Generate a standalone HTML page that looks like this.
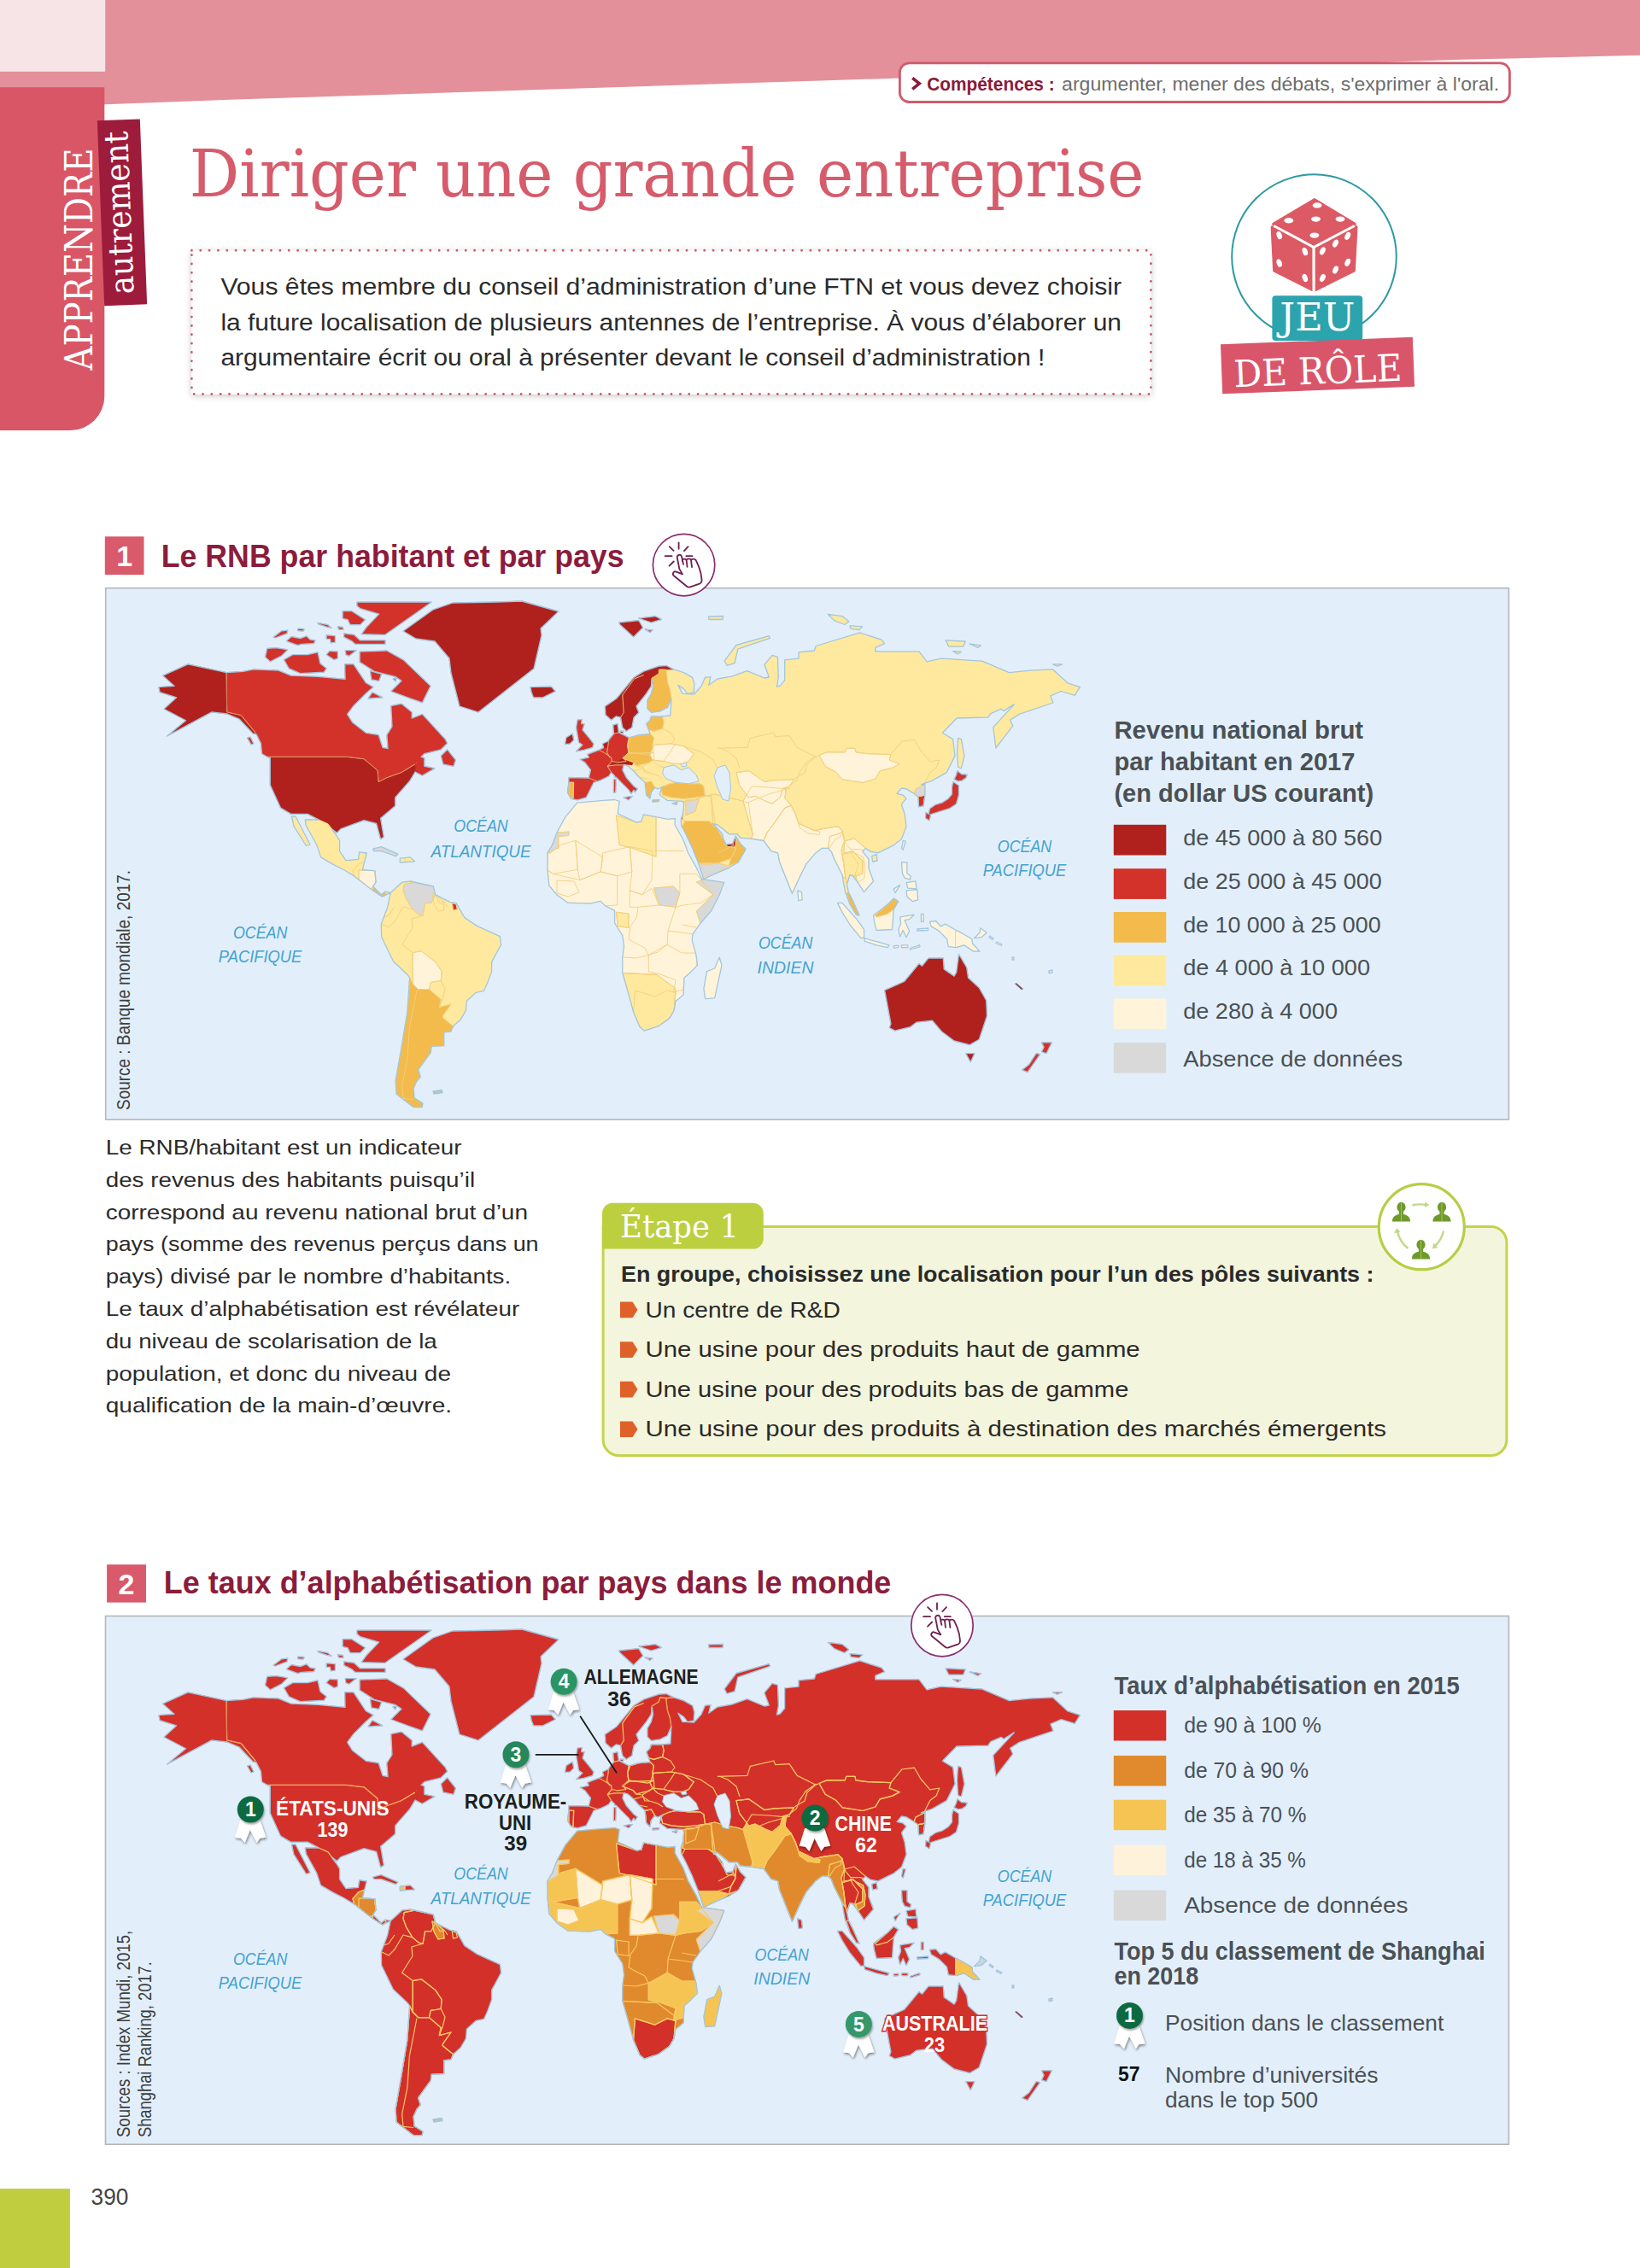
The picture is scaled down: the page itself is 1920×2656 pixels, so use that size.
<!DOCTYPE html>
<html lang="fr"><head><meta charset="utf-8"><title>Diriger une grande entreprise</title>
<style>html,body{margin:0;padding:0;background:#fff}svg{display:block}</style></head>
<body><svg width="1920" height="2656" viewBox="0 0 1920 2656">
<rect x="0" y="0" width="1920" height="2656" fill="#fff"/>
<defs>
<clipPath id="c1"><rect x="124.5" y="689.5" width="1641" height="621"/></clipPath>
<clipPath id="c2"><rect x="124.3" y="1893.3" width="1641" height="617"/></clipPath>
<filter id="boxshadow" x="-5%" y="-10%" width="110%" height="125%"><feGaussianBlur in="SourceAlpha" stdDeviation="4"/><feOffset dx="0" dy="2"/><feComponentTransfer><feFuncA type="linear" slope="0.22"/></feComponentTransfer><feMerge><feMergeNode/><feMergeNode in="SourceGraphic"/></feMerge></filter>
<filter id="shd" x="-30%" y="-30%" width="160%" height="160%"><feGaussianBlur in="SourceAlpha" stdDeviation="1.5"/><feOffset dx="1" dy="1.5"/><feComponentTransfer><feFuncA type="linear" slope="0.45"/></feComponentTransfer><feMerge><feMergeNode/><feMergeNode in="SourceGraphic"/></feMerge></filter>
<filter id="shd2" x="-30%" y="-30%" width="160%" height="160%"><feGaussianBlur in="SourceAlpha" stdDeviation="1.2"/><feOffset dx="0.8" dy="1.5"/><feComponentTransfer><feFuncA type="linear" slope="0.35"/></feComponentTransfer><feMerge><feMergeNode/><feMergeNode in="SourceGraphic"/></feMerge></filter>
</defs>
<polygon points="0,0 1920,0 1920,64.8 1720,69.6 960,94.5 260,117 123,122.2 0,122.2" fill="#e3909a"/>
<rect x="0" y="0" width="123.2" height="83.8" fill="#f7e4e7"/>
<path d="M0,102.3 H122.3 V464 A40,40 0 0 1 82.3,504 H0 Z" fill="#d95666"/>
<rect x="-25" y="-108.5" width="50" height="217" fill="#9d1c3b" transform="translate(143,248.8) rotate(-2.2)"/>
<text x="0" y="0" font-family="'DejaVu Serif', 'Liberation Serif', serif" font-size="45" fill="#fff" textLength="260" lengthAdjust="spacingAndGlyphs" transform="translate(107.5,433.5) rotate(-90)">APPRENDRE</text>
<text x="0" y="0" font-family="'DejaVu Serif', 'Liberation Serif', serif" font-size="39" fill="#fff" textLength="191" lengthAdjust="spacingAndGlyphs" transform="translate(156.5,344) rotate(-92.2)">autrement</text>
<text x="221.8" y="230" font-family="'DejaVu Serif', 'Liberation Serif', serif" font-size="77.5" fill="#d65b6b" textLength="1117.8" lengthAdjust="spacingAndGlyphs">Diriger une grande entreprise</text>
<rect x="1053.4" y="73.9" width="714" height="45.6" rx="11" fill="#fff" stroke="#d05a6d" stroke-width="2.8"/>
<polyline points="1068.2,91.3 1076.3,97.8 1068.2,104.3" fill="none" stroke="#8b1a3a" stroke-width="3.6" stroke-linejoin="miter"/>
<text x="1085.2" y="105.9" font-family="'Liberation Sans', Arial, sans-serif" font-size="22" fill="#8b1a3a" font-weight="bold" textLength="149.5" lengthAdjust="spacingAndGlyphs">Compétences :</text>
<text x="1243.1" y="105.9" font-family="'Liberation Sans', Arial, sans-serif" font-size="22" fill="#6d6d6d" textLength="512" lengthAdjust="spacingAndGlyphs">argumenter, mener des débats, s'exprimer à l'oral.</text>
<rect x="224.4" y="293.2" width="1123" height="168.3" fill="#fff" filter="url(#boxshadow)"/>
<rect x="224.4" y="293.2" width="1123" height="168.3" fill="none" stroke="#cf5a6a" stroke-width="2.9" stroke-dasharray="0 10.35" stroke-linecap="round"/>
<text x="258.4" y="345" font-family="'Liberation Sans', Arial, sans-serif" font-size="28.4" fill="#2b2b2b" textLength="1054.6" lengthAdjust="spacingAndGlyphs">Vous êtes membre du conseil d’administration d’une FTN et vous devez choisir</text>
<text x="258.4" y="386.6" font-family="'Liberation Sans', Arial, sans-serif" font-size="28.4" fill="#2b2b2b" textLength="1054.6" lengthAdjust="spacingAndGlyphs">la future localisation de plusieurs antennes de l’entreprise. À vous d’élaborer un</text>
<text x="258.4" y="428.2" font-family="'Liberation Sans', Arial, sans-serif" font-size="28.4" fill="#2b2b2b" textLength="965" lengthAdjust="spacingAndGlyphs">argumentaire écrit ou oral à présenter devant le conseil d’administration !</text>
<circle cx="1538.5" cy="300.6" r="96.3" fill="none" stroke="#2b9aa2" stroke-width="2"/>
<g>
<polygon points="1538.9,234.1 1585.7,262.5 1538,287.7 1491.3,262.5" fill="#dc5a64" stroke="#dc5a64" stroke-width="4" stroke-linejoin="round"/>
<polygon points="1489.6,266.2 1535.8,291.5 1536.3,339 1492.1,316.8" fill="#dc5a64" stroke="#dc5a64" stroke-width="4" stroke-linejoin="round"/>
<polygon points="1540.3,291.5 1587.5,266.2 1584.9,316.8 1540.3,339" fill="#dc5a64" stroke="#dc5a64" stroke-width="4" stroke-linejoin="round"/>
<polyline points="1491.3,264.5 1538,289.5 1585.7,264.5" fill="none" stroke="#fff" stroke-width="3"/>
<line x1="1538" y1="289.5" x2="1538.1" y2="341" stroke="#fff" stroke-width="3.2"/>
<ellipse cx="1542.1" cy="240.4" rx="5.4" ry="3.2" fill="#fff"/>
<ellipse cx="1508.8" cy="258.2" rx="5.4" ry="3.2" fill="#fff"/>
<ellipse cx="1540.5" cy="256.6" rx="5.4" ry="3.2" fill="#fff"/>
<ellipse cx="1569" cy="256.6" rx="5.4" ry="3.2" fill="#fff"/>
<ellipse cx="1538.9" cy="275.6" rx="5.4" ry="3.2" fill="#fff"/>
<ellipse cx="1497.7" cy="275.6" rx="3" ry="4.8" fill="#fff" transform="rotate(-20 1497.7 275.6)"/>
<ellipse cx="1527.8" cy="294.6" rx="3" ry="4.8" fill="#fff" transform="rotate(-20 1527.8 294.6)"/>
<ellipse cx="1497.7" cy="308.1" rx="3" ry="4.8" fill="#fff" transform="rotate(-20 1497.7 308.1)"/>
<ellipse cx="1527.8" cy="325.5" rx="3" ry="4.8" fill="#fff" transform="rotate(-20 1527.8 325.5)"/>
<ellipse cx="1577.7" cy="276.4" rx="3" ry="4.8" fill="#fff" transform="rotate(25 1577.7 276.4)"/>
<ellipse cx="1563.5" cy="285.1" rx="3" ry="4.8" fill="#fff" transform="rotate(25 1563.5 285.1)"/>
<ellipse cx="1548.4" cy="293.8" rx="3" ry="4.8" fill="#fff" transform="rotate(25 1548.4 293.8)"/>
<ellipse cx="1577.7" cy="307.3" rx="3" ry="4.8" fill="#fff" transform="rotate(25 1577.7 307.3)"/>
<ellipse cx="1563.5" cy="316" rx="3" ry="4.8" fill="#fff" transform="rotate(25 1563.5 316)"/>
<ellipse cx="1548.4" cy="325.5" rx="3" ry="4.8" fill="#fff" transform="rotate(25 1548.4 325.5)"/>
</g>
<rect x="1489.4" y="346.2" width="105.8" height="52.8" rx="4" fill="#2ba4ad"/>
<text x="1542.3" y="386.6" font-family="'DejaVu Serif', 'Liberation Serif', serif" font-size="45" fill="#fff" text-anchor="middle" textLength="88" lengthAdjust="spacingAndGlyphs">JEU</text>
<g transform="translate(1542.5,428) rotate(-2.2)"><rect x="-112.5" y="-29" width="225" height="58" fill="#d9566a"/>
<text x="0" y="21.5" font-family="'DejaVu Serif', 'Liberation Serif', serif" font-size="43.5" fill="#fff" text-anchor="middle" textLength="197" lengthAdjust="spacingAndGlyphs">DE RÔLE</text>
</g>
<rect x="122.8" y="628.3" width="45.7" height="44.8" fill="#d95a6a"/>
<text x="145.6" y="663.3" font-family="'Liberation Sans', Arial, sans-serif" font-size="34" fill="#fff" font-weight="bold" text-anchor="middle">1</text>
<text x="188.7" y="663.5" font-family="'Liberation Sans', Arial, sans-serif" font-size="37.5" fill="#8c1c3c" font-weight="bold" textLength="541.9" lengthAdjust="spacingAndGlyphs">Le RNB par habitant et par pays</text>
<rect x="123.7" y="688.7" width="1642.7" height="622.4" fill="#e2effb" stroke="#b3b7b9" stroke-width="1.6"/>
<clipPath id="land1"><polygon points="190.7,791.2 220,777.8 265.1,787.6 265.6,833.9 282.2,837.6 299.3,855 301,860 296,859 280,842 266,836 248,833.9 195.6,862 217.6,843.7 192,830.2 206.6,816.8 187.1,810.7 185.9,804.6 204.1,803.4"/><polygon points="265.1,787.6 284.6,786.3 296.8,783.9 326.1,785.1 340.7,791.2 372.4,792.4 404.1,795.4 403.7,777.8 413.9,777.8 428.5,799.8 437.1,804.6 428.5,812 413.9,826.6 406.6,836.3 412.7,846.1 428.5,858.3 443.2,860.7 448,875.4 454.1,876.6 452.9,860.7 459,851 457.8,826.6 470,824.1 482.2,833.9 482.2,841.2 494.4,836.3 521.2,865.6 523.7,870.5 516.3,877.8 496.8,882.7 487.1,892.4 487.1,902.2 470,904.6 452.9,910.7 443.2,915.6 442,902.2 426.1,888.8 405.4,886.3 312.7,886.3 306.6,882.7 305.4,870.5 299.3,858.3 282.2,837.6 266.3,833.9"/><polygon points="312.7,886.3 405.4,886.3 426.1,888.8 442,902.2 443.2,915.6 452.9,910.7 470,904.6 485.9,894.9 487.1,902.2 479.8,914.4 462.7,933.9 462.7,943.7 445.6,958.3 449.3,980.2 445.6,982.7 440.7,964.4 426.1,960.7 399.3,970.5 394.4,975.4 382.2,965.6 373.2,960 360.2,953.4 340.7,953.4 328.5,946.1 316.3,919.3 316.3,887.6"/><polygon points="488.3,885.1 496.8,887.6 496.8,897.3 509,899.8 494.4,908.3 486,904"/><polygon points="516.3,885.1 523.7,877.8 533.4,890 531,897.3 518.8,894.9"/><polygon points="289.5,864 293,863 297,871 294,872"/><polygon points="357.3,960 373.2,960 384.1,964.9 393.9,978.3 397.6,984.4 397.6,996.6 404.9,1007.6 419.5,1006.3 420.7,997.8 429.3,999 426.8,1008.8 424.4,1018.5 439,1019.8 440.2,1033.2 436.6,1038 446.3,1047.8 451.2,1044.1 457.3,1045.4 447.6,1050.2 436.6,1042.9 426.8,1035.6 414.6,1025.9 402.4,1018.5 390.2,1012.4 375.6,1003.9 370.7,989.3 358.5,967.3"/><polygon points="341.5,956 346,956 363,989 358.5,990.5 343.9,967.3"/><polygon points="436.6,994.1 446.3,991.7 465.9,1000.2 463.4,1002.7 446.3,996.6 437.8,996.6"/><polygon points="468.3,1005.1 480.5,1003.9 485.4,1008.8 468.3,1010"/><polygon points="472,739 507,714 530,706 582,705 611,704 654,716 633,736 634,744 625,783 560,834 538,827 528,788 526,771 509,751 487,748"/><polygon points="418,705.2 505.1,705.2 451,743.3 423.2,742.6 429,734.5 443.7,719.1 421.7,712.6 418,709.6"/><polygon points="401.2,715.5 411.5,715.5 427.6,725.7 421.7,731.6 410,731.6 407.1,725.7 401.2,724.3"/><polygon points="421.2,763.2 452.9,762 472.4,772.9 504.1,803.4 494.4,822.9 477.3,816.8 457.8,809.5 470,797.3 462.7,792.4 438.3,786.3 421.2,775.4"/><polygon points="402.7,741.8 414.4,743.3 421.7,749.9 451,749.9 451,754.3 415.9,754.3 411.5,750.6 402.7,746.2"/><polygon points="382.2,743.8 392.4,744.6 392.4,752.1 387.3,752.8 386.6,748.5 382.2,748.1"/><polygon points="372,729.4 383.7,731.6 388.1,735.2 383.7,734.5 372.7,730.9"/><polygon points="395.4,733.8 401.5,734.5 402,737.4 396.5,737"/><polygon points="320,746.2 329.5,738.9 336.8,738.2 336.1,741.8 322.2,747"/><polygon points="335.4,750.6 341.2,745.5 351.5,747.7 358.8,744.8 363.2,749.1 369,749.9 367.6,753.5 352.9,754.3 348.5,755.7 336.8,751.3"/><polygon points="348.5,736.2 355.9,736.5 355.5,738.9 349,738.6"/><polygon points="312.7,759.4 323.7,758.7 336.8,760.9 329.5,768.2 316.3,774.8 310.5,769.6"/><polygon points="332.4,772.6 342.7,766.7 360.2,766.7 372,763.8 374.9,777 382.2,782.8 379.3,787.2 351.5,788.7 338.3,782.8"/><polygon points="385.9,762.3 395.4,763 395.4,771.1 391,772.6 382.2,766.7"/><polygon points="404.2,761.6 417.3,761.6 408.5,768.2 404.9,766.7"/><polygon points="433.4,785.7 446.6,789.4 443.7,797.4 434.9,795.9"/><polygon points="431,818 448,816.8 435.9,810.7"/><polygon points="460,795 464,794 463,798"/><polygon points="457.3,1045.4 470.7,1033.2 480.5,1032 507.3,1038 509.8,1047.8 526.8,1056.3 534.1,1057.6 543.9,1074.6 558.5,1084.4 585.4,1096.6 586.6,1106.3 575.6,1126.6 575.6,1137.6 571,1150.4 566.5,1160.4 557.3,1162.3 546.3,1172.3 545.4,1183.3 539,1194.3 530.8,1201.6 528,1208 519.8,1208.9 519.8,1224.5 505.2,1225.4 504.3,1232.7 498.8,1240 489.6,1252.8 492.4,1261 487.8,1266.5 484.1,1274.8 485.1,1285.7 495.1,1292.1 494.2,1296.7 484.1,1296.7 464,1281.2 463.1,1265.6 469.5,1229 476.8,1185.1 479.6,1144.9 476.8,1141.2 460.4,1125.7 446.6,1097.3 446.3,1082 453.7,1062.4"/><polygon points="507,1278 517,1276.5 518,1279.5 508,1281"/><polygon points="675.7,940.1 706.8,937.4 719.6,936.5 725.1,938.3 723.3,952.9 745.2,963 750.7,962.1 753.5,953.8 781.8,959.3 790.3,958.5 790.1,965.7 800.1,984 805.6,998.7 814.8,1015.1 821.6,1029.5 823.9,1029.8 847.7,1033.4 842.2,1048 833,1066.3 820.2,1081 811.1,1093.8 810.2,1101.1 814.8,1117.6 816.6,1130.4 807.4,1139.5 801,1145 800.1,1165.1 791,1172.4 789.1,1183.4 783.7,1192.6 770.9,1201.7 754.4,1207.2 748.9,1202.6 741.6,1185.2 736.1,1165.1 728.8,1139.5 728.8,1121.2 730.6,1108.4 728.8,1095.6 719.6,1081 719.6,1066.3 708.7,1060.9 703.2,1055.4 690.4,1058.1 664.8,1057.2 652,1048 642.8,1037.1 641,1018.8 641,998.7 646.5,989.5 652,974.9 662,956.6"/><polygon points="842.2,1121.2 845,1130.4 836.7,1168.8 825.7,1169.7 823.9,1157.8 827.6,1137.7 836.7,1134"/><polygon points="780,784 788.8,783.9 800.5,787.6 810.7,793.4 812.9,800.7 812.2,811 804.9,812.4 800.5,806.6 793.9,802.2 799,812.4 812.2,813.2 821,803.7 825.4,793.4 832,792.7 829.8,802.2 840,795 856.5,792.1 874.8,785.7 894.9,794 900.4,793 894.9,778.4 904,767.4 910.4,769.3 911.3,793 909.5,804 913.2,803.1 918.7,796.7 918.7,772.9 935.1,771.1 935.1,763.8 953.4,762 955.2,756.5 1006.5,740.9 1032.1,749.1 1035.7,753.7 1024.8,758.3 1024.8,762.9 1076,762.9 1085.1,774.8 1101.6,771.1 1149.8,774.1 1181.5,787.6 1205.9,785.1 1232.7,783.9 1249.8,799.8 1264.4,804.6 1258.3,814.4 1242.4,809.5 1229.9,814.9 1232.9,823 1193.3,836.4 1182.6,843.3 1185.7,850.1 1165.9,876 1162.8,851.6 1188,824.2 1175,832.6 1172,830.3 1159.8,835.6 1156.7,840.2 1120.1,841 1103.4,858.3 1115.6,865.6 1118,885.1 1108.3,904.6 1091.2,914.4 1076.6,919.3 1082.9,918.4 1082.9,931.2 1081.1,944 1075.6,944.9 1074.7,933 1070.1,929.4 1061,923.9 1055.5,923 1050,929.4 1057.3,931.2 1061,934.9 1055.5,942.2 1059.1,953.2 1061,967.8 1055.5,982.4 1046.3,989.8 1039,993.4 1028,998.9 1018.9,997.1 1013.4,993.4 1009.8,997.1 1017.1,1006.2 1017.1,1017.2 1022.6,1031.8 1011.6,1044.6 1007.9,1039.1 1004.3,1033.7 998.8,1026.3 995.1,1024.5 991.5,1035.5 993.3,1044.6 998.8,1055.6 1006.1,1072.1 1002.4,1071.2 995.1,1059.3 989.6,1044.6 987.8,1035.5 986,1024.5 980.5,1013.5 976.8,1006.2 973.2,997.1 969.5,993.4 962.2,993.4 954.9,998.9 943.9,1011.7 936.6,1026.3 927.4,1046.5 919.3,1026.2 912.7,1009.8 910.5,998.8 902.8,996.6 894,984.5 879.8,982.3 866.6,981.2 863.3,976.8 853.4,976.8 846.8,971.3 840.2,965.9 834.8,964.8 838,968 845.7,976.8 846.8,982.3 850.1,988.9 857.8,987.8 861.1,979 862.2,980.1 866.6,987.8 873.2,994.4 864.4,1009.8 853.4,1016.3 838,1022.9 823.8,1029.5 817.2,1009.8 810.6,993.3 802.9,976.8 797.5,966.5 797.4,959.3 799.6,952.7 800.7,941.7 799.6,938.4 781,937.3 772.2,930.7 774.1,923.7 776.6,921 770,924 766.8,922.2 762.4,928 761,935.4 756.6,931 755.1,916.3 748,910 742,903 735,897 722,893 729,888 735,882 736,864 747.8,860.7 761,859.3 759.5,854.9 756.6,847.6 761,843.2 762.4,838.8 775.6,838.8 785,838 785.9,818.3 784.4,808 781.5,799.3 780,787.6"/><polygon points="708.3,827.1 721.5,818.3 728.8,809.5 742,793.4 753.7,786.1 771.2,780.2 780,779.5 788.8,783.9 780,784.6 772.7,783.9 771.2,789 763.2,794.1 762.4,803.7 756.6,812.4 744.9,827.1 747.8,834.4 742,840.2 739.8,852 733.2,856.3 728.8,852 726.6,840.2 721.5,838.8 715.6,843.2 709,837.3"/><polygon points="771.2,783.9 780,783.9 780,787.6 781.5,799.3 784.4,808 785.9,818.3 781.5,828.5 772.7,832.9 762.4,834.4 758,830 758,819.8 762.4,812.4 764.6,803.7 763.2,794.1 771.2,789"/><polygon points="717.8,849 722.9,847.6 724.4,857.8 718.5,859.3"/><polygon points="726.5,856 730,856.5 729,859 726,858.5"/><polygon points="676.1,843.2 681.2,842.4 680.5,847.6 684.1,847.6 682,854.9 689.3,863.7 695.1,871 693.7,875.4 683.4,878.3 674.6,879.8 682,872.4 677.6,869.5 676.1,860.7 674.6,852"/><polygon points="662.9,863.7 670.2,859.3 671.7,866.6 667.3,871 661.5,871.7"/><polygon points="621,804.6 645.4,804.1 650.2,809.5 635.6,816.8 624.6,816.8 622.2,810.7"/><polygon points="679,889.3 689.3,887.1 687.8,883.4 701,878.3 706.8,881.2 715.6,887.1 716.3,891.5 711.2,897.3 715.6,904.6 712.7,909 703.9,913.4 699.5,914.9 689.3,911.2 691.5,901.7 684.9,892.9"/><polygon points="665.9,910.5 689.3,911.2 699.5,914.9 695.1,916.3 689.3,928 686.3,933.9 676.1,936.8 668.8,935.4 664.4,928 665.9,916.3"/><polygon points="718.5,859.3 724.4,857.8 736.1,863.7 734.6,872.4 736.1,882.7 728.8,887.1 733.2,891.5 722.9,892.9 715.6,891.5 714.1,887.1 710.5,881.2 712,872.4 712.7,866.6"/><polygon points="705.4,871 712,868 712.5,872 711.2,876 706.8,876"/><polygon points="701,878.3 706.8,875.4 711.2,876 714.1,880 715.6,887.1 706.8,881.2"/><polygon points="712,895.1 716,892 722,893 721.5,897.5 714.1,899.5"/><polygon points="722,893 730.2,887.1 739.8,887.1 742.7,891.5 739.8,895.9 731.7,895.1 722,897"/><polygon points="711.2,897.3 720,895.9 730.2,895.9 728.8,901.7 733.2,910.5 742,920.7 746.3,923.7 743.4,928 742,925.1 739,929.5 736.1,925.1 728.8,917.8 721.5,910.5 715.6,904.6"/><polygon points="730.2,933.9 740.5,932.4 736.1,936.8"/><polygon points="718.5,912.7 721,912.7 721,920 720.7,928 718.3,928"/><polygon points="719.5,903 721.5,903 721.5,910 719.5,910"/><polygon points="764,937 772,936.5 771,938.5 764,939"/><polygon points="787,941 793,939.5 792,942.5"/><polygon points="724.6,729 747.8,726.6 752.7,735 741.7,746 725.9,731.5"/><polygon points="747.8,724 767.3,721.7 774.6,725.4 762.4,729"/><polygon points="755,737 764,738 761,740.5"/><polygon points="829.5,722 846.6,721.5 846,725.5 830,725.5"/><polygon points="848.2,773.8 862,755.5 900.4,744.6 901.3,747.3 863.8,760.1 860.1,776.6 851,779.3"/><polygon points="969.3,719.3 986.3,721.7 993.7,727.8 988.8,731.5 976.6,726.6"/><polygon points="994.9,732.7 1009.5,733.9 1005.9,737.6 996.1,736.3"/><polygon points="1107.1,749.8 1130.2,751 1127.8,757.1 1110.7,757.1"/><polygon points="1135.1,753.9 1148.5,755.9 1144.9,758.3"/><polygon points="1115.6,762.5 1125.4,763.5 1121,766"/><polygon points="1232.7,777.8 1243.7,777.8 1237.6,780.2"/><polygon points="1121.7,864.4 1125.4,865.6 1129,885.1 1125.4,899.8 1121.7,898.5 1120.5,880.2"/><polygon points="1120.9,902.7 1125.5,906.5 1132.3,907.3 1130.8,911.1 1126.2,914.1 1121.6,914.9 1117.1,912.6 1119.4,908"/><polygon points="1116,915.5 1122.5,920 1122.5,931 1119.5,941.5 1112,946.5 1102.5,949.5 1093,952.5 1087,954.5 1088.5,947 1095,942.5 1103,940 1110,935.5 1114.5,930 1114.5,921.5"/><polygon points="1084,951.5 1089.5,954.5 1088,961 1083.5,958"/><polygon points="1057.3,984.3 1060.1,985.2 1057.3,995.2 1055.5,993.4"/><polygon points="1020.7,1002.6 1026.2,1000.7 1027.1,1008 1021.6,1009"/><polygon points="933.8,1042.8 938.4,1044.6 939.3,1053.8 934.8,1054.7"/><polygon points="1055.5,1009.9 1061.9,1009.9 1061.9,1022.7 1066.5,1026.3 1065.5,1030 1059.1,1028.2 1056.4,1022.7"/><polygon points="1061,1033.7 1072,1031.8 1072.9,1041 1062.8,1040.1"/><polygon points="1061,1042.8 1073.8,1041.9 1074.7,1053.8 1068.3,1055.6 1061.9,1050.1"/><polygon points="1046.3,1041 1053.7,1036.4 1048.2,1045.5"/><polygon points="1022.6,1072.1 1039,1059.3 1046.3,1052 1051.8,1055.6 1046.3,1064.8 1044.5,1088.5 1026.2,1089.5 1023.5,1079.4"/><polygon points="980.5,1057.4 986,1057.4 1002.4,1075.7 1011.6,1088.5 1011.6,1097.7 1007.9,1098.6 995.1,1083 986,1068.4"/><polygon points="1011.6,1098.6 1028,1103.2 1040.9,1106.8 1039,1109.6 1026.2,1106.8 1012.5,1102.3"/><polygon points="1053.7,1073.9 1070.1,1071.2 1064.6,1076.6 1059.1,1077.6 1064.6,1090.4 1061,1097.7 1057.3,1089.5 1053.7,1096.8 1051.8,1088.5 1054.6,1081.2"/><polygon points="1046.3,1107.7 1051.8,1107.2 1051.8,1109.6 1046.3,1110"/><polygon points="1055.5,1106.8 1062.8,1106.8 1062.8,1109.6 1055.5,1109.6"/><polygon points="1065.5,1110.5 1076.5,1106.7 1077,1108.7 1066,1112"/><polygon points="1073.8,1088 1086.6,1087 1086.6,1089.5 1073.8,1090"/><polygon points="1078.4,1070.3 1081.1,1070.3 1081.1,1079.4 1078.4,1079.4"/><polygon points="1088.4,1079.4 1095.7,1078.5 1101.2,1084.9 1106.7,1082.1 1117.7,1088.5 1125,1092.2 1137.8,1099.5 1138.7,1105 1147,1114.1 1139.6,1114.1 1128.7,1106.8 1119.5,1109.6 1110.4,1108.7 1108.5,1099.5 1099.4,1090.4 1090.2,1084.9"/><polygon points="1147.9,1086.7 1155.2,1092.2 1148.8,1097.7 1140.5,1098.6 1147,1092.2"/><polygon points="1159,1096 1163,1099 1162,1100.5 1158,1097.5"/><polygon points="1167,1103 1173,1106 1172,1107.5 1166,1104.5"/><polygon points="1185,1121 1187,1121 1187,1124 1185,1124"/><polygon points="1228,1137 1232,1136 1232,1139 1228,1139.5"/><polygon points="1188.5,1152 1190,1151.5 1197.5,1158 1196,1159"/><polygon points="1035.7,1159.6 1058.5,1149.5 1075.9,1128.5 1079.6,1131.2 1086.9,1122.1 1104.3,1122.1 1105.2,1134.9 1117.1,1143.1 1119.8,1138.5 1122.6,1117.5 1131.7,1133 1133.5,1144.9 1146.3,1156.8 1154.6,1171.5 1155.5,1189.8 1146.3,1217.2 1135.4,1223.6 1117.1,1219 1102.4,1208 1091.5,1195.2 1073.2,1197.1 1065.9,1202.6 1047.6,1207.1 1041.2,1203.5 1043,1198.9"/><polygon points="1130.8,1233.7 1140.9,1233.7 1136.3,1243.7"/><polygon points="1219.5,1220.9 1231.4,1220.9 1225,1233.7 1219.5,1231.8 1222.2,1226.3"/><polygon points="1213.1,1233.7 1217.7,1234.6 1203,1255.6 1196.6,1252.9 1204.9,1246.5"/><polygon points="733,866 737,864 737,882 733,882"/><polygon points="710,895 716,894 716,899 710,899"/></clipPath>
<g clip-path="url(#c1)"><g transform="translate(0,0)">
<polygon points="190.7,791.2 220,777.8 265.1,787.6 265.6,833.9 282.2,837.6 299.3,855 301,860 296,859 280,842 266,836 248,833.9 195.6,862 217.6,843.7 192,830.2 206.6,816.8 187.1,810.7 185.9,804.6 204.1,803.4" fill="#b0211d" stroke="#b0211d" stroke-width="0.5" stroke-linejoin="round"/>
<polygon points="265.1,787.6 284.6,786.3 296.8,783.9 326.1,785.1 340.7,791.2 372.4,792.4 404.1,795.4 403.7,777.8 413.9,777.8 428.5,799.8 437.1,804.6 428.5,812 413.9,826.6 406.6,836.3 412.7,846.1 428.5,858.3 443.2,860.7 448,875.4 454.1,876.6 452.9,860.7 459,851 457.8,826.6 470,824.1 482.2,833.9 482.2,841.2 494.4,836.3 521.2,865.6 523.7,870.5 516.3,877.8 496.8,882.7 487.1,892.4 487.1,902.2 470,904.6 452.9,910.7 443.2,915.6 442,902.2 426.1,888.8 405.4,886.3 312.7,886.3 306.6,882.7 305.4,870.5 299.3,858.3 282.2,837.6 266.3,833.9" fill="#d3322b" stroke="#d3322b" stroke-width="0.5" stroke-linejoin="round"/>
<polygon points="312.7,886.3 405.4,886.3 426.1,888.8 442,902.2 443.2,915.6 452.9,910.7 470,904.6 485.9,894.9 487.1,902.2 479.8,914.4 462.7,933.9 462.7,943.7 445.6,958.3 449.3,980.2 445.6,982.7 440.7,964.4 426.1,960.7 399.3,970.5 394.4,975.4 382.2,965.6 373.2,960 360.2,953.4 340.7,953.4 328.5,946.1 316.3,919.3 316.3,887.6" fill="#b0211d" stroke="#b0211d" stroke-width="0.5" stroke-linejoin="round"/>
<polygon points="488.3,885.1 496.8,887.6 496.8,897.3 509,899.8 494.4,908.3 486,904" fill="#d3322b" stroke="#d3322b" stroke-width="0.5" stroke-linejoin="round"/>
<polygon points="516.3,885.1 523.7,877.8 533.4,890 531,897.3 518.8,894.9" fill="#d3322b" stroke="#d3322b" stroke-width="0.5" stroke-linejoin="round"/>
<polygon points="289.5,864 293,863 297,871 294,872" fill="#d3322b" stroke="#d3322b" stroke-width="0.5" stroke-linejoin="round"/>
<polygon points="357.3,960 373.2,960 384.1,964.9 393.9,978.3 397.6,984.4 397.6,996.6 404.9,1007.6 419.5,1006.3 420.7,997.8 429.3,999 426.8,1008.8 424.4,1018.5 439,1019.8 440.2,1033.2 436.6,1038 446.3,1047.8 451.2,1044.1 457.3,1045.4 447.6,1050.2 436.6,1042.9 426.8,1035.6 414.6,1025.9 402.4,1018.5 390.2,1012.4 375.6,1003.9 370.7,989.3 358.5,967.3" fill="#fee99e" stroke="#fee99e" stroke-width="0.5" stroke-linejoin="round"/>
<polygon points="341.5,956 346,956 363,989 358.5,990.5 343.9,967.3" fill="#fee99e" stroke="#fee99e" stroke-width="0.5" stroke-linejoin="round"/>
<polygon points="436.6,994.1 446.3,991.7 465.9,1000.2 463.4,1002.7 446.3,996.6 437.8,996.6" fill="#d9d9d9" stroke="#d9d9d9" stroke-width="0.5" stroke-linejoin="round"/>
<polygon points="468.3,1005.1 480.5,1003.9 485.4,1008.8 468.3,1010" fill="#fee99e" stroke="#fee99e" stroke-width="0.5" stroke-linejoin="round"/>
<polygon points="472,739 507,714 530,706 582,705 611,704 654,716 633,736 634,744 625,783 560,834 538,827 528,788 526,771 509,751 487,748" fill="#b0211d" stroke="#b0211d" stroke-width="0.5" stroke-linejoin="round"/>
<polygon points="418,705.2 505.1,705.2 451,743.3 423.2,742.6 429,734.5 443.7,719.1 421.7,712.6 418,709.6" fill="#d3322b" stroke="#d3322b" stroke-width="0.5" stroke-linejoin="round"/>
<polygon points="401.2,715.5 411.5,715.5 427.6,725.7 421.7,731.6 410,731.6 407.1,725.7 401.2,724.3" fill="#d3322b" stroke="#d3322b" stroke-width="0.5" stroke-linejoin="round"/>
<polygon points="421.2,763.2 452.9,762 472.4,772.9 504.1,803.4 494.4,822.9 477.3,816.8 457.8,809.5 470,797.3 462.7,792.4 438.3,786.3 421.2,775.4" fill="#d3322b" stroke="#d3322b" stroke-width="0.5" stroke-linejoin="round"/>
<polygon points="402.7,741.8 414.4,743.3 421.7,749.9 451,749.9 451,754.3 415.9,754.3 411.5,750.6 402.7,746.2" fill="#d3322b" stroke="#d3322b" stroke-width="0.5" stroke-linejoin="round"/>
<polygon points="382.2,743.8 392.4,744.6 392.4,752.1 387.3,752.8 386.6,748.5 382.2,748.1" fill="#d3322b" stroke="#d3322b" stroke-width="0.5" stroke-linejoin="round"/>
<polygon points="372,729.4 383.7,731.6 388.1,735.2 383.7,734.5 372.7,730.9" fill="#d3322b" stroke="#d3322b" stroke-width="0.5" stroke-linejoin="round"/>
<polygon points="395.4,733.8 401.5,734.5 402,737.4 396.5,737" fill="#d3322b" stroke="#d3322b" stroke-width="0.5" stroke-linejoin="round"/>
<polygon points="320,746.2 329.5,738.9 336.8,738.2 336.1,741.8 322.2,747" fill="#d3322b" stroke="#d3322b" stroke-width="0.5" stroke-linejoin="round"/>
<polygon points="335.4,750.6 341.2,745.5 351.5,747.7 358.8,744.8 363.2,749.1 369,749.9 367.6,753.5 352.9,754.3 348.5,755.7 336.8,751.3" fill="#d3322b" stroke="#d3322b" stroke-width="0.5" stroke-linejoin="round"/>
<polygon points="348.5,736.2 355.9,736.5 355.5,738.9 349,738.6" fill="#d3322b" stroke="#d3322b" stroke-width="0.5" stroke-linejoin="round"/>
<polygon points="312.7,759.4 323.7,758.7 336.8,760.9 329.5,768.2 316.3,774.8 310.5,769.6" fill="#d3322b" stroke="#d3322b" stroke-width="0.5" stroke-linejoin="round"/>
<polygon points="332.4,772.6 342.7,766.7 360.2,766.7 372,763.8 374.9,777 382.2,782.8 379.3,787.2 351.5,788.7 338.3,782.8" fill="#d3322b" stroke="#d3322b" stroke-width="0.5" stroke-linejoin="round"/>
<polygon points="385.9,762.3 395.4,763 395.4,771.1 391,772.6 382.2,766.7" fill="#d3322b" stroke="#d3322b" stroke-width="0.5" stroke-linejoin="round"/>
<polygon points="404.2,761.6 417.3,761.6 408.5,768.2 404.9,766.7" fill="#d3322b" stroke="#d3322b" stroke-width="0.5" stroke-linejoin="round"/>
<polygon points="433.4,785.7 446.6,789.4 443.7,797.4 434.9,795.9" fill="#d3322b" stroke="#d3322b" stroke-width="0.5" stroke-linejoin="round"/>
<polygon points="431,818 448,816.8 435.9,810.7" fill="#d3322b" stroke="#d3322b" stroke-width="0.5" stroke-linejoin="round"/>
<polygon points="460,795 464,794 463,798" fill="#d3322b" stroke="#d3322b" stroke-width="0.5" stroke-linejoin="round"/>
<polygon points="457.3,1045.4 470.7,1033.2 480.5,1032 507.3,1038 509.8,1047.8 526.8,1056.3 534.1,1057.6 543.9,1074.6 558.5,1084.4 585.4,1096.6 586.6,1106.3 575.6,1126.6 575.6,1137.6 571,1150.4 566.5,1160.4 557.3,1162.3 546.3,1172.3 545.4,1183.3 539,1194.3 530.8,1201.6 528,1208 519.8,1208.9 519.8,1224.5 505.2,1225.4 504.3,1232.7 498.8,1240 489.6,1252.8 492.4,1261 487.8,1266.5 484.1,1274.8 485.1,1285.7 495.1,1292.1 494.2,1296.7 484.1,1296.7 464,1281.2 463.1,1265.6 469.5,1229 476.8,1185.1 479.6,1144.9 476.8,1141.2 460.4,1125.7 446.6,1097.3 446.3,1082 453.7,1062.4" fill="#fee99e" stroke="#fee99e" stroke-width="0.5" stroke-linejoin="round"/>
<polygon points="507,1278 517,1276.5 518,1279.5 508,1281" fill="#b9c9b0" stroke="#b9c9b0" stroke-width="0.5" stroke-linejoin="round"/>
<polygon points="675.7,940.1 706.8,937.4 719.6,936.5 725.1,938.3 723.3,952.9 745.2,963 750.7,962.1 753.5,953.8 781.8,959.3 790.3,958.5 790.1,965.7 800.1,984 805.6,998.7 814.8,1015.1 821.6,1029.5 823.9,1029.8 847.7,1033.4 842.2,1048 833,1066.3 820.2,1081 811.1,1093.8 810.2,1101.1 814.8,1117.6 816.6,1130.4 807.4,1139.5 801,1145 800.1,1165.1 791,1172.4 789.1,1183.4 783.7,1192.6 770.9,1201.7 754.4,1207.2 748.9,1202.6 741.6,1185.2 736.1,1165.1 728.8,1139.5 728.8,1121.2 730.6,1108.4 728.8,1095.6 719.6,1081 719.6,1066.3 708.7,1060.9 703.2,1055.4 690.4,1058.1 664.8,1057.2 652,1048 642.8,1037.1 641,1018.8 641,998.7 646.5,989.5 652,974.9 662,956.6" fill="#fff4da" stroke="#fff4da" stroke-width="0.5" stroke-linejoin="round"/>
<polygon points="842.2,1121.2 845,1130.4 836.7,1168.8 825.7,1169.7 823.9,1157.8 827.6,1137.7 836.7,1134" fill="#fff4da" stroke="#fff4da" stroke-width="0.5" stroke-linejoin="round"/>
<polygon points="780,784 788.8,783.9 800.5,787.6 810.7,793.4 812.9,800.7 812.2,811 804.9,812.4 800.5,806.6 793.9,802.2 799,812.4 812.2,813.2 821,803.7 825.4,793.4 832,792.7 829.8,802.2 840,795 856.5,792.1 874.8,785.7 894.9,794 900.4,793 894.9,778.4 904,767.4 910.4,769.3 911.3,793 909.5,804 913.2,803.1 918.7,796.7 918.7,772.9 935.1,771.1 935.1,763.8 953.4,762 955.2,756.5 1006.5,740.9 1032.1,749.1 1035.7,753.7 1024.8,758.3 1024.8,762.9 1076,762.9 1085.1,774.8 1101.6,771.1 1149.8,774.1 1181.5,787.6 1205.9,785.1 1232.7,783.9 1249.8,799.8 1264.4,804.6 1258.3,814.4 1242.4,809.5 1229.9,814.9 1232.9,823 1193.3,836.4 1182.6,843.3 1185.7,850.1 1165.9,876 1162.8,851.6 1188,824.2 1175,832.6 1172,830.3 1159.8,835.6 1156.7,840.2 1120.1,841 1103.4,858.3 1115.6,865.6 1118,885.1 1108.3,904.6 1091.2,914.4 1076.6,919.3 1082.9,918.4 1082.9,931.2 1081.1,944 1075.6,944.9 1074.7,933 1070.1,929.4 1061,923.9 1055.5,923 1050,929.4 1057.3,931.2 1061,934.9 1055.5,942.2 1059.1,953.2 1061,967.8 1055.5,982.4 1046.3,989.8 1039,993.4 1028,998.9 1018.9,997.1 1013.4,993.4 1009.8,997.1 1017.1,1006.2 1017.1,1017.2 1022.6,1031.8 1011.6,1044.6 1007.9,1039.1 1004.3,1033.7 998.8,1026.3 995.1,1024.5 991.5,1035.5 993.3,1044.6 998.8,1055.6 1006.1,1072.1 1002.4,1071.2 995.1,1059.3 989.6,1044.6 987.8,1035.5 986,1024.5 980.5,1013.5 976.8,1006.2 973.2,997.1 969.5,993.4 962.2,993.4 954.9,998.9 943.9,1011.7 936.6,1026.3 927.4,1046.5 919.3,1026.2 912.7,1009.8 910.5,998.8 902.8,996.6 894,984.5 879.8,982.3 866.6,981.2 863.3,976.8 853.4,976.8 846.8,971.3 840.2,965.9 834.8,964.8 838,968 845.7,976.8 846.8,982.3 850.1,988.9 857.8,987.8 861.1,979 862.2,980.1 866.6,987.8 873.2,994.4 864.4,1009.8 853.4,1016.3 838,1022.9 823.8,1029.5 817.2,1009.8 810.6,993.3 802.9,976.8 797.5,966.5 797.4,959.3 799.6,952.7 800.7,941.7 799.6,938.4 781,937.3 772.2,930.7 774.1,923.7 776.6,921 770,924 766.8,922.2 762.4,928 761,935.4 756.6,931 755.1,916.3 748,910 742,903 735,897 722,893 729,888 735,882 736,864 747.8,860.7 761,859.3 759.5,854.9 756.6,847.6 761,843.2 762.4,838.8 775.6,838.8 785,838 785.9,818.3 784.4,808 781.5,799.3 780,787.6" fill="#fee99e" stroke="#fee99e" stroke-width="0.5" stroke-linejoin="round"/>
<polygon points="708.3,827.1 721.5,818.3 728.8,809.5 742,793.4 753.7,786.1 771.2,780.2 780,779.5 788.8,783.9 780,784.6 772.7,783.9 771.2,789 763.2,794.1 762.4,803.7 756.6,812.4 744.9,827.1 747.8,834.4 742,840.2 739.8,852 733.2,856.3 728.8,852 726.6,840.2 721.5,838.8 715.6,843.2 709,837.3" fill="#b0211d" stroke="#b0211d" stroke-width="0.5" stroke-linejoin="round"/>
<polygon points="771.2,783.9 780,783.9 780,787.6 781.5,799.3 784.4,808 785.9,818.3 781.5,828.5 772.7,832.9 762.4,834.4 758,830 758,819.8 762.4,812.4 764.6,803.7 763.2,794.1 771.2,789" fill="#f2bb4b" stroke="#f2bb4b" stroke-width="0.5" stroke-linejoin="round"/>
<polygon points="717.8,849 722.9,847.6 724.4,857.8 718.5,859.3" fill="#b0211d" stroke="#b0211d" stroke-width="0.5" stroke-linejoin="round"/>
<polygon points="726.5,856 730,856.5 729,859 726,858.5" fill="#b0211d" stroke="#b0211d" stroke-width="0.5" stroke-linejoin="round"/>
<polygon points="676.1,843.2 681.2,842.4 680.5,847.6 684.1,847.6 682,854.9 689.3,863.7 695.1,871 693.7,875.4 683.4,878.3 674.6,879.8 682,872.4 677.6,869.5 676.1,860.7 674.6,852" fill="#d3322b" stroke="#d3322b" stroke-width="0.5" stroke-linejoin="round"/>
<polygon points="662.9,863.7 670.2,859.3 671.7,866.6 667.3,871 661.5,871.7" fill="#b0211d" stroke="#b0211d" stroke-width="0.5" stroke-linejoin="round"/>
<polygon points="621,804.6 645.4,804.1 650.2,809.5 635.6,816.8 624.6,816.8 622.2,810.7" fill="#b0211d" stroke="#b0211d" stroke-width="0.5" stroke-linejoin="round"/>
<polygon points="679,889.3 689.3,887.1 687.8,883.4 701,878.3 706.8,881.2 715.6,887.1 716.3,891.5 711.2,897.3 715.6,904.6 712.7,909 703.9,913.4 699.5,914.9 689.3,911.2 691.5,901.7 684.9,892.9" fill="#d3322b" stroke="#d3322b" stroke-width="0.5" stroke-linejoin="round"/>
<polygon points="665.9,910.5 689.3,911.2 699.5,914.9 695.1,916.3 689.3,928 686.3,933.9 676.1,936.8 668.8,935.4 664.4,928 665.9,916.3" fill="#d3322b" stroke="#d3322b" stroke-width="0.5" stroke-linejoin="round"/>
<polygon points="718.5,859.3 724.4,857.8 736.1,863.7 734.6,872.4 736.1,882.7 728.8,887.1 733.2,891.5 722.9,892.9 715.6,891.5 714.1,887.1 710.5,881.2 712,872.4 712.7,866.6" fill="#d3322b" stroke="#d3322b" stroke-width="0.5" stroke-linejoin="round"/>
<polygon points="705.4,871 712,868 712.5,872 711.2,876 706.8,876" fill="#b0211d" stroke="#b0211d" stroke-width="0.5" stroke-linejoin="round"/>
<polygon points="701,878.3 706.8,875.4 711.2,876 714.1,880 715.6,887.1 706.8,881.2" fill="#d3322b" stroke="#d3322b" stroke-width="0.5" stroke-linejoin="round"/>
<polygon points="712,895.1 716,892 722,893 721.5,897.5 714.1,899.5" fill="#b0211d" stroke="#b0211d" stroke-width="0.5" stroke-linejoin="round"/>
<polygon points="722,893 730.2,887.1 739.8,887.1 742.7,891.5 739.8,895.9 731.7,895.1 722,897" fill="#b0211d" stroke="#b0211d" stroke-width="0.5" stroke-linejoin="round"/>
<polygon points="711.2,897.3 720,895.9 730.2,895.9 728.8,901.7 733.2,910.5 742,920.7 746.3,923.7 743.4,928 742,925.1 739,929.5 736.1,925.1 728.8,917.8 721.5,910.5 715.6,904.6" fill="#d3322b" stroke="#d3322b" stroke-width="0.5" stroke-linejoin="round"/>
<polygon points="730.2,933.9 740.5,932.4 736.1,936.8" fill="#d3322b" stroke="#d3322b" stroke-width="0.5" stroke-linejoin="round"/>
<polygon points="718.5,912.7 721,912.7 721,920 720.7,928 718.3,928" fill="#d3322b" stroke="#d3322b" stroke-width="0.5" stroke-linejoin="round"/>
<polygon points="719.5,903 721.5,903 721.5,910 719.5,910" fill="#d3322b" stroke="#d3322b" stroke-width="0.5" stroke-linejoin="round"/>
<polygon points="764,937 772,936.5 771,938.5 764,939" fill="#f2bb4b" stroke="#f2bb4b" stroke-width="0.5" stroke-linejoin="round"/>
<polygon points="787,941 793,939.5 792,942.5" fill="#f2bb4b" stroke="#f2bb4b" stroke-width="0.5" stroke-linejoin="round"/>
<polygon points="724.6,729 747.8,726.6 752.7,735 741.7,746 725.9,731.5" fill="#b0211d" stroke="#b0211d" stroke-width="0.5" stroke-linejoin="round"/>
<polygon points="747.8,724 767.3,721.7 774.6,725.4 762.4,729" fill="#b0211d" stroke="#b0211d" stroke-width="0.5" stroke-linejoin="round"/>
<polygon points="755,737 764,738 761,740.5" fill="#b0211d" stroke="#b0211d" stroke-width="0.5" stroke-linejoin="round"/>
<polygon points="829.5,722 846.6,721.5 846,725.5 830,725.5" fill="#fee99e" stroke="#fee99e" stroke-width="0.5" stroke-linejoin="round"/>
<polygon points="848.2,773.8 862,755.5 900.4,744.6 901.3,747.3 863.8,760.1 860.1,776.6 851,779.3" fill="#fee99e" stroke="#fee99e" stroke-width="0.5" stroke-linejoin="round"/>
<polygon points="969.3,719.3 986.3,721.7 993.7,727.8 988.8,731.5 976.6,726.6" fill="#fee99e" stroke="#fee99e" stroke-width="0.5" stroke-linejoin="round"/>
<polygon points="994.9,732.7 1009.5,733.9 1005.9,737.6 996.1,736.3" fill="#fee99e" stroke="#fee99e" stroke-width="0.5" stroke-linejoin="round"/>
<polygon points="1107.1,749.8 1130.2,751 1127.8,757.1 1110.7,757.1" fill="#fee99e" stroke="#fee99e" stroke-width="0.5" stroke-linejoin="round"/>
<polygon points="1135.1,753.9 1148.5,755.9 1144.9,758.3" fill="#fee99e" stroke="#fee99e" stroke-width="0.5" stroke-linejoin="round"/>
<polygon points="1115.6,762.5 1125.4,763.5 1121,766" fill="#fee99e" stroke="#fee99e" stroke-width="0.5" stroke-linejoin="round"/>
<polygon points="1232.7,777.8 1243.7,777.8 1237.6,780.2" fill="#fee99e" stroke="#fee99e" stroke-width="0.5" stroke-linejoin="round"/>
<polygon points="1121.7,864.4 1125.4,865.6 1129,885.1 1125.4,899.8 1121.7,898.5 1120.5,880.2" fill="#fee99e" stroke="#fee99e" stroke-width="0.5" stroke-linejoin="round"/>
<polygon points="1120.9,902.7 1125.5,906.5 1132.3,907.3 1130.8,911.1 1126.2,914.1 1121.6,914.9 1117.1,912.6 1119.4,908" fill="#d3322b" stroke="#d3322b" stroke-width="0.5" stroke-linejoin="round"/>
<polygon points="1116,915.5 1122.5,920 1122.5,931 1119.5,941.5 1112,946.5 1102.5,949.5 1093,952.5 1087,954.5 1088.5,947 1095,942.5 1103,940 1110,935.5 1114.5,930 1114.5,921.5" fill="#d3322b" stroke="#d3322b" stroke-width="0.5" stroke-linejoin="round"/>
<polygon points="1084,951.5 1089.5,954.5 1088,961 1083.5,958" fill="#d3322b" stroke="#d3322b" stroke-width="0.5" stroke-linejoin="round"/>
<polygon points="1057.3,984.3 1060.1,985.2 1057.3,995.2 1055.5,993.4" fill="#fff4da" stroke="#fff4da" stroke-width="0.5" stroke-linejoin="round"/>
<polygon points="1020.7,1002.6 1026.2,1000.7 1027.1,1008 1021.6,1009" fill="#fee99e" stroke="#fee99e" stroke-width="0.5" stroke-linejoin="round"/>
<polygon points="933.8,1042.8 938.4,1044.6 939.3,1053.8 934.8,1054.7" fill="#fff4da" stroke="#fff4da" stroke-width="0.5" stroke-linejoin="round"/>
<polygon points="1055.5,1009.9 1061.9,1009.9 1061.9,1022.7 1066.5,1026.3 1065.5,1030 1059.1,1028.2 1056.4,1022.7" fill="#fff4da" stroke="#fff4da" stroke-width="0.5" stroke-linejoin="round"/>
<polygon points="1061,1033.7 1072,1031.8 1072.9,1041 1062.8,1040.1" fill="#fff4da" stroke="#fff4da" stroke-width="0.5" stroke-linejoin="round"/>
<polygon points="1061,1042.8 1073.8,1041.9 1074.7,1053.8 1068.3,1055.6 1061.9,1050.1" fill="#fff4da" stroke="#fff4da" stroke-width="0.5" stroke-linejoin="round"/>
<polygon points="1046.3,1041 1053.7,1036.4 1048.2,1045.5" fill="#fff4da" stroke="#fff4da" stroke-width="0.5" stroke-linejoin="round"/>
<polygon points="1022.6,1072.1 1039,1059.3 1046.3,1052 1051.8,1055.6 1046.3,1064.8 1044.5,1088.5 1026.2,1089.5 1023.5,1079.4" fill="#fff4da" stroke="#fff4da" stroke-width="0.5" stroke-linejoin="round"/>
<polygon points="980.5,1057.4 986,1057.4 1002.4,1075.7 1011.6,1088.5 1011.6,1097.7 1007.9,1098.6 995.1,1083 986,1068.4" fill="#fff4da" stroke="#fff4da" stroke-width="0.5" stroke-linejoin="round"/>
<polygon points="1011.6,1098.6 1028,1103.2 1040.9,1106.8 1039,1109.6 1026.2,1106.8 1012.5,1102.3" fill="#fff4da" stroke="#fff4da" stroke-width="0.5" stroke-linejoin="round"/>
<polygon points="1053.7,1073.9 1070.1,1071.2 1064.6,1076.6 1059.1,1077.6 1064.6,1090.4 1061,1097.7 1057.3,1089.5 1053.7,1096.8 1051.8,1088.5 1054.6,1081.2" fill="#fff4da" stroke="#fff4da" stroke-width="0.5" stroke-linejoin="round"/>
<polygon points="1046.3,1107.7 1051.8,1107.2 1051.8,1109.6 1046.3,1110" fill="#fff4da" stroke="#fff4da" stroke-width="0.5" stroke-linejoin="round"/>
<polygon points="1055.5,1106.8 1062.8,1106.8 1062.8,1109.6 1055.5,1109.6" fill="#fff4da" stroke="#fff4da" stroke-width="0.5" stroke-linejoin="round"/>
<polygon points="1065.5,1110.5 1076.5,1106.7 1077,1108.7 1066,1112" fill="#fff4da" stroke="#fff4da" stroke-width="0.5" stroke-linejoin="round"/>
<polygon points="1073.8,1088 1086.6,1087 1086.6,1089.5 1073.8,1090" fill="#fff4da" stroke="#fff4da" stroke-width="0.5" stroke-linejoin="round"/>
<polygon points="1078.4,1070.3 1081.1,1070.3 1081.1,1079.4 1078.4,1079.4" fill="#fff4da" stroke="#fff4da" stroke-width="0.5" stroke-linejoin="round"/>
<polygon points="1088.4,1079.4 1095.7,1078.5 1101.2,1084.9 1106.7,1082.1 1117.7,1088.5 1125,1092.2 1137.8,1099.5 1138.7,1105 1147,1114.1 1139.6,1114.1 1128.7,1106.8 1119.5,1109.6 1110.4,1108.7 1108.5,1099.5 1099.4,1090.4 1090.2,1084.9" fill="#fff4da" stroke="#fff4da" stroke-width="0.5" stroke-linejoin="round"/>
<polygon points="1147.9,1086.7 1155.2,1092.2 1148.8,1097.7 1140.5,1098.6 1147,1092.2" fill="#fff4da" stroke="#fff4da" stroke-width="0.5" stroke-linejoin="round"/>
<polygon points="1159,1096 1163,1099 1162,1100.5 1158,1097.5" fill="#fff4da" stroke="#fff4da" stroke-width="0.5" stroke-linejoin="round"/>
<polygon points="1167,1103 1173,1106 1172,1107.5 1166,1104.5" fill="#fff4da" stroke="#fff4da" stroke-width="0.5" stroke-linejoin="round"/>
<polygon points="1185,1121 1187,1121 1187,1124 1185,1124" fill="#fff4da" stroke="#fff4da" stroke-width="0.5" stroke-linejoin="round"/>
<polygon points="1228,1137 1232,1136 1232,1139 1228,1139.5" fill="#fff4da" stroke="#fff4da" stroke-width="0.5" stroke-linejoin="round"/>
<polygon points="1188.5,1152 1190,1151.5 1197.5,1158 1196,1159" fill="#7a4a5a" stroke="#7a4a5a" stroke-width="0.5" stroke-linejoin="round"/>
<polygon points="1035.7,1159.6 1058.5,1149.5 1075.9,1128.5 1079.6,1131.2 1086.9,1122.1 1104.3,1122.1 1105.2,1134.9 1117.1,1143.1 1119.8,1138.5 1122.6,1117.5 1131.7,1133 1133.5,1144.9 1146.3,1156.8 1154.6,1171.5 1155.5,1189.8 1146.3,1217.2 1135.4,1223.6 1117.1,1219 1102.4,1208 1091.5,1195.2 1073.2,1197.1 1065.9,1202.6 1047.6,1207.1 1041.2,1203.5 1043,1198.9" fill="#b0211d" stroke="#b0211d" stroke-width="0.5" stroke-linejoin="round"/>
<polygon points="1130.8,1233.7 1140.9,1233.7 1136.3,1243.7" fill="#b0211d" stroke="#b0211d" stroke-width="0.5" stroke-linejoin="round"/>
<polygon points="1219.5,1220.9 1231.4,1220.9 1225,1233.7 1219.5,1231.8 1222.2,1226.3" fill="#d3322b" stroke="#d3322b" stroke-width="0.5" stroke-linejoin="round"/>
<polygon points="1213.1,1233.7 1217.7,1234.6 1203,1255.6 1196.6,1252.9 1204.9,1246.5" fill="#d3322b" stroke="#d3322b" stroke-width="0.5" stroke-linejoin="round"/>
<polygon points="733,866 737,864 737,882 733,882" fill="#d3322b" stroke="#d3322b" stroke-width="0.5" stroke-linejoin="round"/>
<polygon points="710,895 716,894 716,899 710,899" fill="#d3322b" stroke="#d3322b" stroke-width="0.5" stroke-linejoin="round"/>
<g clip-path="url(#land1)">
<polygon points="473.2,1035.6 485.4,1033.2 507.3,1038 509.8,1047.8 504.9,1057.6 497.6,1057.6 495.1,1072.2 490.2,1071 482.9,1064.9 475.6,1052.7 472,1042.9" fill="#d9d9d9" stroke="#f2cf80" stroke-width="0.9" stroke-linejoin="round"/>
<polygon points="529.3,1057.6 534.1,1058.8 535.4,1064.9 530.5,1066.1" fill="#d3322b" stroke="#f2cf80" stroke-width="0.9" stroke-linejoin="round"/>
<polygon points="483.2,1115.6 493.3,1113.8 509.8,1126.6 517.1,1137.6 516.2,1148.5 504.3,1150.4 502.4,1158.6 489.6,1158.6 483.2,1152.2 483.2,1126.6" fill="#fff4da" stroke="#f2cf80" stroke-width="0.9" stroke-linejoin="round"/>
<polygon points="479.6,1144.9 483.2,1152.2 489.6,1158.6 502.4,1158.6 516.2,1170.5 514.3,1179.6 528,1176 518.9,1188.8 518,1191.5 528,1199.8 530.8,1201.6 528,1208 519.8,1208.9 519.8,1224.5 505.2,1225.4 504.3,1232.7 498.8,1240 489.6,1252.8 492.4,1261 487.8,1266.5 484.1,1274.8 485.1,1285.7 495.1,1292.1 494.2,1296.7 484.1,1296.7 464,1281.2 463.1,1265.6 469.5,1229 476.8,1185.1" fill="#f2bb4b" stroke="#f2cf80" stroke-width="0.9" stroke-linejoin="round"/>
<polygon points="420,1019.2 438.7,1018.9 440,1033 437,1039.5 432,1041 426.8,1035.6 420,1030" fill="#fff4da" stroke="#f2cf80" stroke-width="0.9" stroke-linejoin="round"/>
<polygon points="436.6,1038 446.3,1047.8 451.2,1044.1 452,1047 447.6,1050.2 436.6,1042.9" fill="#f2bb4b" stroke="#f2cf80" stroke-width="0.9" stroke-linejoin="round"/>
<polygon points="737.6,863.7 747.8,860.7 761,859.3 765.4,863.7 763.9,872.4 765.4,881.2 758,884.1 747.8,882.7 736.1,881.2 734.6,872.4" fill="#f2bb4b" stroke="#f2cf80" stroke-width="0.9" stroke-linejoin="round"/>
<polygon points="762.4,838.8 775.6,838.8 777.1,846.1 775.6,853.4 765.4,856.3 759.5,854.9 756.6,847.6 761,843.2" fill="#f2bb4b" stroke="#f2cf80" stroke-width="0.9" stroke-linejoin="round"/>
<polygon points="735,882 752,882 765.4,881.2 766,889 760,893 745,897 741,892.5 729,888" fill="#f2bb4b" stroke="#f2cf80" stroke-width="0.9" stroke-linejoin="round"/>
<polygon points="755.1,916.3 762.4,914.9 766.8,922.2 762.4,928 761,935.4 756.6,931" fill="#f2bb4b" stroke="#f2cf80" stroke-width="0.9" stroke-linejoin="round"/>
<polygon points="765.4,872.4 785.9,871 800.5,873.9 812.2,882.7 806.3,891.5 799,894.4 788.8,894.4 777.1,891.5 763.9,890 761,884.1" fill="#fff4da" stroke="#f2cf80" stroke-width="0.9" stroke-linejoin="round"/>
<polygon points="774.1,923.7 776.6,921 784.4,917.8 791.7,916.3 806.3,917.8 819.5,917.8 823.9,920.7 825.4,932.4 815.1,933.9 800.5,935.4 785.9,933.9 775.6,931" fill="#f2bb4b" stroke="#f2cf80" stroke-width="0.9" stroke-linejoin="round"/>
<polygon points="665.9,916.3 671.7,916.3 671,935.4 665.9,933.9" fill="#f2bb4b" stroke="#f2cf80" stroke-width="0.9" stroke-linejoin="round"/>
<polygon points="800.7,938.4 812,937.3 825,932.5 832.4,932 837.3,964.8 834.8,964.8 829.3,961.5 801.8,961.5 797.4,959.3 799.6,952.7" fill="#fee99e" stroke="#f2cf80" stroke-width="0.9" stroke-linejoin="round"/>
<polygon points="825.4,932.4 837,930 850,934 862,936 876.3,940.4 881.2,977 879.8,982.3 866.6,981.2 863.3,976.8 853.4,976.8 846.8,971.3 840.2,965.9 834.8,964.8 832.4,932" fill="#fee99e" stroke="#f2cf80" stroke-width="0.9" stroke-linejoin="round"/>
<polygon points="801.8,961.5 829.3,961.5 838,968 846.8,982.3 850.1,988.9 857.8,987.8 861.1,995.5 855.6,1005.4 840.2,1010.9 827.1,1013 816.1,1010.9 802.9,987.8 797.4,970.2" fill="#f2bb4b" stroke="#f2cf80" stroke-width="0.9" stroke-linejoin="round"/>
<polygon points="861.1,976.8 866.6,987.8 873.2,994.4 864.4,1009.8 853.4,1014.1 855.6,1005.4 861.1,995.5" fill="#f2bb4b" stroke="#f2cf80" stroke-width="0.9" stroke-linejoin="round"/>
<polygon points="850.1,988.9 857.8,987.8 861.1,979 862.2,983.4 861.1,992.2 851.2,991.6" fill="#b0211d" stroke="#f2cf80" stroke-width="0.9" stroke-linejoin="round"/>
<polygon points="816.1,1010.9 840.2,1010.9 853.4,1014.1 838,1022.9 823.8,1029.5" fill="#d9d9d9" stroke="#f2cf80" stroke-width="0.9" stroke-linejoin="round"/>
<polygon points="802.9,937.3 818.3,936.2 813.9,950.5 802.9,954.9" fill="#d9d9d9" stroke="#f2cf80" stroke-width="0.9" stroke-linejoin="round"/>
<polygon points="797.5,952 800,952 799.5,960 797.4,959.3" fill="#b0211d" stroke="#f2cf80" stroke-width="0.9" stroke-linejoin="round"/>
<polygon points="835,964.5 838.5,965 838,968 835.5,967.5" fill="#b0211d" stroke="#f2cf80" stroke-width="0.9" stroke-linejoin="round"/>
<polygon points="845.5,977 847.5,977 847,982 845.5,981" fill="#b0211d" stroke="#f2cf80" stroke-width="0.9" stroke-linejoin="round"/>
<polygon points="870,938 880,921 900,922 920.2,923.9 919,934.9 926.3,943.4 919,946 912,956 905,966 898,975 894,984.5 879.8,982.3 881.2,977 876.3,960" fill="#fff4da" stroke="#f2cf80" stroke-width="0.9" stroke-linejoin="round"/>
<polygon points="894,984.5 898,975 905,966 912,956 919,946 926.3,943.4 931.2,953.2 934.9,964.1 953.2,972.7 965.4,970.2 981.2,967.8 986.1,972.7 984,980 978,983 973,990 971.5,993 969.5,993.4 962.2,993.4 954.9,998.9 943.9,1011.7 936.6,1026.3 927.4,1046.5 919.3,1026.2 912.7,1009.8 910.5,998.8 902.8,996.6" fill="#fff4da" stroke="#f2cf80" stroke-width="0.9" stroke-linejoin="round"/>
<polygon points="862,904.6 876.6,902.8 894.9,915.6 905.9,913.8 929.6,912.9 924.1,921.1 916.8,922.9 913.2,933.9 904,941.2 894.9,937.6 883.9,932.1 876.6,934 865.6,919.3" fill="#fff4da" stroke="#f2cf80" stroke-width="0.9" stroke-linejoin="round"/>
<polygon points="958.9,884.5 968,880.9 989.1,880.9 990.9,876.3 1001,876.3 1001.9,880.9 1015.6,882.7 1043,883.6 1041.2,890 1053.1,894.6 1044.8,899.1 1030.2,902.8 1024.8,912 1010.1,916.5 986.3,912.9 979,904.6 966.2,897.3" fill="#fff4da" stroke="#f2cf80" stroke-width="0.9" stroke-linejoin="round"/>
<polygon points="969.5,993.4 971.5,979.4 980,977 986.1,974.5 988.5,985 985,995 988,1012 990,1030 986,1024.5 980.5,1013.5 976.8,1006.2 973.2,997.1" fill="#fff4da" stroke="#f2cf80" stroke-width="0.9" stroke-linejoin="round"/>
<polygon points="988.5,985 1000,982 1013.4,993.4 1009.8,997.1 1017.1,1006.2 1017.1,1017.2 1022.6,1031.8 1011.6,1044.6 1004.3,1033.7 1002,1026 1009.8,1022.7 1009.8,1008 998.8,997.1 988,999" fill="#fff4da" stroke="#f2cf80" stroke-width="0.9" stroke-linejoin="round"/>
<polygon points="986,1000.7 998.8,997.1 1009.8,1008 1009.8,1022.7 1002.4,1026.3 995.1,1024.5 991.5,1035.5 989.6,1026.3 987.8,1011.7" fill="#fee99e" stroke="#f2cf80" stroke-width="0.9" stroke-linejoin="round"/>
<polygon points="993.3,1044.6 998.8,1055.6 1006.1,1072.1 1002.4,1071.2 995.1,1059.3 991,1046" fill="#f2bb4b" stroke="#f2cf80" stroke-width="0.9" stroke-linejoin="round"/>
<polygon points="1024.4,1072.1 1039,1059.3 1046.3,1052 1051.8,1055.6 1046.3,1064.8 1039,1070.3 1026.2,1073.9" fill="#f2bb4b" stroke="#f2cf80" stroke-width="0.9" stroke-linejoin="round"/>
<polygon points="1075.4,932.7 1082.9,931.2 1081.1,944 1075.6,944.9 1074.7,933" fill="#d3322b" stroke="#f2cf80" stroke-width="0.9" stroke-linejoin="round"/>
<polygon points="1070.1,929.4 1072,924 1081.5,919.3 1082.9,918.4 1082.9,931.2 1075.4,932.7 1074.7,933" fill="#d9d9d9" stroke="#f2cf80" stroke-width="0.9" stroke-linejoin="round"/>
<polygon points="721.5,954.8 745.2,963 750.7,962.1 753.5,953.8 768.1,956.6 768.1,1003.2 739.8,993.2 725.1,989.5" fill="#fee99e" stroke="#f2cf80" stroke-width="0.9" stroke-linejoin="round"/>
<polygon points="721.5,1068.2 736.1,1070 736.1,1086.5 723.3,1084.6" fill="#fee99e" stroke="#f2cf80" stroke-width="0.9" stroke-linejoin="round"/>
<polygon points="728.8,1139.5 769,1141.3 791,1157.8 789.1,1183.4 783.7,1192.6 770.9,1201.7 754.4,1207.2 748.9,1202.6 741.6,1185.2 736.1,1165.1" fill="#fee99e" stroke="#f2cf80" stroke-width="0.9" stroke-linejoin="round"/>
<polygon points="641,998.7 646.5,989.5 652,974.9 666.6,974 665.7,978.5 653.8,979.5 653.8,993.2 648.3,995 643.7,998.7" fill="#d9d9d9" stroke="#f2cf80" stroke-width="0.9" stroke-linejoin="round"/>
<polygon points="765.4,1040 788.5,1038 795.9,1045.3 791,1062.3 771.5,1059.9" fill="#d9d9d9" stroke="#f2cf80" stroke-width="0.9" stroke-linejoin="round"/>
<polygon points="815.4,1033.1 823.9,1029.8 847.7,1033.4 842.2,1048 833,1066.3 820.2,1081.9 815.4,1067.2 834.9,1047.7" fill="#d9d9d9" stroke="#f2cf80" stroke-width="0.9" stroke-linejoin="round"/>
<polygon points="870,938 880,921 900,922 920.2,923.9 919,934.9 926.3,943.4 919,946 912,956 905,966 898,975 894,984.5 879.8,982.3 881.2,977 876.3,960" fill="none" stroke="#f2cf80" stroke-width="0.9" stroke-linejoin="round"/>
<polygon points="479.6,1144.9 483.2,1152.2 489.6,1158.6 502.4,1158.6 516.2,1170.5 514.3,1179.6 528,1176 518.9,1188.8 518,1191.5 528,1199.8 530.8,1201.6 528,1208 519.8,1208.9 519.8,1224.5 505.2,1225.4 504.3,1232.7 498.8,1240 489.6,1252.8 492.4,1261 487.8,1266.5 484.1,1274.8 485.1,1285.7 495.1,1292.1 494.2,1296.7 484.1,1296.7 464,1281.2 463.1,1265.6 469.5,1229 476.8,1185.1" fill="none" stroke="#f2cf80" stroke-width="0.9" stroke-linejoin="round"/>
<polygon points="762.4,838.8 775.6,838.8 777.1,846.1 775.6,853.4 765.4,856.3 759.5,854.9 756.6,847.6 761,843.2" fill="none" stroke="#f2cf80" stroke-width="0.9" stroke-linejoin="round"/>
<polygon points="483.2,1115.6 493.3,1113.8 509.8,1126.6 517.1,1137.6 516.2,1148.5 504.3,1150.4 502.4,1158.6 489.6,1158.6 483.2,1152.2 483.2,1126.6" fill="none" stroke="#f2cf80" stroke-width="0.9" stroke-linejoin="round"/>
<polygon points="436.6,1038 446.3,1047.8 451.2,1044.1 452,1047 447.6,1050.2 436.6,1042.9" fill="none" stroke="#f2cf80" stroke-width="0.9" stroke-linejoin="round"/>
<polygon points="420,1019.2 438.7,1018.9 440,1033 437,1039.5 432,1041 426.8,1035.6 420,1030" fill="none" stroke="#f2cf80" stroke-width="0.9" stroke-linejoin="round"/>
<polygon points="737.3,1042.8 752,1047.7 762.9,1040.4 771.5,1059.9 747.1,1062.3 737.3,1062.3" fill="none" stroke="#f2cf80" stroke-width="0.9" stroke-linejoin="round"/>
<polygon points="862,904.6 876.6,902.8 894.9,915.6 905.9,913.8 929.6,912.9 924.1,921.1 916.8,922.9 913.2,933.9 904,941.2 894.9,937.6 883.9,932.1 876.6,934 865.6,919.3" fill="none" stroke="#f2cf80" stroke-width="0.9" stroke-linejoin="round"/>
<polygon points="737.3,991.6 764.1,996.5 762.9,1030.6 752,1047.7 737.3,1042.8 739.8,1020.9" fill="none" stroke="#f2cf80" stroke-width="0.9" stroke-linejoin="round"/>
<polygon points="735,882 752,882 765.4,881.2 766,889 760,893 745,897 741,892.5 729,888" fill="none" stroke="#f2cf80" stroke-width="0.9" stroke-linejoin="round"/>
<polygon points="795.9,1023.3 815.4,1023.3 834.9,1047.7 820.2,1057.5 800.7,1059.9 791,1062.3 795.9,1045.3" fill="none" stroke="#f2cf80" stroke-width="0.9" stroke-linejoin="round"/>
<polygon points="529.3,1057.6 534.1,1058.8 535.4,1064.9 530.5,1066.1" fill="none" stroke="#f2cf80" stroke-width="0.9" stroke-linejoin="round"/>
<polygon points="721.5,1068.2 736.1,1070 736.1,1086.5 723.3,1084.6" fill="none" stroke="#f2cf80" stroke-width="0.9" stroke-linejoin="round"/>
<polygon points="755.1,916.3 762.4,914.9 766.8,922.2 762.4,928 761,935.4 756.6,931" fill="none" stroke="#f2cf80" stroke-width="0.9" stroke-linejoin="round"/>
<polygon points="413,1019.5 419.8,1011.9 426.8,1009.1 428.2,1017.5 438.7,1018.9 440,1033 437,1039.5 432,1041 426.8,1035.6 414.6,1025.9" fill="none" stroke="#f2cf80" stroke-width="0.9" stroke-linejoin="round"/>
<polygon points="652,1031 672,1032 678,1045 665,1050 652,1046" fill="none" stroke="#f2cf80" stroke-width="0.9" stroke-linejoin="round"/>
<polygon points="506,1046 512,1049 519,1056 520,1066 513,1067 508,1058" fill="none" stroke="#f2cf80" stroke-width="0.9" stroke-linejoin="round"/>
<polygon points="468.3,1005.1 474,1004.5 474,1009.8 468.3,1010" fill="none" stroke="#f2cf80" stroke-width="0.9" stroke-linejoin="round"/>
<polygon points="894,984.5 898,975 905,966 912,956 919,946 926.3,943.4 931.2,953.2 934.9,964.1 953.2,972.7 965.4,970.2 981.2,967.8 986.1,972.7 984,980 978,983 973,990 971.5,993 969.5,993.4 962.2,993.4 954.9,998.9 943.9,1011.7 936.6,1026.3 927.4,1046.5 919.3,1026.2 912.7,1009.8 910.5,998.8 902.8,996.6" fill="none" stroke="#f2cf80" stroke-width="0.9" stroke-linejoin="round"/>
<polygon points="988.5,985 1000,982 1013.4,993.4 1009.8,997.1 1017.1,1006.2 1017.1,1017.2 1022.6,1031.8 1011.6,1044.6 1004.3,1033.7 1002,1026 1009.8,1022.7 1009.8,1008 998.8,997.1 988,999" fill="none" stroke="#f2cf80" stroke-width="0.9" stroke-linejoin="round"/>
<polygon points="825.4,932.4 837,930 850,934 862,936 876.3,940.4 881.2,977 879.8,982.3 866.6,981.2 863.3,976.8 853.4,976.8 846.8,971.3 840.2,965.9 834.8,964.8 832.4,932" fill="none" stroke="#f2cf80" stroke-width="0.9" stroke-linejoin="round"/>
<polygon points="800.7,938.4 812,937.3 825,932.5 832.4,932 837.3,964.8 834.8,964.8 829.3,961.5 801.8,961.5 797.4,959.3 799.6,952.7" fill="none" stroke="#f2cf80" stroke-width="0.9" stroke-linejoin="round"/>
<polygon points="797.5,952 800,952 799.5,960 797.4,959.3" fill="none" stroke="#f2cf80" stroke-width="0.9" stroke-linejoin="round"/>
<polygon points="835,964.5 838.5,965 838,968 835.5,967.5" fill="none" stroke="#f2cf80" stroke-width="0.9" stroke-linejoin="round"/>
<polygon points="995.9,996.5 1010.5,1003.8 1013,1015 1012,1028 1004.3,1033.7 1000.7,1025.8 1005,1012 998,1002" fill="none" stroke="#f2cf80" stroke-width="0.9" stroke-linejoin="round"/>
<polygon points="721.5,954.8 745.2,963 750.7,962.1 753.5,953.8 768.1,956.6 768.1,1003.2 739.8,993.2 725.1,989.5" fill="none" stroke="#f2cf80" stroke-width="0.9" stroke-linejoin="round"/>
<polygon points="1024.4,1072.1 1039,1059.3 1046.3,1052 1051.8,1055.6 1046.3,1064.8 1039,1070.3 1026.2,1073.9" fill="none" stroke="#f2cf80" stroke-width="0.9" stroke-linejoin="round"/>
<polygon points="993.3,1044.6 998.8,1055.6 1006.1,1072.1 1002.4,1071.2 995.1,1059.3 991,1046" fill="none" stroke="#f2cf80" stroke-width="0.9" stroke-linejoin="round"/>
<polygon points="673.9,984.3 705.6,1003.8 703.2,1020.9 678.8,1030.6 676.3,1018.4" fill="none" stroke="#f2cf80" stroke-width="0.9" stroke-linejoin="round"/>
<polygon points="644.6,998.9 656.8,989.2 673.9,984.3 676.3,1018.4 647.1,1023.3 641,1018.8 641,998.7" fill="none" stroke="#f2cf80" stroke-width="0.9" stroke-linejoin="round"/>
<polygon points="958.9,884.5 968,880.9 989.1,880.9 990.9,876.3 1001,876.3 1001.9,880.9 1015.6,882.7 1043,883.6 1041.2,890 1053.1,894.6 1044.8,899.1 1030.2,902.8 1024.8,912 1010.1,916.5 986.3,912.9 979,904.6 966.2,897.3" fill="none" stroke="#f2cf80" stroke-width="0.9" stroke-linejoin="round"/>
<polygon points="969.5,993.4 971.5,979.4 980,977 986.1,974.5 988.5,985 985,995 988,1012 990,1030 986,1024.5 980.5,1013.5 976.8,1006.2 973.2,997.1" fill="none" stroke="#f2cf80" stroke-width="0.9" stroke-linejoin="round"/>
<polygon points="934.9,964.1 953.2,972.7 960,974 959,977.5 946,976 936,969" fill="none" stroke="#f2cf80" stroke-width="0.9" stroke-linejoin="round"/>
<polygon points="705.6,998.9 737.3,991.6 739.8,1020.9 722.7,1025.8 703.2,1020.9" fill="none" stroke="#f2cf80" stroke-width="0.9" stroke-linejoin="round"/>
<polygon points="1070.1,929.4 1072,924 1081.5,919.3 1082.9,918.4 1082.9,931.2 1075.4,932.7 1074.7,933" fill="none" stroke="#f2cf80" stroke-width="0.9" stroke-linejoin="round"/>
<polygon points="861.1,976.8 866.6,987.8 873.2,994.4 864.4,1009.8 853.4,1014.1 855.6,1005.4 861.1,995.5" fill="none" stroke="#f2cf80" stroke-width="0.9" stroke-linejoin="round"/>
<polygon points="1118.6,1089.8 1125,1092.2 1137.8,1099.5 1138.7,1105 1147,1114.1 1139.6,1114.1 1128.7,1106.8 1119.5,1109.6 1118.6,1109.6" fill="none" stroke="#f2cf80" stroke-width="0.9" stroke-linejoin="round"/>
<polygon points="737.6,863.7 747.8,860.7 761,859.3 765.4,863.7 763.9,872.4 765.4,881.2 758,884.1 747.8,882.7 736.1,881.2 734.6,872.4" fill="none" stroke="#f2cf80" stroke-width="0.9" stroke-linejoin="round"/>
<polygon points="665.9,916.3 671.7,916.3 671,935.4 665.9,933.9" fill="none" stroke="#f2cf80" stroke-width="0.9" stroke-linejoin="round"/>
<polygon points="845.5,977 847.5,977 847,982 845.5,981" fill="none" stroke="#f2cf80" stroke-width="0.9" stroke-linejoin="round"/>
<polygon points="743.4,1159.9 766.6,1167.2 781.2,1159.9 791,1162.3 789.1,1183.4 783.7,1192.6 770.9,1201.7 754.4,1207.2 748.9,1202.6 741.6,1185.2" fill="none" stroke="#f2cf80" stroke-width="0.9" stroke-linejoin="round"/>
<polygon points="801.8,961.5 829.3,961.5 838,968 846.8,982.3 850.1,988.9 857.8,987.8 861.1,995.5 855.6,1005.4 840.2,1010.9 827.1,1013 816.1,1010.9 802.9,987.8 797.4,970.2" fill="none" stroke="#f2cf80" stroke-width="0.9" stroke-linejoin="round"/>
<polygon points="1075.4,932.7 1082.9,931.2 1081.1,944 1075.6,944.9 1074.7,933" fill="none" stroke="#f2cf80" stroke-width="0.9" stroke-linejoin="round"/>
<polygon points="815.4,1033.1 823.9,1029.8 847.7,1033.4 842.2,1048 833,1066.3 820.2,1081.9 815.4,1067.2 834.9,1047.7" fill="none" stroke="#f2cf80" stroke-width="0.9" stroke-linejoin="round"/>
<polygon points="728.8,1139.5 769,1141.3 791,1157.8 789.1,1183.4 783.7,1192.6 770.9,1201.7 754.4,1207.2 748.9,1202.6 741.6,1185.2 736.1,1165.1" fill="none" stroke="#f2cf80" stroke-width="0.9" stroke-linejoin="round"/>
<polygon points="765.4,1040 788.5,1038 795.9,1045.3 791,1062.3 771.5,1059.9" fill="none" stroke="#f2cf80" stroke-width="0.9" stroke-linejoin="round"/>
<polygon points="802.9,937.3 818.3,936.2 813.9,950.5 802.9,954.9" fill="none" stroke="#f2cf80" stroke-width="0.9" stroke-linejoin="round"/>
<polygon points="986,1000.7 998.8,997.1 1009.8,1008 1009.8,1022.7 1002.4,1026.3 995.1,1024.5 991.5,1035.5 989.6,1026.3 987.8,1011.7" fill="none" stroke="#f2cf80" stroke-width="0.9" stroke-linejoin="round"/>
<polygon points="774.1,923.7 776.6,921 784.4,917.8 791.7,916.3 806.3,917.8 819.5,917.8 823.9,920.7 825.4,932.4 815.1,933.9 800.5,935.4 785.9,933.9 775.6,931" fill="none" stroke="#f2cf80" stroke-width="0.9" stroke-linejoin="round"/>
<polygon points="850.1,988.9 857.8,987.8 861.1,979 862.2,983.4 861.1,992.2 851.2,991.6" fill="none" stroke="#f2cf80" stroke-width="0.9" stroke-linejoin="round"/>
<polygon points="765.4,872.4 785.9,871 800.5,873.9 812.2,882.7 806.3,891.5 799,894.4 788.8,894.4 777.1,891.5 763.9,890 761,884.1" fill="none" stroke="#f2cf80" stroke-width="0.9" stroke-linejoin="round"/>
<polygon points="473.2,1035.6 485.4,1033.2 507.3,1038 509.8,1047.8 504.9,1057.6 497.6,1057.6 495.1,1072.2 490.2,1071 482.9,1064.9 475.6,1052.7 472,1042.9" fill="none" stroke="#f2cf80" stroke-width="0.9" stroke-linejoin="round"/>
<polygon points="647.1,1023.3 678.8,1030.6 703.2,1020.9 722.7,1025.8 722.7,1059.9 708.7,1060.9 703.2,1055.4 690.4,1058.1 664.8,1057.2 652,1048 642.8,1037.1 641,1018.8" fill="none" stroke="#f2cf80" stroke-width="0.9" stroke-linejoin="round"/>
<polygon points="641,998.7 646.5,989.5 652,974.9 666.6,974 665.7,978.5 653.8,979.5 653.8,993.2 648.3,995 643.7,998.7" fill="none" stroke="#f2cf80" stroke-width="0.9" stroke-linejoin="round"/>
<polygon points="816.1,1010.9 840.2,1010.9 853.4,1014.1 838,1022.9 823.8,1029.5" fill="none" stroke="#f2cf80" stroke-width="0.9" stroke-linejoin="round"/>
<polygon points="759.3,1118.4 781.2,1106.2 798.3,1116 815.4,1116 815.4,1133.1 807.4,1139.5 801,1145 800.1,1159 795.9,1159.9 788.5,1162.3 791,1147.7 771.5,1140.4 759.3,1138" fill="none" stroke="#f2cf80" stroke-width="0.9" stroke-linejoin="round"/>
<polyline points="788.8,783.9 780,784.6 772.7,783.9 771.2,789 763.2,794.1 762.4,803.7" fill="none" stroke="#f2cf80" stroke-width="0.9" stroke-linejoin="round"/>
<polyline points="780,783.9 780,787.6 781.5,799.3 784.4,808 785.9,818.3 781.5,828.5" fill="none" stroke="#f2cf80" stroke-width="0.9" stroke-linejoin="round"/>
<polyline points="689.3,911.2 699.5,914.9" fill="none" stroke="#f2cf80" stroke-width="0.9" stroke-linejoin="round"/>
<polyline points="701,878.3 706.8,881.2 715.6,887.1 716.3,891.5 711.2,897.3 715.6,904.6" fill="none" stroke="#f2cf80" stroke-width="0.9" stroke-linejoin="round"/>
<polyline points="736.1,863.7 734.6,872.4 736.1,882.7 728.8,887.1 733.2,891.5" fill="none" stroke="#f2cf80" stroke-width="0.9" stroke-linejoin="round"/>
<polyline points="718.5,859.3 724.4,857.8" fill="none" stroke="#f2cf80" stroke-width="0.9" stroke-linejoin="round"/>
<polyline points="715.6,891.5 722.9,892.9 733.2,891.5" fill="none" stroke="#f2cf80" stroke-width="0.9" stroke-linejoin="round"/>
<polyline points="712.7,866.6 712,872.4 710.5,881.2 714.1,887.1" fill="none" stroke="#f2cf80" stroke-width="0.9" stroke-linejoin="round"/>
<polyline points="711.2,897.3 720,895.9 730.2,895.9 735,897" fill="none" stroke="#f2cf80" stroke-width="0.9" stroke-linejoin="round"/>
<polyline points="775.6,853.4 785,858 790,866 786,871" fill="none" stroke="#f2cf80" stroke-width="0.9" stroke-linejoin="round"/>
<polyline points="745,897 752,898 760,893 766,889" fill="none" stroke="#f2cf80" stroke-width="0.9" stroke-linejoin="round"/>
<polyline points="752,898 755,905 760,905" fill="none" stroke="#f2cf80" stroke-width="0.9" stroke-linejoin="round"/>
<polyline points="763.9,890 770,896 777,899" fill="none" stroke="#f2cf80" stroke-width="0.9" stroke-linejoin="round"/>
<polyline points="516.2,1148.5 521,1158 518,1170 514.3,1179.6" fill="none" stroke="#f2cf80" stroke-width="0.9" stroke-linejoin="round"/>
<polyline points="488,1159.5 484,1180 479.4,1203.6 476.9,1240.6 470.7,1271.5 472,1286.3 484.3,1287.5" fill="none" stroke="#f2cf80" stroke-width="0.9" stroke-linejoin="round"/>
<polyline points="509.8,1047.8 515,1058 520,1056 524,1062" fill="none" stroke="#f2cf80" stroke-width="0.9" stroke-linejoin="round"/>
<polyline points="447,1075 455,1072 462,1062" fill="none" stroke="#f2cf80" stroke-width="0.9" stroke-linejoin="round"/>
<polyline points="842.4,876.2 852,880 862,888 866,900" fill="none" stroke="#f2cf80" stroke-width="0.9" stroke-linejoin="round"/>
<polyline points="954.4,886.6 945,895 942,905 930,912" fill="none" stroke="#f2cf80" stroke-width="0.9" stroke-linejoin="round"/>
<polyline points="312.7,886.3 405.4,886.3 426.1,888.8 442,902.2 443.2,915.6 452.9,910.7 470,904.6 485.9,894.9" fill="none" stroke="#f2cf80" stroke-width="0.9" stroke-linejoin="round"/>
<polyline points="265.1,787.6 265.6,833.9 282.2,837.6 299.3,858.3" fill="none" stroke="#f2cf80" stroke-width="0.9" stroke-linejoin="round"/>
<polyline points="340.7,953.4 360.2,953.4 373.2,960 384.1,964.9 393.9,978.3" fill="none" stroke="#f2cf80" stroke-width="0.9" stroke-linejoin="round"/>
<polyline points="753.7,790.5 742.7,794.9 728.8,813.9 730.2,834.4 726.6,840.2" fill="none" stroke="#f2cf80" stroke-width="0.9" stroke-linejoin="round"/>
<polyline points="840,876.3 874.8,875.4 878.4,864.4 905.9,858 907.7,862.6 924.1,861.6 933.3,875.4 955.2,886.3 958.9,884.5" fill="none" stroke="#f2cf80" stroke-width="0.9" stroke-linejoin="round"/>
<polyline points="1043,883.6 1055.9,868 1070.5,866.2 1077.8,879 1088.8,891.8 1099.8,890 1096.1,899.1 1088.8,904.6 1082,918" fill="none" stroke="#f2cf80" stroke-width="0.9" stroke-linejoin="round"/>
<polyline points="495.1,1072.2 482,1076 482.9,1086.8 470.7,1106.3 483.2,1115.6" fill="none" stroke="#f2cf80" stroke-width="0.9" stroke-linejoin="round"/>
<polyline points="447,1082 455,1086 462,1079 472,1062 482.9,1064.9" fill="none" stroke="#f2cf80" stroke-width="0.9" stroke-linejoin="round"/>
<polyline points="747.1,1062.3 745,1075 738,1085 736,1100 745,1105 755,1110 759.3,1118.4 770,1115 781.2,1106.2 782,1090 787,1075 791,1062.3" fill="none" stroke="#f2cf80" stroke-width="0.9" stroke-linejoin="round"/>
<polyline points="728.8,1121 745,1122 759.3,1118.4" fill="none" stroke="#f2cf80" stroke-width="0.9" stroke-linejoin="round"/>
<polyline points="798.3,1083 815,1086" fill="none" stroke="#f2cf80" stroke-width="0.9" stroke-linejoin="round"/>
<polyline points="782,1090 798,1092 811,1094" fill="none" stroke="#f2cf80" stroke-width="0.9" stroke-linejoin="round"/>
<polyline points="728.8,1139.5 769,1141.3" fill="none" stroke="#f2cf80" stroke-width="0.9" stroke-linejoin="round"/>
<polyline points="766.6,996.5 800.7,996.5" fill="none" stroke="#f2cf80" stroke-width="0.9" stroke-linejoin="round"/>
<polyline points="841,999 858,990" fill="none" stroke="#f2cf80" stroke-width="0.9" stroke-linejoin="round"/>
<polyline points="955.6,884.9 943.4,893.4 936.1,904.4 932.4,914.1 920.2,923.9 919,934.9 926.3,943.4 931.2,953.2 934.9,964.1 953.2,972.7 965.4,970.2 981.2,967.8 986.1,972.7 989.8,987.3 995.9,994.6 1006.8,994.6 1016.6,997.1 1025.1,999.5" fill="none" stroke="#f2cf80" stroke-width="0.9" stroke-linejoin="round"/>
<polyline points="875,940 900,930 925,923" fill="none" stroke="#f2cf80" stroke-width="0.9" stroke-linejoin="round"/>
<polyline points="800,874 820,880 835,890 840,900" fill="none" stroke="#f2cf80" stroke-width="0.9" stroke-linejoin="round"/>
<polyline points="777,891 785,880 790,872" fill="none" stroke="#f2cf80" stroke-width="0.9" stroke-linejoin="round"/>
<polyline points="742,903 752,900 760,905 770,908 776,912" fill="none" stroke="#f2cf80" stroke-width="0.9" stroke-linejoin="round"/>
<polyline points="748,910 758,912" fill="none" stroke="#f2cf80" stroke-width="0.9" stroke-linejoin="round"/>
</g>
<polygon points="777.1,898.8 788.8,895.9 797.6,901.7 806.3,898.8 815.1,907.6 818,914.9 806.3,917.8 791.7,916.3 780,912 775.6,906.1" fill="#e2effb" stroke="#a3c6de" stroke-width="1.0" stroke-linejoin="round"/>
<polygon points="836,909 840,899 849,896 854,905 855.5,923 853,938 846,936 840,922" fill="#e2effb" stroke="#a3c6de" stroke-width="1.0" stroke-linejoin="round"/>
<polygon points="797,895 803,893 804,897 799,898" fill="#e2effb" stroke="#a3c6de" stroke-width="1.0" stroke-linejoin="round"/>
<path d="M699.5,914.9 L703.9,913.4 L712.7,909.0 L715.6,904.6 L719.5,908.5 L719.5,910.0 L721.0,910.0 L736.1,925.1 L739.0,929.5 L742.0,925.1 L743.4,928.0 L746.3,923.7 L742.0,920.7 L733.2,910.5 L728.8,901.7 L730.3,895.5 L735.0,897.0 L742.0,903.0 L748.0,910.0 L755.1,916.3 L756.6,931.0 L761.0,935.4 L762.4,928.0 L766.8,922.2 L770.0,924.0 L776.6,921.0 L776.6,921.0 L774.1,923.7 L772.2,930.7 L781.0,937.3 L799.6,938.4 L800.7,941.7 L799.6,952.7 L797.4,959.3 L797.5,966.5 L802.9,976.8 L810.6,993.3 L817.2,1009.8 L823.8,1029.5 L838.0,1022.9 L853.4,1016.3 L864.4,1009.8 L873.2,994.4 L866.6,987.8 L862.2,980.1 L861.1,979.0 L857.8,987.8 L850.1,988.9 L846.8,982.3 L845.7,976.8 L838.0,968.0 L834.8,964.8 L840.2,965.9 L846.8,971.3 L853.4,976.8 L863.3,976.8 L866.6,981.2 L879.8,982.3 L894.0,984.5 L902.8,996.6 L910.5,998.8 L912.7,1009.8 L919.3,1026.2 L927.4,1046.5 L936.6,1026.3 L943.9,1011.7 L954.9,998.9 L962.2,993.4 L969.5,993.4 L973.2,997.1 L976.8,1006.2 L980.5,1013.5 L986.0,1024.5 L987.8,1035.5 L989.6,1044.6 L995.1,1059.3 L1002.4,1071.2 L1006.1,1072.1 L998.8,1055.6 L993.3,1044.6 L991.5,1035.5 L995.1,1024.5 L998.8,1026.3 L1004.3,1033.7 L1007.9,1039.1 L1011.6,1044.6 L1022.6,1031.8 L1017.1,1017.2 L1017.1,1006.2 L1009.8,997.1 L1013.4,993.4 L1018.9,997.1 L1028.0,998.9 L1039.0,993.4 L1046.3,989.8 L1055.5,982.4 L1061.0,967.8 L1059.1,953.2 L1055.5,942.2 L1061.0,934.9 L1057.3,931.2 L1050.0,929.4 L1055.5,923.0 L1061.0,923.9 L1070.1,929.4 L1074.7,933.0 L1075.6,944.9 L1081.1,944.0 L1082.9,931.2 L1082.9,918.4 L1078.7,919.0 L1078.6,918.6 L1091.2,914.4 L1108.3,904.6 L1118.0,885.1 L1115.6,865.6 L1103.4,858.3 L1120.1,841.0 L1156.7,840.2 L1159.8,835.6 L1172.0,830.3 L1175.0,832.6 L1187.1,824.8 L1187.3,825.0 L1162.8,851.6 L1165.9,876.0 L1185.7,850.1 L1182.6,843.3 L1193.3,836.4 L1232.9,823.0 L1229.9,814.9 L1242.4,809.5 L1258.3,814.4 L1264.4,804.6 L1249.8,799.8 L1232.7,783.9 L1205.9,785.1 L1181.5,787.6 L1149.8,774.1 L1101.6,771.1 L1085.1,774.8 L1076.0,762.9 L1024.8,762.9 L1024.8,758.3 L1035.7,753.7 L1032.1,749.1 L1006.5,740.9 L955.2,756.5 L953.4,762.0 L935.1,763.8 L935.1,771.1 L918.7,772.9 L918.7,796.7 L913.2,803.1 L909.5,804.0 L911.3,793.0 L910.4,769.3 L904.0,767.4 L894.9,778.4 L900.4,793.0 L894.9,794.0 L874.8,785.7 L856.5,792.1 L840.0,795.0 L829.8,802.2 L832.0,792.7 L825.4,793.4 L821.0,803.7 L812.2,813.2 L804.5,812.7 L804.5,812.7 L799.0,812.4 L793.9,802.2 L800.5,806.6 L804.9,812.4 L812.2,811.0 L812.9,800.7 L810.7,793.4 L800.5,787.6 L788.8,783.9 L780.0,779.5 L771.2,780.2 L753.7,786.1 L742.0,793.4 L728.8,809.5 L721.5,818.3 L708.3,827.1 L709.0,837.3 L715.6,843.2 L721.5,838.8 L726.6,840.2 L728.8,852.0 L733.2,856.3 L739.8,852.0 L742.0,840.2 L747.8,834.4 L744.9,827.1 L756.6,812.4 L762.4,803.7 L763.1,795.4 L763.4,795.4 L764.6,803.7 L762.4,812.4 L758.0,819.8 L758.0,830.0 L762.4,834.4 L772.7,832.9 L781.5,828.5 L785.8,818.5 L785.9,818.5 L785.0,838.0 L775.6,838.8 L762.4,838.8 L761.0,843.2 L756.6,847.6 L759.5,854.9 L761.0,859.3 L747.8,860.7 L736.4,863.9 L726.2,858.7 L726.3,858.5 L729.0,859.0 L730.0,856.5 L726.5,856.0 L726.0,858.6 L724.4,857.8 L722.9,847.6 L717.8,849.0 L718.5,859.3 L712.7,866.6 L712.6,867.7 L705.4,871.0 L706.7,875.5 L701.0,878.3 L687.8,883.4 L689.3,887.1 L679.0,889.3 L684.9,892.9 L691.5,901.7 L689.3,911.2 L665.9,910.5 L665.9,916.3 L664.4,928.0 L668.8,935.4 L676.1,936.8 L686.3,933.9 L689.3,928.0 L695.1,916.3 Z M823.9,1029.8 L821.6,1029.5 L814.8,1015.1 L805.6,998.7 L800.1,984.0 L790.1,965.7 L790.3,958.5 L781.8,959.3 L753.5,953.8 L750.7,962.1 L745.2,963.0 L723.3,952.9 L725.1,938.3 L719.6,936.5 L706.8,937.4 L675.7,940.1 L662.0,956.6 L652.0,974.9 L646.5,989.5 L641.0,998.7 L641.0,1018.8 L642.8,1037.1 L652.0,1048.0 L664.8,1057.2 L690.4,1058.1 L703.2,1055.4 L708.7,1060.9 L719.6,1066.3 L719.6,1081.0 L728.8,1095.6 L730.6,1108.4 L728.8,1121.2 L728.8,1139.5 L736.1,1165.1 L741.6,1185.2 L748.9,1202.6 L754.4,1207.2 L770.9,1201.7 L783.7,1192.6 L789.1,1183.4 L791.0,1172.4 L800.1,1165.1 L801.0,1145.0 L807.4,1139.5 L816.6,1130.4 L814.8,1117.6 L810.2,1101.1 L811.1,1093.8 L820.2,1081.0 L833.0,1066.3 L842.2,1048.0 L847.7,1033.4 Z M1243.7,777.8 L1232.7,777.8 L1237.6,780.2 Z M1232.0,1136.0 L1228.0,1137.0 L1228.0,1139.5 L1232.0,1139.0 Z M1222.2,1226.3 L1219.5,1231.8 L1225.0,1233.7 L1231.4,1220.9 L1219.5,1220.9 Z M1196.6,1252.9 L1203.0,1255.6 L1217.7,1234.6 L1213.1,1233.7 L1204.9,1246.5 Z M1187.0,1124.0 L1187.0,1121.0 L1185.0,1121.0 L1185.0,1124.0 Z M1173.0,1106.0 L1167.0,1103.0 L1166.0,1104.5 L1172.0,1107.5 Z M1162.0,1100.5 L1163.0,1099.0 L1159.0,1096.0 L1158.0,1097.5 Z M1102.4,1208.0 L1117.1,1219.0 L1135.4,1223.6 L1146.3,1217.2 L1155.5,1189.8 L1154.6,1171.5 L1146.3,1156.8 L1133.5,1144.9 L1131.7,1133.0 L1122.6,1117.5 L1119.8,1138.5 L1117.1,1143.1 L1105.2,1134.9 L1104.3,1122.1 L1086.9,1122.1 L1079.6,1131.2 L1075.9,1128.5 L1058.5,1149.5 L1035.7,1159.6 L1043.0,1198.9 L1041.2,1203.5 L1047.6,1207.1 L1065.9,1202.6 L1073.2,1197.1 L1091.5,1195.2 Z M1140.5,1098.6 L1148.8,1097.7 L1155.2,1092.2 L1147.9,1086.7 L1147.0,1092.2 Z M1135.1,753.9 L1144.9,758.3 L1148.5,755.9 Z M1139.6,1114.1 L1147.0,1114.1 L1138.7,1105.0 L1137.8,1099.5 L1125.0,1092.2 L1117.7,1088.5 L1106.7,1082.1 L1101.2,1084.9 L1095.7,1078.5 L1088.4,1079.4 L1090.2,1084.9 L1099.4,1090.4 L1108.5,1099.5 L1110.4,1108.7 L1119.5,1109.6 L1128.7,1106.8 Z M1136.3,1243.7 L1140.9,1233.7 L1130.8,1233.7 Z M1125.5,906.5 L1120.9,902.7 L1119.4,908.0 L1117.1,912.6 L1121.6,914.9 L1126.2,914.1 L1130.8,911.1 L1132.3,907.3 Z M1127.8,757.1 L1130.2,751.0 L1107.1,749.8 L1110.7,757.1 Z M1120.5,880.2 L1121.7,898.5 L1125.4,899.8 L1129.0,885.1 L1125.4,865.6 L1121.7,864.4 Z M1121.0,766.0 L1125.4,763.5 L1115.6,762.5 Z M1088.5,947.0 L1087.2,953.3 L1084.0,951.5 L1083.5,958.0 L1088.0,961.0 L1089.5,954.5 L1088.6,954.0 L1093.0,952.5 L1112.0,946.5 L1119.5,941.5 L1122.5,931.0 L1122.5,920.0 L1116.0,915.5 L1114.5,921.5 L1114.5,930.0 L1110.0,935.5 L1103.0,940.0 L1095.0,942.5 Z M1086.6,1089.5 L1086.6,1087.0 L1073.8,1088.0 L1073.8,1090.0 Z M1081.1,1070.3 L1078.4,1070.3 L1078.4,1079.4 L1081.1,1079.4 Z M1076.5,1106.7 L1065.5,1110.5 L1066.0,1112.0 L1077.0,1108.7 Z M1061.9,1050.1 L1068.3,1055.6 L1074.7,1053.8 L1073.8,1041.9 L1061.0,1042.8 Z M1072.0,1031.8 L1061.0,1033.7 L1062.8,1040.1 L1072.9,1041.0 Z M1059.1,1077.6 L1064.6,1076.6 L1070.1,1071.2 L1053.7,1073.9 L1054.6,1081.2 L1051.8,1088.5 L1053.7,1096.8 L1057.3,1089.5 L1061.0,1097.7 L1064.6,1090.4 Z M1055.5,1009.9 L1056.4,1022.7 L1059.1,1028.2 L1065.5,1030.0 L1066.5,1026.3 L1061.9,1022.7 L1061.9,1009.9 Z M1062.8,1109.6 L1062.8,1106.8 L1055.5,1106.8 L1055.5,1109.6 Z M1057.3,995.2 L1060.1,985.2 L1057.3,984.3 L1055.5,993.4 Z M1046.3,1041.0 L1048.2,1045.5 L1053.7,1036.4 Z M1051.8,1107.2 L1046.3,1107.7 L1046.3,1110.0 L1051.8,1109.6 Z M1039.0,1059.3 L1022.6,1072.1 L1023.5,1079.4 L1026.2,1089.5 L1044.5,1088.5 L1046.3,1064.8 L1051.8,1055.6 L1046.3,1052.0 Z M1009.9,1098.1 L1011.4,1097.8 L1011.6,1097.7 L1011.6,1088.5 L1002.4,1075.7 L986.0,1057.4 L980.5,1057.4 L986.0,1068.4 L995.1,1083.0 L1007.9,1098.6 Z M1011.6,1098.6 L1012.5,1102.3 L1026.2,1106.8 L1039.0,1109.6 L1040.9,1106.8 L1028.0,1103.2 Z M1026.2,1000.7 L1020.7,1002.6 L1021.6,1009.0 L1027.1,1008.0 Z M1005.9,737.6 L1009.5,733.9 L994.9,732.7 L996.1,736.3 Z M988.8,731.5 L993.7,727.8 L986.3,721.7 L969.3,719.3 L976.6,726.6 Z M938.4,1044.6 L933.8,1042.8 L934.8,1054.7 L939.3,1053.8 Z M862.0,755.5 L848.2,773.8 L851.0,779.3 L860.1,776.6 L863.8,760.1 L901.3,747.3 L900.4,744.6 Z M846.0,725.5 L846.6,721.5 L829.5,722.0 L830.0,725.5 Z M842.2,1121.2 L836.7,1134.0 L827.6,1137.7 L823.9,1157.8 L825.7,1169.7 L836.7,1168.8 L845.0,1130.4 Z M792.0,942.5 L793.0,939.5 L787.0,941.0 Z M767.3,721.7 L747.8,724.0 L762.4,729.0 L774.6,725.4 Z M772.0,936.5 L764.0,937.0 L764.0,939.0 L771.0,938.5 Z M761.0,740.5 L764.0,738.0 L755.0,737.0 Z M741.7,746.0 L752.7,735.0 L747.8,726.6 L724.6,729.0 L725.9,731.5 Z M736.1,936.8 L740.5,932.4 L730.2,933.9 Z M718.3,928.0 L720.7,928.0 L721.0,920.0 L721.0,912.7 L718.5,912.7 Z M693.7,875.4 L695.1,871.0 L689.3,863.7 L682.0,854.9 L684.1,847.6 L680.5,847.6 L681.2,842.4 L676.1,843.2 L674.6,852.0 L676.1,860.7 L677.6,869.5 L682.0,872.4 L674.6,879.8 L683.4,878.3 Z M667.3,871.0 L671.7,866.6 L670.2,859.3 L662.9,863.7 L661.5,871.7 Z M560.0,834.0 L625.0,783.0 L634.0,744.0 L633.0,736.0 L654.0,716.0 L611.0,704.0 L582.0,705.0 L530.0,706.0 L507.0,714.0 L472.0,739.0 L487.0,748.0 L509.0,751.0 L526.0,771.0 L528.0,788.0 L538.0,827.0 Z M622.2,810.7 L624.6,816.8 L635.6,816.8 L650.2,809.5 L645.4,804.1 L621.0,804.6 Z M195.6,862.0 L248.0,833.9 L266.0,836.0 L280.0,842.0 L296.0,859.0 L300.1,859.8 L305.4,870.5 L306.6,882.7 L312.7,886.3 L316.3,887.6 L316.3,919.3 L328.5,946.1 L340.7,953.4 L360.2,953.4 L373.2,960.0 L357.3,960.0 L358.5,967.3 L370.7,989.3 L375.6,1003.9 L390.2,1012.4 L402.4,1018.5 L414.6,1025.9 L426.8,1035.6 L436.6,1042.9 L447.6,1050.2 L457.3,1045.4 L451.2,1044.1 L446.3,1047.8 L436.6,1038.0 L440.2,1033.2 L439.0,1019.8 L424.4,1018.5 L426.8,1008.8 L429.3,999.0 L420.7,997.8 L419.5,1006.3 L404.9,1007.6 L397.6,996.6 L397.6,984.4 L393.9,978.3 L388.6,971.0 L388.8,970.9 L394.4,975.4 L399.3,970.5 L426.1,960.7 L440.7,964.4 L445.6,982.7 L449.3,980.2 L445.6,958.3 L462.7,943.7 L462.7,933.9 L479.8,914.4 L486.0,904.0 L494.4,908.3 L509.0,899.8 L496.8,897.3 L496.8,887.6 L493.0,886.5 L496.8,882.7 L516.3,877.8 L523.7,870.5 L521.2,865.6 L494.4,836.3 L482.2,841.2 L482.2,833.9 L470.0,824.1 L457.8,826.6 L459.0,851.0 L452.9,860.7 L454.1,876.6 L448.0,875.4 L443.2,860.7 L428.5,858.3 L412.7,846.1 L406.6,836.3 L413.9,826.6 L428.5,812.0 L437.1,804.6 L428.5,799.8 L413.9,777.8 L403.7,777.8 L404.1,795.4 L372.4,792.4 L340.7,791.2 L326.1,785.1 L296.8,783.9 L284.6,786.3 L265.1,787.6 L220.0,777.8 L190.7,791.2 L204.1,803.4 L185.9,804.6 L187.1,810.7 L206.6,816.8 L192.0,830.2 L217.6,843.7 Z M457.3,1045.4 L453.7,1062.4 L446.3,1082.0 L446.6,1097.3 L460.4,1125.7 L476.8,1141.2 L479.6,1144.9 L476.8,1185.1 L469.5,1229.0 L463.1,1265.6 L464.0,1281.2 L484.1,1296.7 L494.2,1296.7 L495.1,1292.1 L485.1,1285.7 L484.1,1274.8 L487.8,1266.5 L492.4,1261.0 L489.6,1252.8 L498.8,1240.0 L504.3,1232.7 L505.2,1225.4 L519.8,1224.5 L519.8,1208.9 L528.0,1208.0 L530.8,1201.6 L539.0,1194.3 L545.4,1183.3 L546.3,1172.3 L557.3,1162.3 L566.5,1160.4 L571.0,1150.4 L575.6,1137.6 L575.6,1126.6 L586.6,1106.3 L585.4,1096.6 L558.5,1084.4 L543.9,1074.6 L534.1,1057.6 L526.8,1056.3 L509.8,1047.8 L507.3,1038.0 L480.5,1032.0 L470.7,1033.2 Z M531.0,897.3 L533.4,890.0 L523.7,877.8 L516.3,885.1 L518.8,894.9 Z M517.0,1276.5 L507.0,1278.0 L508.0,1281.0 L518.0,1279.5 Z M505.1,705.2 L418.0,705.2 L418.0,709.6 L421.7,712.6 L443.7,719.1 L429.0,734.5 L423.2,742.6 L451.0,743.3 Z M464.0,794.0 L460.0,795.0 L463.0,798.0 Z M464.8,793.8 L470.0,797.3 L457.8,809.5 L477.3,816.8 L494.4,822.9 L504.1,803.4 L472.4,772.9 L452.9,762.0 L421.2,763.2 L421.2,775.4 L438.3,786.3 L462.7,792.4 L464.2,793.4 Z M485.4,1008.8 L480.5,1003.9 L468.3,1005.1 L468.3,1010.0 Z M437.8,996.6 L446.3,996.6 L463.4,1002.7 L465.9,1000.2 L446.3,991.7 L436.6,994.1 Z M421.7,749.9 L414.4,743.3 L402.7,741.8 L402.7,746.2 L411.5,750.6 L415.9,754.3 L451.0,754.3 L451.0,749.9 Z M448.0,816.8 L435.9,810.7 L431.0,818.0 Z M446.6,789.4 L433.4,785.7 L434.9,795.9 L443.7,797.4 Z M411.5,715.5 L401.2,715.5 L401.2,724.3 L407.1,725.7 L410.0,731.6 L421.7,731.6 L427.6,725.7 Z M408.5,768.2 L417.3,761.6 L404.2,761.6 L404.9,766.7 Z M402.0,737.4 L401.5,734.5 L395.4,733.8 L396.5,737.0 Z M391.0,772.6 L395.4,771.1 L395.4,763.0 L385.9,762.3 L382.2,766.7 Z M382.2,748.1 L386.6,748.5 L387.3,752.8 L392.4,752.1 L392.4,744.6 L382.2,743.8 Z M383.7,734.5 L388.1,735.2 L383.7,731.6 L372.0,729.4 L372.7,730.9 Z M372.0,763.8 L360.2,766.7 L342.7,766.7 L332.4,772.6 L338.3,782.8 L351.5,788.7 L379.3,787.2 L382.2,782.8 L374.9,777.0 Z M358.8,744.8 L351.5,747.7 L341.2,745.5 L335.4,750.6 L336.8,751.3 L348.5,755.7 L352.9,754.3 L367.6,753.5 L369.0,749.9 L363.2,749.1 Z M343.9,967.3 L358.5,990.5 L363.0,989.0 L346.0,956.0 L341.5,956.0 Z M355.9,736.5 L348.5,736.2 L349.0,738.6 L355.5,738.9 Z M336.1,741.8 L336.8,738.2 L329.5,738.9 L320.0,746.2 L322.2,747.0 Z M310.5,769.6 L316.3,774.8 L329.5,768.2 L336.8,760.9 L323.7,758.7 L312.7,759.4 Z M293.0,863.0 L289.5,864.0 L294.0,872.0 L297.0,871.0 Z" fill="none" stroke="#a3c6de" stroke-width="1.3" stroke-linejoin="round"/>
</g></g>
<circle cx="800.6" cy="661.6" r="36.2" fill="#fff" stroke="#8a2c6e" stroke-width="1.7"/>
<g transform="translate(764.4,625.4)" fill="none" stroke="#6e1f52" stroke-width="1.8" stroke-linecap="round" stroke-linejoin="round">
<line x1="30.2" y1="10" x2="30.2" y2="17.4"/>
<line x1="19.3" y1="14.8" x2="24.2" y2="19.5"/>
<line x1="41.2" y1="14.8" x2="36.5" y2="19.8"/>
<line x1="14.3" y1="25.8" x2="22.2" y2="25.8"/>
<line x1="39" y1="25.8" x2="46.1" y2="25.8"/>
<line x1="19.2" y1="37.3" x2="24.4" y2="32.1"/>
<path d="M34.6,47 L31,41 L28.4,27.6 C27.9,24.3 32.8,23 33.7,26.4 L35.6,35.5 M34.4,31.5 C34.2,28.6 38.8,28.3 39.3,31.2 L40.2,38.5 M39.3,31.2 C39.2,28.3 44.2,28.1 44.7,31 L45.6,38.8 M44.7,31 C44.8,28.6 49.6,28.4 50.6,31.2 L53.8,38.5 C55.8,43.5 56.9,49 57.2,54 C57.3,56.3 56.4,57.5 54.5,58.2 L43.7,61.9 C41.9,62.5 40.6,62.1 39.4,61.1 L24.5,48.9 C22.2,46.9 24.1,42.7 27.3,44.2 L34.6,47"/>
</g>
<text x="563" y="974.4" font-family="'Liberation Sans', Arial, sans-serif" font-size="20" fill="#46a2cf" font-style="italic" text-anchor="middle" textLength="63.4" lengthAdjust="spacingAndGlyphs">OCÉAN</text>
<text x="563" y="1003.7" font-family="'Liberation Sans', Arial, sans-serif" font-size="20" fill="#46a2cf" font-style="italic" text-anchor="middle" textLength="117.1" lengthAdjust="spacingAndGlyphs">ATLANTIQUE</text>
<text x="304.6" y="1098.8" font-family="'Liberation Sans', Arial, sans-serif" font-size="20" fill="#46a2cf" font-style="italic" text-anchor="middle" textLength="63.4" lengthAdjust="spacingAndGlyphs">OCÉAN</text>
<text x="304.6" y="1126.8" font-family="'Liberation Sans', Arial, sans-serif" font-size="20" fill="#46a2cf" font-style="italic" text-anchor="middle" textLength="97.5" lengthAdjust="spacingAndGlyphs">PACIFIQUE</text>
<text x="1199.5" y="997.6" font-family="'Liberation Sans', Arial, sans-serif" font-size="20" fill="#46a2cf" font-style="italic" text-anchor="middle" textLength="63.4" lengthAdjust="spacingAndGlyphs">OCÉAN</text>
<text x="1199.5" y="1026.3" font-family="'Liberation Sans', Arial, sans-serif" font-size="20" fill="#46a2cf" font-style="italic" text-anchor="middle" textLength="97.5" lengthAdjust="spacingAndGlyphs">PACIFIQUE</text>
<text x="919.6" y="1110.9" font-family="'Liberation Sans', Arial, sans-serif" font-size="20" fill="#46a2cf" font-style="italic" text-anchor="middle" textLength="63.4" lengthAdjust="spacingAndGlyphs">OCÉAN</text>
<text x="919.6" y="1139.7" font-family="'Liberation Sans', Arial, sans-serif" font-size="20" fill="#46a2cf" font-style="italic" text-anchor="middle" textLength="66" lengthAdjust="spacingAndGlyphs">INDIEN</text>
<text x="0" y="0" font-family="'Liberation Sans', Arial, sans-serif" font-size="22" fill="#3d3d3d" textLength="281" lengthAdjust="spacingAndGlyphs" transform="translate(152.3,1300) rotate(-90)">Source : Banque mondiale, 2017.</text>
<text x="1304.4" y="865" font-family="'Liberation Sans', Arial, sans-serif" font-size="29" fill="#4b5054" font-weight="bold" textLength="291.7" lengthAdjust="spacingAndGlyphs">Revenu national brut</text>
<text x="1304.4" y="902" font-family="'Liberation Sans', Arial, sans-serif" font-size="29" fill="#4b5054" font-weight="bold" textLength="282.2" lengthAdjust="spacingAndGlyphs">par habitant en 2017</text>
<text x="1304.4" y="938.9" font-family="'Liberation Sans', Arial, sans-serif" font-size="29" fill="#4b5054" font-weight="bold" textLength="303.8" lengthAdjust="spacingAndGlyphs">(en dollar US courant)</text>
<rect x="1303.8" y="965.8" width="61.5" height="35.7" fill="#b0211d"/>
<text x="1385.2" y="990.2" font-family="'Liberation Sans', Arial, sans-serif" font-size="26.5" fill="#4b5054" textLength="233" lengthAdjust="spacingAndGlyphs">de 45 000 à 80 560</text>
<rect x="1303.8" y="1017.2" width="61.5" height="35.7" fill="#d3322b"/>
<text x="1385.2" y="1041" font-family="'Liberation Sans', Arial, sans-serif" font-size="26.5" fill="#4b5054" textLength="232.5" lengthAdjust="spacingAndGlyphs">de 25 000 à 45 000</text>
<rect x="1303.8" y="1068" width="61.5" height="35.7" fill="#f2bb4b"/>
<text x="1385.2" y="1091.7" font-family="'Liberation Sans', Arial, sans-serif" font-size="26.5" fill="#4b5054" textLength="231.5" lengthAdjust="spacingAndGlyphs">de 10 000 à 25 000</text>
<rect x="1303.8" y="1118.7" width="61.5" height="35.7" fill="#fee99e"/>
<text x="1385.2" y="1142.4" font-family="'Liberation Sans', Arial, sans-serif" font-size="26.5" fill="#4b5054" textLength="218.8" lengthAdjust="spacingAndGlyphs">de 4 000 à 10 000</text>
<rect x="1303.8" y="1169.4" width="61.5" height="35.7" fill="#fff4da"/>
<text x="1385.2" y="1193.2" font-family="'Liberation Sans', Arial, sans-serif" font-size="26.5" fill="#4b5054" textLength="180.8" lengthAdjust="spacingAndGlyphs">de 280 à 4 000</text>
<rect x="1303.8" y="1221" width="61.5" height="35.7" fill="#d9d9d9"/>
<text x="1385.2" y="1248.7" font-family="'Liberation Sans', Arial, sans-serif" font-size="26.5" fill="#4b5054" textLength="256.9" lengthAdjust="spacingAndGlyphs">Absence de données</text>
<text x="123.7" y="1352.1" font-family="'Liberation Sans', Arial, sans-serif" font-size="24.6" fill="#2b2b2b" textLength="416.9" lengthAdjust="spacingAndGlyphs">Le RNB/habitant est un indicateur</text>
<text x="123.7" y="1389.88" font-family="'Liberation Sans', Arial, sans-serif" font-size="24.6" fill="#2b2b2b" textLength="432.4" lengthAdjust="spacingAndGlyphs">des revenus des habitants puisqu’il</text>
<text x="123.7" y="1427.66" font-family="'Liberation Sans', Arial, sans-serif" font-size="24.6" fill="#2b2b2b" textLength="494.3" lengthAdjust="spacingAndGlyphs">correspond au revenu national brut d’un</text>
<text x="123.7" y="1465.44" font-family="'Liberation Sans', Arial, sans-serif" font-size="24.6" fill="#2b2b2b" textLength="506.9" lengthAdjust="spacingAndGlyphs">pays (somme des revenus perçus dans un</text>
<text x="123.7" y="1503.22" font-family="'Liberation Sans', Arial, sans-serif" font-size="24.6" fill="#2b2b2b" textLength="474.5" lengthAdjust="spacingAndGlyphs">pays) divisé par le nombre d’habitants.</text>
<text x="123.7" y="1541" font-family="'Liberation Sans', Arial, sans-serif" font-size="24.6" fill="#2b2b2b" textLength="484.5" lengthAdjust="spacingAndGlyphs">Le taux d’alphabétisation est révélateur</text>
<text x="123.7" y="1578.78" font-family="'Liberation Sans', Arial, sans-serif" font-size="24.6" fill="#2b2b2b" textLength="388.1" lengthAdjust="spacingAndGlyphs">du niveau de scolarisation de la</text>
<text x="123.7" y="1616.56" font-family="'Liberation Sans', Arial, sans-serif" font-size="24.6" fill="#2b2b2b" textLength="404.3" lengthAdjust="spacingAndGlyphs">population, et donc du niveau de</text>
<text x="123.7" y="1654.34" font-family="'Liberation Sans', Arial, sans-serif" font-size="24.6" fill="#2b2b2b" textLength="405.4" lengthAdjust="spacingAndGlyphs">qualification de la main-d’œuvre.</text>
<path d="M706.1,1436.5 H1745.4 A18.5,18.5 0 0 1 1763.9,1455 V1686 A18.5,18.5 0 0 1 1745.4,1704.5 H724.6 A18.5,18.5 0 0 1 706.1,1686 Z" fill="#f4f5dd" stroke="#c3d44c" stroke-width="3"/>
<path d="M705,1462.5 V1421 A12.3,12.3 0 0 1 717.3,1408.7 H881.5 A12.3,12.3 0 0 1 893.8,1421 V1450.2 A12.3,12.3 0 0 1 881.5,1462.5 Z" fill="#bccf3f"/>
<text x="726" y="1448.7" font-family="'DejaVu Serif', 'Liberation Serif', serif" font-size="38" fill="#fff" textLength="139" lengthAdjust="spacingAndGlyphs">Étape 1</text>
<circle cx="1664.3" cy="1436.7" r="50" fill="#fff" stroke="#b7cd46" stroke-width="3.2"/>
<ellipse cx="1640.5" cy="1413.7" rx="5.1" ry="5.9" fill="#6f9a2b"/><path d="M1629.9,1430.5 C1629.9,1424.2 1634.5,1422.7 1637.9,1421.9 L1637.9,1417.7 L1643.1,1417.7 L1643.1,1421.9 C1646.5,1422.7 1651.1,1424.2 1651.1,1430.5 Z" fill="#6f9a2b"/><line x1="1640.5" y1="1408.2" x2="1640.5" y2="1430.5" stroke="#c9dc6a" stroke-width="0.6"/>
<ellipse cx="1688" cy="1413.7" rx="5.1" ry="5.9" fill="#6f9a2b"/><path d="M1677.4,1430.5 C1677.4,1424.2 1682,1422.7 1685.4,1421.9 L1685.4,1417.7 L1690.6,1417.7 L1690.6,1421.9 C1694,1422.7 1698.6,1424.2 1698.6,1430.5 Z" fill="#6f9a2b"/><line x1="1688" y1="1408.2" x2="1688" y2="1430.5" stroke="#c9dc6a" stroke-width="0.6"/>
<ellipse cx="1663.5" cy="1457.6" rx="5.1" ry="5.9" fill="#6f9a2b"/><path d="M1652.9,1474.4 C1652.9,1468.1 1657.5,1466.6 1660.9,1465.8 L1660.9,1461.6 L1666.1,1461.6 L1666.1,1465.8 C1669.5,1466.6 1674.1,1468.1 1674.1,1474.4 Z" fill="#6f9a2b"/><line x1="1663.5" y1="1452.1" x2="1663.5" y2="1474.4" stroke="#c9dc6a" stroke-width="0.6"/>
<path d="M1653.5,1411.5 Q1661,1409.5 1670,1411" fill="none" stroke="#c3d88a" stroke-width="2.4"/>
<polygon points="1668,1407.5 1673.5,1411 1668,1414" fill="#c3d88a"/>
<path d="M1690,1441.5 Q1688,1452 1679,1460" fill="none" stroke="#c3d88a" stroke-width="2.4"/>
<polygon points="1678,1455.5 1677,1462.5 1683.5,1461" fill="#c3d88a"/>
<path d="M1648.5,1462 Q1638,1454 1636,1441" fill="none" stroke="#c3d88a" stroke-width="2.4"/>
<polygon points="1632,1444 1635.5,1438 1639.5,1443" fill="#c3d88a"/>
<text x="727" y="1501.4" font-family="'Liberation Sans', Arial, sans-serif" font-size="26.5" fill="#2a2a2a" font-weight="bold" textLength="881.5" lengthAdjust="spacingAndGlyphs">En groupe, choisissez une localisation pour l’un des pôles suivants :</text>
<polygon points="726,1524.6 740.5,1524.6 746.5,1533.9 740.5,1543.3 726,1543.3" fill="#e0602a"/>
<text x="755.5" y="1542.6" font-family="'Liberation Sans', Arial, sans-serif" font-size="25.2" fill="#2a2a2a" textLength="228.3" lengthAdjust="spacingAndGlyphs">Un centre de R&amp;D</text>
<polygon points="726,1571.2 740.5,1571.2 746.5,1580.5 740.5,1589.9 726,1589.9" fill="#e0602a"/>
<text x="755.5" y="1589.2" font-family="'Liberation Sans', Arial, sans-serif" font-size="25.2" fill="#2a2a2a" textLength="579.2" lengthAdjust="spacingAndGlyphs">Une usine pour des produits haut de gamme</text>
<polygon points="726,1617.8 740.5,1617.8 746.5,1627.1 740.5,1636.5 726,1636.5" fill="#e0602a"/>
<text x="755.5" y="1635.8" font-family="'Liberation Sans', Arial, sans-serif" font-size="25.2" fill="#2a2a2a" textLength="565.9" lengthAdjust="spacingAndGlyphs">Une usine pour des produits bas de gamme</text>
<polygon points="726,1664.4 740.5,1664.4 746.5,1673.7 740.5,1683.1 726,1683.1" fill="#e0602a"/>
<text x="755.5" y="1682.4" font-family="'Liberation Sans', Arial, sans-serif" font-size="25.2" fill="#2a2a2a" textLength="867.6" lengthAdjust="spacingAndGlyphs">Une usine pour des produits à destination des marchés émergents</text>
<rect x="125.1" y="1832.2" width="45.9" height="44.4" fill="#d95a6a"/>
<text x="148" y="1866.8" font-family="'Liberation Sans', Arial, sans-serif" font-size="34" fill="#fff" font-weight="bold" text-anchor="middle">2</text>
<text x="191.7" y="1866.3" font-family="'Liberation Sans', Arial, sans-serif" font-size="37.5" fill="#8c1c3c" font-weight="bold" textLength="851.7" lengthAdjust="spacingAndGlyphs">Le taux d’alphabétisation par pays dans le monde</text>
<rect x="123.5" y="1892.5" width="1642.9" height="618.7" fill="#e2effb" stroke="#b3b7b9" stroke-width="1.6"/>
<clipPath id="land2"><polygon points="190.7,791.2 220,777.8 265.1,787.6 265.6,833.9 282.2,837.6 299.3,855 301,860 296,859 280,842 266,836 248,833.9 195.6,862 217.6,843.7 192,830.2 206.6,816.8 187.1,810.7 185.9,804.6 204.1,803.4"/><polygon points="265.1,787.6 284.6,786.3 296.8,783.9 326.1,785.1 340.7,791.2 372.4,792.4 404.1,795.4 403.7,777.8 413.9,777.8 428.5,799.8 437.1,804.6 428.5,812 413.9,826.6 406.6,836.3 412.7,846.1 428.5,858.3 443.2,860.7 448,875.4 454.1,876.6 452.9,860.7 459,851 457.8,826.6 470,824.1 482.2,833.9 482.2,841.2 494.4,836.3 521.2,865.6 523.7,870.5 516.3,877.8 496.8,882.7 487.1,892.4 487.1,902.2 470,904.6 452.9,910.7 443.2,915.6 442,902.2 426.1,888.8 405.4,886.3 312.7,886.3 306.6,882.7 305.4,870.5 299.3,858.3 282.2,837.6 266.3,833.9"/><polygon points="312.7,886.3 405.4,886.3 426.1,888.8 442,902.2 443.2,915.6 452.9,910.7 470,904.6 485.9,894.9 487.1,902.2 479.8,914.4 462.7,933.9 462.7,943.7 445.6,958.3 449.3,980.2 445.6,982.7 440.7,964.4 426.1,960.7 399.3,970.5 394.4,975.4 382.2,965.6 373.2,960 360.2,953.4 340.7,953.4 328.5,946.1 316.3,919.3 316.3,887.6"/><polygon points="488.3,885.1 496.8,887.6 496.8,897.3 509,899.8 494.4,908.3 486,904"/><polygon points="516.3,885.1 523.7,877.8 533.4,890 531,897.3 518.8,894.9"/><polygon points="289.5,864 293,863 297,871 294,872"/><polygon points="357.3,960 373.2,960 384.1,964.9 393.9,978.3 397.6,984.4 397.6,996.6 404.9,1007.6 419.5,1006.3 420.7,997.8 429.3,999 426.8,1008.8 424.4,1018.5 439,1019.8 440.2,1033.2 436.6,1038 446.3,1047.8 451.2,1044.1 457.3,1045.4 447.6,1050.2 436.6,1042.9 426.8,1035.6 414.6,1025.9 402.4,1018.5 390.2,1012.4 375.6,1003.9 370.7,989.3 358.5,967.3"/><polygon points="341.5,956 346,956 363,989 358.5,990.5 343.9,967.3"/><polygon points="436.6,994.1 446.3,991.7 465.9,1000.2 463.4,1002.7 446.3,996.6 437.8,996.6"/><polygon points="468.3,1005.1 480.5,1003.9 485.4,1008.8 468.3,1010"/><polygon points="472,739 507,714 530,706 582,705 611,704 654,716 633,736 634,744 625,783 560,834 538,827 528,788 526,771 509,751 487,748"/><polygon points="418,705.2 505.1,705.2 451,743.3 423.2,742.6 429,734.5 443.7,719.1 421.7,712.6 418,709.6"/><polygon points="401.2,715.5 411.5,715.5 427.6,725.7 421.7,731.6 410,731.6 407.1,725.7 401.2,724.3"/><polygon points="421.2,763.2 452.9,762 472.4,772.9 504.1,803.4 494.4,822.9 477.3,816.8 457.8,809.5 470,797.3 462.7,792.4 438.3,786.3 421.2,775.4"/><polygon points="402.7,741.8 414.4,743.3 421.7,749.9 451,749.9 451,754.3 415.9,754.3 411.5,750.6 402.7,746.2"/><polygon points="382.2,743.8 392.4,744.6 392.4,752.1 387.3,752.8 386.6,748.5 382.2,748.1"/><polygon points="372,729.4 383.7,731.6 388.1,735.2 383.7,734.5 372.7,730.9"/><polygon points="395.4,733.8 401.5,734.5 402,737.4 396.5,737"/><polygon points="320,746.2 329.5,738.9 336.8,738.2 336.1,741.8 322.2,747"/><polygon points="335.4,750.6 341.2,745.5 351.5,747.7 358.8,744.8 363.2,749.1 369,749.9 367.6,753.5 352.9,754.3 348.5,755.7 336.8,751.3"/><polygon points="348.5,736.2 355.9,736.5 355.5,738.9 349,738.6"/><polygon points="312.7,759.4 323.7,758.7 336.8,760.9 329.5,768.2 316.3,774.8 310.5,769.6"/><polygon points="332.4,772.6 342.7,766.7 360.2,766.7 372,763.8 374.9,777 382.2,782.8 379.3,787.2 351.5,788.7 338.3,782.8"/><polygon points="385.9,762.3 395.4,763 395.4,771.1 391,772.6 382.2,766.7"/><polygon points="404.2,761.6 417.3,761.6 408.5,768.2 404.9,766.7"/><polygon points="433.4,785.7 446.6,789.4 443.7,797.4 434.9,795.9"/><polygon points="431,818 448,816.8 435.9,810.7"/><polygon points="460,795 464,794 463,798"/><polygon points="457.3,1045.4 470.7,1033.2 480.5,1032 507.3,1038 509.8,1047.8 526.8,1056.3 534.1,1057.6 543.9,1074.6 558.5,1084.4 585.4,1096.6 586.6,1106.3 575.6,1126.6 575.6,1137.6 571,1150.4 566.5,1160.4 557.3,1162.3 546.3,1172.3 545.4,1183.3 539,1194.3 530.8,1201.6 528,1208 519.8,1208.9 519.8,1224.5 505.2,1225.4 504.3,1232.7 498.8,1240 489.6,1252.8 492.4,1261 487.8,1266.5 484.1,1274.8 485.1,1285.7 495.1,1292.1 494.2,1296.7 484.1,1296.7 464,1281.2 463.1,1265.6 469.5,1229 476.8,1185.1 479.6,1144.9 476.8,1141.2 460.4,1125.7 446.6,1097.3 446.3,1082 453.7,1062.4"/><polygon points="507,1278 517,1276.5 518,1279.5 508,1281"/><polygon points="675.7,940.1 706.8,937.4 719.6,936.5 725.1,938.3 723.3,952.9 745.2,963 750.7,962.1 753.5,953.8 781.8,959.3 790.3,958.5 790.1,965.7 800.1,984 805.6,998.7 814.8,1015.1 821.6,1029.5 823.9,1029.8 847.7,1033.4 842.2,1048 833,1066.3 820.2,1081 811.1,1093.8 810.2,1101.1 814.8,1117.6 816.6,1130.4 807.4,1139.5 801,1145 800.1,1165.1 791,1172.4 789.1,1183.4 783.7,1192.6 770.9,1201.7 754.4,1207.2 748.9,1202.6 741.6,1185.2 736.1,1165.1 728.8,1139.5 728.8,1121.2 730.6,1108.4 728.8,1095.6 719.6,1081 719.6,1066.3 708.7,1060.9 703.2,1055.4 690.4,1058.1 664.8,1057.2 652,1048 642.8,1037.1 641,1018.8 641,998.7 646.5,989.5 652,974.9 662,956.6"/><polygon points="842.2,1121.2 845,1130.4 836.7,1168.8 825.7,1169.7 823.9,1157.8 827.6,1137.7 836.7,1134"/><polygon points="780,784 788.8,783.9 800.5,787.6 810.7,793.4 812.9,800.7 812.2,811 804.9,812.4 800.5,806.6 793.9,802.2 799,812.4 812.2,813.2 821,803.7 825.4,793.4 832,792.7 829.8,802.2 840,795 856.5,792.1 874.8,785.7 894.9,794 900.4,793 894.9,778.4 904,767.4 910.4,769.3 911.3,793 909.5,804 913.2,803.1 918.7,796.7 918.7,772.9 935.1,771.1 935.1,763.8 953.4,762 955.2,756.5 1006.5,740.9 1032.1,749.1 1035.7,753.7 1024.8,758.3 1024.8,762.9 1076,762.9 1085.1,774.8 1101.6,771.1 1149.8,774.1 1181.5,787.6 1205.9,785.1 1232.7,783.9 1249.8,799.8 1264.4,804.6 1258.3,814.4 1242.4,809.5 1229.9,814.9 1232.9,823 1193.3,836.4 1182.6,843.3 1185.7,850.1 1165.9,876 1162.8,851.6 1188,824.2 1175,832.6 1172,830.3 1159.8,835.6 1156.7,840.2 1120.1,841 1103.4,858.3 1115.6,865.6 1118,885.1 1108.3,904.6 1091.2,914.4 1076.6,919.3 1082.9,918.4 1082.9,931.2 1081.1,944 1075.6,944.9 1074.7,933 1070.1,929.4 1061,923.9 1055.5,923 1050,929.4 1057.3,931.2 1061,934.9 1055.5,942.2 1059.1,953.2 1061,967.8 1055.5,982.4 1046.3,989.8 1039,993.4 1028,998.9 1018.9,997.1 1013.4,993.4 1009.8,997.1 1017.1,1006.2 1017.1,1017.2 1022.6,1031.8 1011.6,1044.6 1007.9,1039.1 1004.3,1033.7 998.8,1026.3 995.1,1024.5 991.5,1035.5 993.3,1044.6 998.8,1055.6 1006.1,1072.1 1002.4,1071.2 995.1,1059.3 989.6,1044.6 987.8,1035.5 986,1024.5 980.5,1013.5 976.8,1006.2 973.2,997.1 969.5,993.4 962.2,993.4 954.9,998.9 943.9,1011.7 936.6,1026.3 927.4,1046.5 919.3,1026.2 912.7,1009.8 910.5,998.8 902.8,996.6 894,984.5 879.8,982.3 866.6,981.2 863.3,976.8 853.4,976.8 846.8,971.3 840.2,965.9 834.8,964.8 838,968 845.7,976.8 846.8,982.3 850.1,988.9 857.8,987.8 861.1,979 862.2,980.1 866.6,987.8 873.2,994.4 864.4,1009.8 853.4,1016.3 838,1022.9 823.8,1029.5 817.2,1009.8 810.6,993.3 802.9,976.8 797.5,966.5 797.4,959.3 799.6,952.7 800.7,941.7 799.6,938.4 781,937.3 772.2,930.7 774.1,923.7 776.6,921 770,924 766.8,922.2 762.4,928 761,935.4 756.6,931 755.1,916.3 748,910 742,903 735,897 722,893 729,888 735,882 736,864 747.8,860.7 761,859.3 759.5,854.9 756.6,847.6 761,843.2 762.4,838.8 775.6,838.8 785,838 785.9,818.3 784.4,808 781.5,799.3 780,787.6"/><polygon points="708.3,827.1 721.5,818.3 728.8,809.5 742,793.4 753.7,786.1 771.2,780.2 780,779.5 788.8,783.9 780,784.6 772.7,783.9 771.2,789 763.2,794.1 762.4,803.7 756.6,812.4 744.9,827.1 747.8,834.4 742,840.2 739.8,852 733.2,856.3 728.8,852 726.6,840.2 721.5,838.8 715.6,843.2 709,837.3"/><polygon points="771.2,783.9 780,783.9 780,787.6 781.5,799.3 784.4,808 785.9,818.3 781.5,828.5 772.7,832.9 762.4,834.4 758,830 758,819.8 762.4,812.4 764.6,803.7 763.2,794.1 771.2,789"/><polygon points="717.8,849 722.9,847.6 724.4,857.8 718.5,859.3"/><polygon points="726.5,856 730,856.5 729,859 726,858.5"/><polygon points="676.1,843.2 681.2,842.4 680.5,847.6 684.1,847.6 682,854.9 689.3,863.7 695.1,871 693.7,875.4 683.4,878.3 674.6,879.8 682,872.4 677.6,869.5 676.1,860.7 674.6,852"/><polygon points="662.9,863.7 670.2,859.3 671.7,866.6 667.3,871 661.5,871.7"/><polygon points="621,804.6 645.4,804.1 650.2,809.5 635.6,816.8 624.6,816.8 622.2,810.7"/><polygon points="679,889.3 689.3,887.1 687.8,883.4 701,878.3 706.8,881.2 715.6,887.1 716.3,891.5 711.2,897.3 715.6,904.6 712.7,909 703.9,913.4 699.5,914.9 689.3,911.2 691.5,901.7 684.9,892.9"/><polygon points="665.9,910.5 689.3,911.2 699.5,914.9 695.1,916.3 689.3,928 686.3,933.9 676.1,936.8 668.8,935.4 664.4,928 665.9,916.3"/><polygon points="718.5,859.3 724.4,857.8 736.1,863.7 734.6,872.4 736.1,882.7 728.8,887.1 733.2,891.5 722.9,892.9 715.6,891.5 714.1,887.1 710.5,881.2 712,872.4 712.7,866.6"/><polygon points="705.4,871 712,868 712.5,872 711.2,876 706.8,876"/><polygon points="701,878.3 706.8,875.4 711.2,876 714.1,880 715.6,887.1 706.8,881.2"/><polygon points="712,895.1 716,892 722,893 721.5,897.5 714.1,899.5"/><polygon points="722,893 730.2,887.1 739.8,887.1 742.7,891.5 739.8,895.9 731.7,895.1 722,897"/><polygon points="711.2,897.3 720,895.9 730.2,895.9 728.8,901.7 733.2,910.5 742,920.7 746.3,923.7 743.4,928 742,925.1 739,929.5 736.1,925.1 728.8,917.8 721.5,910.5 715.6,904.6"/><polygon points="730.2,933.9 740.5,932.4 736.1,936.8"/><polygon points="718.5,912.7 721,912.7 721,920 720.7,928 718.3,928"/><polygon points="719.5,903 721.5,903 721.5,910 719.5,910"/><polygon points="764,937 772,936.5 771,938.5 764,939"/><polygon points="787,941 793,939.5 792,942.5"/><polygon points="724.6,729 747.8,726.6 752.7,735 741.7,746 725.9,731.5"/><polygon points="747.8,724 767.3,721.7 774.6,725.4 762.4,729"/><polygon points="755,737 764,738 761,740.5"/><polygon points="829.5,722 846.6,721.5 846,725.5 830,725.5"/><polygon points="848.2,773.8 862,755.5 900.4,744.6 901.3,747.3 863.8,760.1 860.1,776.6 851,779.3"/><polygon points="969.3,719.3 986.3,721.7 993.7,727.8 988.8,731.5 976.6,726.6"/><polygon points="994.9,732.7 1009.5,733.9 1005.9,737.6 996.1,736.3"/><polygon points="1107.1,749.8 1130.2,751 1127.8,757.1 1110.7,757.1"/><polygon points="1135.1,753.9 1148.5,755.9 1144.9,758.3"/><polygon points="1115.6,762.5 1125.4,763.5 1121,766"/><polygon points="1232.7,777.8 1243.7,777.8 1237.6,780.2"/><polygon points="1121.7,864.4 1125.4,865.6 1129,885.1 1125.4,899.8 1121.7,898.5 1120.5,880.2"/><polygon points="1120.9,902.7 1125.5,906.5 1132.3,907.3 1130.8,911.1 1126.2,914.1 1121.6,914.9 1117.1,912.6 1119.4,908"/><polygon points="1116,915.5 1122.5,920 1122.5,931 1119.5,941.5 1112,946.5 1102.5,949.5 1093,952.5 1087,954.5 1088.5,947 1095,942.5 1103,940 1110,935.5 1114.5,930 1114.5,921.5"/><polygon points="1084,951.5 1089.5,954.5 1088,961 1083.5,958"/><polygon points="1057.3,984.3 1060.1,985.2 1057.3,995.2 1055.5,993.4"/><polygon points="1020.7,1002.6 1026.2,1000.7 1027.1,1008 1021.6,1009"/><polygon points="933.8,1042.8 938.4,1044.6 939.3,1053.8 934.8,1054.7"/><polygon points="1055.5,1009.9 1061.9,1009.9 1061.9,1022.7 1066.5,1026.3 1065.5,1030 1059.1,1028.2 1056.4,1022.7"/><polygon points="1061,1033.7 1072,1031.8 1072.9,1041 1062.8,1040.1"/><polygon points="1061,1042.8 1073.8,1041.9 1074.7,1053.8 1068.3,1055.6 1061.9,1050.1"/><polygon points="1046.3,1041 1053.7,1036.4 1048.2,1045.5"/><polygon points="1022.6,1072.1 1039,1059.3 1046.3,1052 1051.8,1055.6 1046.3,1064.8 1044.5,1088.5 1026.2,1089.5 1023.5,1079.4"/><polygon points="980.5,1057.4 986,1057.4 1002.4,1075.7 1011.6,1088.5 1011.6,1097.7 1007.9,1098.6 995.1,1083 986,1068.4"/><polygon points="1011.6,1098.6 1028,1103.2 1040.9,1106.8 1039,1109.6 1026.2,1106.8 1012.5,1102.3"/><polygon points="1053.7,1073.9 1070.1,1071.2 1064.6,1076.6 1059.1,1077.6 1064.6,1090.4 1061,1097.7 1057.3,1089.5 1053.7,1096.8 1051.8,1088.5 1054.6,1081.2"/><polygon points="1046.3,1107.7 1051.8,1107.2 1051.8,1109.6 1046.3,1110"/><polygon points="1055.5,1106.8 1062.8,1106.8 1062.8,1109.6 1055.5,1109.6"/><polygon points="1065.5,1110.5 1076.5,1106.7 1077,1108.7 1066,1112"/><polygon points="1073.8,1088 1086.6,1087 1086.6,1089.5 1073.8,1090"/><polygon points="1078.4,1070.3 1081.1,1070.3 1081.1,1079.4 1078.4,1079.4"/><polygon points="1088.4,1079.4 1095.7,1078.5 1101.2,1084.9 1106.7,1082.1 1117.7,1088.5 1125,1092.2 1137.8,1099.5 1138.7,1105 1147,1114.1 1139.6,1114.1 1128.7,1106.8 1119.5,1109.6 1110.4,1108.7 1108.5,1099.5 1099.4,1090.4 1090.2,1084.9"/><polygon points="1147.9,1086.7 1155.2,1092.2 1148.8,1097.7 1140.5,1098.6 1147,1092.2"/><polygon points="1159,1096 1163,1099 1162,1100.5 1158,1097.5"/><polygon points="1167,1103 1173,1106 1172,1107.5 1166,1104.5"/><polygon points="1185,1121 1187,1121 1187,1124 1185,1124"/><polygon points="1228,1137 1232,1136 1232,1139 1228,1139.5"/><polygon points="1188.5,1152 1190,1151.5 1197.5,1158 1196,1159"/><polygon points="1035.7,1159.6 1058.5,1149.5 1075.9,1128.5 1079.6,1131.2 1086.9,1122.1 1104.3,1122.1 1105.2,1134.9 1117.1,1143.1 1119.8,1138.5 1122.6,1117.5 1131.7,1133 1133.5,1144.9 1146.3,1156.8 1154.6,1171.5 1155.5,1189.8 1146.3,1217.2 1135.4,1223.6 1117.1,1219 1102.4,1208 1091.5,1195.2 1073.2,1197.1 1065.9,1202.6 1047.6,1207.1 1041.2,1203.5 1043,1198.9"/><polygon points="1130.8,1233.7 1140.9,1233.7 1136.3,1243.7"/><polygon points="1219.5,1220.9 1231.4,1220.9 1225,1233.7 1219.5,1231.8 1222.2,1226.3"/><polygon points="1213.1,1233.7 1217.7,1234.6 1203,1255.6 1196.6,1252.9 1204.9,1246.5"/><polygon points="733,866 737,864 737,882 733,882"/><polygon points="710,895 716,894 716,899 710,899"/></clipPath>
<g clip-path="url(#c2)"><g transform="translate(0,1204)">
<polygon points="190.7,791.2 220,777.8 265.1,787.6 265.6,833.9 282.2,837.6 299.3,855 301,860 296,859 280,842 266,836 248,833.9 195.6,862 217.6,843.7 192,830.2 206.6,816.8 187.1,810.7 185.9,804.6 204.1,803.4" fill="#d3302a" stroke="#d3302a" stroke-width="0.5" stroke-linejoin="round"/>
<polygon points="265.1,787.6 284.6,786.3 296.8,783.9 326.1,785.1 340.7,791.2 372.4,792.4 404.1,795.4 403.7,777.8 413.9,777.8 428.5,799.8 437.1,804.6 428.5,812 413.9,826.6 406.6,836.3 412.7,846.1 428.5,858.3 443.2,860.7 448,875.4 454.1,876.6 452.9,860.7 459,851 457.8,826.6 470,824.1 482.2,833.9 482.2,841.2 494.4,836.3 521.2,865.6 523.7,870.5 516.3,877.8 496.8,882.7 487.1,892.4 487.1,902.2 470,904.6 452.9,910.7 443.2,915.6 442,902.2 426.1,888.8 405.4,886.3 312.7,886.3 306.6,882.7 305.4,870.5 299.3,858.3 282.2,837.6 266.3,833.9" fill="#d3302a" stroke="#d3302a" stroke-width="0.5" stroke-linejoin="round"/>
<polygon points="312.7,886.3 405.4,886.3 426.1,888.8 442,902.2 443.2,915.6 452.9,910.7 470,904.6 485.9,894.9 487.1,902.2 479.8,914.4 462.7,933.9 462.7,943.7 445.6,958.3 449.3,980.2 445.6,982.7 440.7,964.4 426.1,960.7 399.3,970.5 394.4,975.4 382.2,965.6 373.2,960 360.2,953.4 340.7,953.4 328.5,946.1 316.3,919.3 316.3,887.6" fill="#d3302a" stroke="#d3302a" stroke-width="0.5" stroke-linejoin="round"/>
<polygon points="488.3,885.1 496.8,887.6 496.8,897.3 509,899.8 494.4,908.3 486,904" fill="#d3302a" stroke="#d3302a" stroke-width="0.5" stroke-linejoin="round"/>
<polygon points="516.3,885.1 523.7,877.8 533.4,890 531,897.3 518.8,894.9" fill="#d3302a" stroke="#d3302a" stroke-width="0.5" stroke-linejoin="round"/>
<polygon points="289.5,864 293,863 297,871 294,872" fill="#d3302a" stroke="#d3302a" stroke-width="0.5" stroke-linejoin="round"/>
<polygon points="357.3,960 373.2,960 384.1,964.9 393.9,978.3 397.6,984.4 397.6,996.6 404.9,1007.6 419.5,1006.3 420.7,997.8 429.3,999 426.8,1008.8 424.4,1018.5 439,1019.8 440.2,1033.2 436.6,1038 446.3,1047.8 451.2,1044.1 457.3,1045.4 447.6,1050.2 436.6,1042.9 426.8,1035.6 414.6,1025.9 402.4,1018.5 390.2,1012.4 375.6,1003.9 370.7,989.3 358.5,967.3" fill="#d3302a" stroke="#d3302a" stroke-width="0.5" stroke-linejoin="round"/>
<polygon points="341.5,956 346,956 363,989 358.5,990.5 343.9,967.3" fill="#d3302a" stroke="#d3302a" stroke-width="0.5" stroke-linejoin="round"/>
<polygon points="436.6,994.1 446.3,991.7 465.9,1000.2 463.4,1002.7 446.3,996.6 437.8,996.6" fill="#d3302a" stroke="#d3302a" stroke-width="0.5" stroke-linejoin="round"/>
<polygon points="468.3,1005.1 480.5,1003.9 485.4,1008.8 468.3,1010" fill="#d3302a" stroke="#d3302a" stroke-width="0.5" stroke-linejoin="round"/>
<polygon points="472,739 507,714 530,706 582,705 611,704 654,716 633,736 634,744 625,783 560,834 538,827 528,788 526,771 509,751 487,748" fill="#d3302a" stroke="#d3302a" stroke-width="0.5" stroke-linejoin="round"/>
<polygon points="418,705.2 505.1,705.2 451,743.3 423.2,742.6 429,734.5 443.7,719.1 421.7,712.6 418,709.6" fill="#d3302a" stroke="#d3302a" stroke-width="0.5" stroke-linejoin="round"/>
<polygon points="401.2,715.5 411.5,715.5 427.6,725.7 421.7,731.6 410,731.6 407.1,725.7 401.2,724.3" fill="#d3302a" stroke="#d3302a" stroke-width="0.5" stroke-linejoin="round"/>
<polygon points="421.2,763.2 452.9,762 472.4,772.9 504.1,803.4 494.4,822.9 477.3,816.8 457.8,809.5 470,797.3 462.7,792.4 438.3,786.3 421.2,775.4" fill="#d3302a" stroke="#d3302a" stroke-width="0.5" stroke-linejoin="round"/>
<polygon points="402.7,741.8 414.4,743.3 421.7,749.9 451,749.9 451,754.3 415.9,754.3 411.5,750.6 402.7,746.2" fill="#d3302a" stroke="#d3302a" stroke-width="0.5" stroke-linejoin="round"/>
<polygon points="382.2,743.8 392.4,744.6 392.4,752.1 387.3,752.8 386.6,748.5 382.2,748.1" fill="#d3302a" stroke="#d3302a" stroke-width="0.5" stroke-linejoin="round"/>
<polygon points="372,729.4 383.7,731.6 388.1,735.2 383.7,734.5 372.7,730.9" fill="#d3302a" stroke="#d3302a" stroke-width="0.5" stroke-linejoin="round"/>
<polygon points="395.4,733.8 401.5,734.5 402,737.4 396.5,737" fill="#d3302a" stroke="#d3302a" stroke-width="0.5" stroke-linejoin="round"/>
<polygon points="320,746.2 329.5,738.9 336.8,738.2 336.1,741.8 322.2,747" fill="#d3302a" stroke="#d3302a" stroke-width="0.5" stroke-linejoin="round"/>
<polygon points="335.4,750.6 341.2,745.5 351.5,747.7 358.8,744.8 363.2,749.1 369,749.9 367.6,753.5 352.9,754.3 348.5,755.7 336.8,751.3" fill="#d3302a" stroke="#d3302a" stroke-width="0.5" stroke-linejoin="round"/>
<polygon points="348.5,736.2 355.9,736.5 355.5,738.9 349,738.6" fill="#d3302a" stroke="#d3302a" stroke-width="0.5" stroke-linejoin="round"/>
<polygon points="312.7,759.4 323.7,758.7 336.8,760.9 329.5,768.2 316.3,774.8 310.5,769.6" fill="#d3302a" stroke="#d3302a" stroke-width="0.5" stroke-linejoin="round"/>
<polygon points="332.4,772.6 342.7,766.7 360.2,766.7 372,763.8 374.9,777 382.2,782.8 379.3,787.2 351.5,788.7 338.3,782.8" fill="#d3302a" stroke="#d3302a" stroke-width="0.5" stroke-linejoin="round"/>
<polygon points="385.9,762.3 395.4,763 395.4,771.1 391,772.6 382.2,766.7" fill="#d3302a" stroke="#d3302a" stroke-width="0.5" stroke-linejoin="round"/>
<polygon points="404.2,761.6 417.3,761.6 408.5,768.2 404.9,766.7" fill="#d3302a" stroke="#d3302a" stroke-width="0.5" stroke-linejoin="round"/>
<polygon points="433.4,785.7 446.6,789.4 443.7,797.4 434.9,795.9" fill="#d3302a" stroke="#d3302a" stroke-width="0.5" stroke-linejoin="round"/>
<polygon points="431,818 448,816.8 435.9,810.7" fill="#d3302a" stroke="#d3302a" stroke-width="0.5" stroke-linejoin="round"/>
<polygon points="460,795 464,794 463,798" fill="#d3302a" stroke="#d3302a" stroke-width="0.5" stroke-linejoin="round"/>
<polygon points="457.3,1045.4 470.7,1033.2 480.5,1032 507.3,1038 509.8,1047.8 526.8,1056.3 534.1,1057.6 543.9,1074.6 558.5,1084.4 585.4,1096.6 586.6,1106.3 575.6,1126.6 575.6,1137.6 571,1150.4 566.5,1160.4 557.3,1162.3 546.3,1172.3 545.4,1183.3 539,1194.3 530.8,1201.6 528,1208 519.8,1208.9 519.8,1224.5 505.2,1225.4 504.3,1232.7 498.8,1240 489.6,1252.8 492.4,1261 487.8,1266.5 484.1,1274.8 485.1,1285.7 495.1,1292.1 494.2,1296.7 484.1,1296.7 464,1281.2 463.1,1265.6 469.5,1229 476.8,1185.1 479.6,1144.9 476.8,1141.2 460.4,1125.7 446.6,1097.3 446.3,1082 453.7,1062.4" fill="#d3302a" stroke="#d3302a" stroke-width="0.5" stroke-linejoin="round"/>
<polygon points="507,1278 517,1276.5 518,1279.5 508,1281" fill="#b9c9b0" stroke="#b9c9b0" stroke-width="0.5" stroke-linejoin="round"/>
<polygon points="675.7,940.1 706.8,937.4 719.6,936.5 725.1,938.3 723.3,952.9 745.2,963 750.7,962.1 753.5,953.8 781.8,959.3 790.3,958.5 790.1,965.7 800.1,984 805.6,998.7 814.8,1015.1 821.6,1029.5 823.9,1029.8 847.7,1033.4 842.2,1048 833,1066.3 820.2,1081 811.1,1093.8 810.2,1101.1 814.8,1117.6 816.6,1130.4 807.4,1139.5 801,1145 800.1,1165.1 791,1172.4 789.1,1183.4 783.7,1192.6 770.9,1201.7 754.4,1207.2 748.9,1202.6 741.6,1185.2 736.1,1165.1 728.8,1139.5 728.8,1121.2 730.6,1108.4 728.8,1095.6 719.6,1081 719.6,1066.3 708.7,1060.9 703.2,1055.4 690.4,1058.1 664.8,1057.2 652,1048 642.8,1037.1 641,1018.8 641,998.7 646.5,989.5 652,974.9 662,956.6" fill="#e08a2d" stroke="#e08a2d" stroke-width="0.5" stroke-linejoin="round"/>
<polygon points="842.2,1121.2 845,1130.4 836.7,1168.8 825.7,1169.7 823.9,1157.8 827.6,1137.7 836.7,1134" fill="#f6c453" stroke="#f6c453" stroke-width="0.5" stroke-linejoin="round"/>
<polygon points="780,784 788.8,783.9 800.5,787.6 810.7,793.4 812.9,800.7 812.2,811 804.9,812.4 800.5,806.6 793.9,802.2 799,812.4 812.2,813.2 821,803.7 825.4,793.4 832,792.7 829.8,802.2 840,795 856.5,792.1 874.8,785.7 894.9,794 900.4,793 894.9,778.4 904,767.4 910.4,769.3 911.3,793 909.5,804 913.2,803.1 918.7,796.7 918.7,772.9 935.1,771.1 935.1,763.8 953.4,762 955.2,756.5 1006.5,740.9 1032.1,749.1 1035.7,753.7 1024.8,758.3 1024.8,762.9 1076,762.9 1085.1,774.8 1101.6,771.1 1149.8,774.1 1181.5,787.6 1205.9,785.1 1232.7,783.9 1249.8,799.8 1264.4,804.6 1258.3,814.4 1242.4,809.5 1229.9,814.9 1232.9,823 1193.3,836.4 1182.6,843.3 1185.7,850.1 1165.9,876 1162.8,851.6 1188,824.2 1175,832.6 1172,830.3 1159.8,835.6 1156.7,840.2 1120.1,841 1103.4,858.3 1115.6,865.6 1118,885.1 1108.3,904.6 1091.2,914.4 1076.6,919.3 1082.9,918.4 1082.9,931.2 1081.1,944 1075.6,944.9 1074.7,933 1070.1,929.4 1061,923.9 1055.5,923 1050,929.4 1057.3,931.2 1061,934.9 1055.5,942.2 1059.1,953.2 1061,967.8 1055.5,982.4 1046.3,989.8 1039,993.4 1028,998.9 1018.9,997.1 1013.4,993.4 1009.8,997.1 1017.1,1006.2 1017.1,1017.2 1022.6,1031.8 1011.6,1044.6 1007.9,1039.1 1004.3,1033.7 998.8,1026.3 995.1,1024.5 991.5,1035.5 993.3,1044.6 998.8,1055.6 1006.1,1072.1 1002.4,1071.2 995.1,1059.3 989.6,1044.6 987.8,1035.5 986,1024.5 980.5,1013.5 976.8,1006.2 973.2,997.1 969.5,993.4 962.2,993.4 954.9,998.9 943.9,1011.7 936.6,1026.3 927.4,1046.5 919.3,1026.2 912.7,1009.8 910.5,998.8 902.8,996.6 894,984.5 879.8,982.3 866.6,981.2 863.3,976.8 853.4,976.8 846.8,971.3 840.2,965.9 834.8,964.8 838,968 845.7,976.8 846.8,982.3 850.1,988.9 857.8,987.8 861.1,979 862.2,980.1 866.6,987.8 873.2,994.4 864.4,1009.8 853.4,1016.3 838,1022.9 823.8,1029.5 817.2,1009.8 810.6,993.3 802.9,976.8 797.5,966.5 797.4,959.3 799.6,952.7 800.7,941.7 799.6,938.4 781,937.3 772.2,930.7 774.1,923.7 776.6,921 770,924 766.8,922.2 762.4,928 761,935.4 756.6,931 755.1,916.3 748,910 742,903 735,897 722,893 729,888 735,882 736,864 747.8,860.7 761,859.3 759.5,854.9 756.6,847.6 761,843.2 762.4,838.8 775.6,838.8 785,838 785.9,818.3 784.4,808 781.5,799.3 780,787.6" fill="#d3302a" stroke="#d3302a" stroke-width="0.5" stroke-linejoin="round"/>
<polygon points="708.3,827.1 721.5,818.3 728.8,809.5 742,793.4 753.7,786.1 771.2,780.2 780,779.5 788.8,783.9 780,784.6 772.7,783.9 771.2,789 763.2,794.1 762.4,803.7 756.6,812.4 744.9,827.1 747.8,834.4 742,840.2 739.8,852 733.2,856.3 728.8,852 726.6,840.2 721.5,838.8 715.6,843.2 709,837.3" fill="#d3302a" stroke="#d3302a" stroke-width="0.5" stroke-linejoin="round"/>
<polygon points="771.2,783.9 780,783.9 780,787.6 781.5,799.3 784.4,808 785.9,818.3 781.5,828.5 772.7,832.9 762.4,834.4 758,830 758,819.8 762.4,812.4 764.6,803.7 763.2,794.1 771.2,789" fill="#d3302a" stroke="#d3302a" stroke-width="0.5" stroke-linejoin="round"/>
<polygon points="717.8,849 722.9,847.6 724.4,857.8 718.5,859.3" fill="#d3302a" stroke="#d3302a" stroke-width="0.5" stroke-linejoin="round"/>
<polygon points="726.5,856 730,856.5 729,859 726,858.5" fill="#d3302a" stroke="#d3302a" stroke-width="0.5" stroke-linejoin="round"/>
<polygon points="676.1,843.2 681.2,842.4 680.5,847.6 684.1,847.6 682,854.9 689.3,863.7 695.1,871 693.7,875.4 683.4,878.3 674.6,879.8 682,872.4 677.6,869.5 676.1,860.7 674.6,852" fill="#d3302a" stroke="#d3302a" stroke-width="0.5" stroke-linejoin="round"/>
<polygon points="662.9,863.7 670.2,859.3 671.7,866.6 667.3,871 661.5,871.7" fill="#d3302a" stroke="#d3302a" stroke-width="0.5" stroke-linejoin="round"/>
<polygon points="621,804.6 645.4,804.1 650.2,809.5 635.6,816.8 624.6,816.8 622.2,810.7" fill="#d3302a" stroke="#d3302a" stroke-width="0.5" stroke-linejoin="round"/>
<polygon points="679,889.3 689.3,887.1 687.8,883.4 701,878.3 706.8,881.2 715.6,887.1 716.3,891.5 711.2,897.3 715.6,904.6 712.7,909 703.9,913.4 699.5,914.9 689.3,911.2 691.5,901.7 684.9,892.9" fill="#d3302a" stroke="#d3302a" stroke-width="0.5" stroke-linejoin="round"/>
<polygon points="665.9,910.5 689.3,911.2 699.5,914.9 695.1,916.3 689.3,928 686.3,933.9 676.1,936.8 668.8,935.4 664.4,928 665.9,916.3" fill="#d3302a" stroke="#d3302a" stroke-width="0.5" stroke-linejoin="round"/>
<polygon points="718.5,859.3 724.4,857.8 736.1,863.7 734.6,872.4 736.1,882.7 728.8,887.1 733.2,891.5 722.9,892.9 715.6,891.5 714.1,887.1 710.5,881.2 712,872.4 712.7,866.6" fill="#d3302a" stroke="#d3302a" stroke-width="0.5" stroke-linejoin="round"/>
<polygon points="705.4,871 712,868 712.5,872 711.2,876 706.8,876" fill="#d3302a" stroke="#d3302a" stroke-width="0.5" stroke-linejoin="round"/>
<polygon points="701,878.3 706.8,875.4 711.2,876 714.1,880 715.6,887.1 706.8,881.2" fill="#d3302a" stroke="#d3302a" stroke-width="0.5" stroke-linejoin="round"/>
<polygon points="712,895.1 716,892 722,893 721.5,897.5 714.1,899.5" fill="#d3302a" stroke="#d3302a" stroke-width="0.5" stroke-linejoin="round"/>
<polygon points="722,893 730.2,887.1 739.8,887.1 742.7,891.5 739.8,895.9 731.7,895.1 722,897" fill="#d3302a" stroke="#d3302a" stroke-width="0.5" stroke-linejoin="round"/>
<polygon points="711.2,897.3 720,895.9 730.2,895.9 728.8,901.7 733.2,910.5 742,920.7 746.3,923.7 743.4,928 742,925.1 739,929.5 736.1,925.1 728.8,917.8 721.5,910.5 715.6,904.6" fill="#d3302a" stroke="#d3302a" stroke-width="0.5" stroke-linejoin="round"/>
<polygon points="730.2,933.9 740.5,932.4 736.1,936.8" fill="#d3302a" stroke="#d3302a" stroke-width="0.5" stroke-linejoin="round"/>
<polygon points="718.5,912.7 721,912.7 721,920 720.7,928 718.3,928" fill="#d3302a" stroke="#d3302a" stroke-width="0.5" stroke-linejoin="round"/>
<polygon points="719.5,903 721.5,903 721.5,910 719.5,910" fill="#d3302a" stroke="#d3302a" stroke-width="0.5" stroke-linejoin="round"/>
<polygon points="764,937 772,936.5 771,938.5 764,939" fill="#d3302a" stroke="#d3302a" stroke-width="0.5" stroke-linejoin="round"/>
<polygon points="787,941 793,939.5 792,942.5" fill="#d3302a" stroke="#d3302a" stroke-width="0.5" stroke-linejoin="round"/>
<polygon points="724.6,729 747.8,726.6 752.7,735 741.7,746 725.9,731.5" fill="#d3302a" stroke="#d3302a" stroke-width="0.5" stroke-linejoin="round"/>
<polygon points="747.8,724 767.3,721.7 774.6,725.4 762.4,729" fill="#d3302a" stroke="#d3302a" stroke-width="0.5" stroke-linejoin="round"/>
<polygon points="755,737 764,738 761,740.5" fill="#d3302a" stroke="#d3302a" stroke-width="0.5" stroke-linejoin="round"/>
<polygon points="829.5,722 846.6,721.5 846,725.5 830,725.5" fill="#d3302a" stroke="#d3302a" stroke-width="0.5" stroke-linejoin="round"/>
<polygon points="848.2,773.8 862,755.5 900.4,744.6 901.3,747.3 863.8,760.1 860.1,776.6 851,779.3" fill="#d3302a" stroke="#d3302a" stroke-width="0.5" stroke-linejoin="round"/>
<polygon points="969.3,719.3 986.3,721.7 993.7,727.8 988.8,731.5 976.6,726.6" fill="#d3302a" stroke="#d3302a" stroke-width="0.5" stroke-linejoin="round"/>
<polygon points="994.9,732.7 1009.5,733.9 1005.9,737.6 996.1,736.3" fill="#d3302a" stroke="#d3302a" stroke-width="0.5" stroke-linejoin="round"/>
<polygon points="1107.1,749.8 1130.2,751 1127.8,757.1 1110.7,757.1" fill="#d3302a" stroke="#d3302a" stroke-width="0.5" stroke-linejoin="round"/>
<polygon points="1135.1,753.9 1148.5,755.9 1144.9,758.3" fill="#d3302a" stroke="#d3302a" stroke-width="0.5" stroke-linejoin="round"/>
<polygon points="1115.6,762.5 1125.4,763.5 1121,766" fill="#d3302a" stroke="#d3302a" stroke-width="0.5" stroke-linejoin="round"/>
<polygon points="1232.7,777.8 1243.7,777.8 1237.6,780.2" fill="#d3302a" stroke="#d3302a" stroke-width="0.5" stroke-linejoin="round"/>
<polygon points="1121.7,864.4 1125.4,865.6 1129,885.1 1125.4,899.8 1121.7,898.5 1120.5,880.2" fill="#d3302a" stroke="#d3302a" stroke-width="0.5" stroke-linejoin="round"/>
<polygon points="1120.9,902.7 1125.5,906.5 1132.3,907.3 1130.8,911.1 1126.2,914.1 1121.6,914.9 1117.1,912.6 1119.4,908" fill="#d3302a" stroke="#d3302a" stroke-width="0.5" stroke-linejoin="round"/>
<polygon points="1116,915.5 1122.5,920 1122.5,931 1119.5,941.5 1112,946.5 1102.5,949.5 1093,952.5 1087,954.5 1088.5,947 1095,942.5 1103,940 1110,935.5 1114.5,930 1114.5,921.5" fill="#d3302a" stroke="#d3302a" stroke-width="0.5" stroke-linejoin="round"/>
<polygon points="1084,951.5 1089.5,954.5 1088,961 1083.5,958" fill="#d3302a" stroke="#d3302a" stroke-width="0.5" stroke-linejoin="round"/>
<polygon points="1057.3,984.3 1060.1,985.2 1057.3,995.2 1055.5,993.4" fill="#d3302a" stroke="#d3302a" stroke-width="0.5" stroke-linejoin="round"/>
<polygon points="1020.7,1002.6 1026.2,1000.7 1027.1,1008 1021.6,1009" fill="#d3302a" stroke="#d3302a" stroke-width="0.5" stroke-linejoin="round"/>
<polygon points="933.8,1042.8 938.4,1044.6 939.3,1053.8 934.8,1054.7" fill="#d3302a" stroke="#d3302a" stroke-width="0.5" stroke-linejoin="round"/>
<polygon points="1055.5,1009.9 1061.9,1009.9 1061.9,1022.7 1066.5,1026.3 1065.5,1030 1059.1,1028.2 1056.4,1022.7" fill="#d3302a" stroke="#d3302a" stroke-width="0.5" stroke-linejoin="round"/>
<polygon points="1061,1033.7 1072,1031.8 1072.9,1041 1062.8,1040.1" fill="#d3302a" stroke="#d3302a" stroke-width="0.5" stroke-linejoin="round"/>
<polygon points="1061,1042.8 1073.8,1041.9 1074.7,1053.8 1068.3,1055.6 1061.9,1050.1" fill="#d3302a" stroke="#d3302a" stroke-width="0.5" stroke-linejoin="round"/>
<polygon points="1046.3,1041 1053.7,1036.4 1048.2,1045.5" fill="#d3302a" stroke="#d3302a" stroke-width="0.5" stroke-linejoin="round"/>
<polygon points="1022.6,1072.1 1039,1059.3 1046.3,1052 1051.8,1055.6 1046.3,1064.8 1044.5,1088.5 1026.2,1089.5 1023.5,1079.4" fill="#d3302a" stroke="#d3302a" stroke-width="0.5" stroke-linejoin="round"/>
<polygon points="980.5,1057.4 986,1057.4 1002.4,1075.7 1011.6,1088.5 1011.6,1097.7 1007.9,1098.6 995.1,1083 986,1068.4" fill="#d3302a" stroke="#d3302a" stroke-width="0.5" stroke-linejoin="round"/>
<polygon points="1011.6,1098.6 1028,1103.2 1040.9,1106.8 1039,1109.6 1026.2,1106.8 1012.5,1102.3" fill="#d3302a" stroke="#d3302a" stroke-width="0.5" stroke-linejoin="round"/>
<polygon points="1053.7,1073.9 1070.1,1071.2 1064.6,1076.6 1059.1,1077.6 1064.6,1090.4 1061,1097.7 1057.3,1089.5 1053.7,1096.8 1051.8,1088.5 1054.6,1081.2" fill="#d3302a" stroke="#d3302a" stroke-width="0.5" stroke-linejoin="round"/>
<polygon points="1046.3,1107.7 1051.8,1107.2 1051.8,1109.6 1046.3,1110" fill="#d3302a" stroke="#d3302a" stroke-width="0.5" stroke-linejoin="round"/>
<polygon points="1055.5,1106.8 1062.8,1106.8 1062.8,1109.6 1055.5,1109.6" fill="#d3302a" stroke="#d3302a" stroke-width="0.5" stroke-linejoin="round"/>
<polygon points="1065.5,1110.5 1076.5,1106.7 1077,1108.7 1066,1112" fill="#d3302a" stroke="#d3302a" stroke-width="0.5" stroke-linejoin="round"/>
<polygon points="1073.8,1088 1086.6,1087 1086.6,1089.5 1073.8,1090" fill="#d3302a" stroke="#d3302a" stroke-width="0.5" stroke-linejoin="round"/>
<polygon points="1078.4,1070.3 1081.1,1070.3 1081.1,1079.4 1078.4,1079.4" fill="#d3302a" stroke="#d3302a" stroke-width="0.5" stroke-linejoin="round"/>
<polygon points="1088.4,1079.4 1095.7,1078.5 1101.2,1084.9 1106.7,1082.1 1117.7,1088.5 1125,1092.2 1137.8,1099.5 1138.7,1105 1147,1114.1 1139.6,1114.1 1128.7,1106.8 1119.5,1109.6 1110.4,1108.7 1108.5,1099.5 1099.4,1090.4 1090.2,1084.9" fill="#d3302a" stroke="#d3302a" stroke-width="0.5" stroke-linejoin="round"/>
<polygon points="1147.9,1086.7 1155.2,1092.2 1148.8,1097.7 1140.5,1098.6 1147,1092.2" fill="#c9d6e0" stroke="#c9d6e0" stroke-width="0.5" stroke-linejoin="round"/>
<polygon points="1159,1096 1163,1099 1162,1100.5 1158,1097.5" fill="#c9d6e0" stroke="#c9d6e0" stroke-width="0.5" stroke-linejoin="round"/>
<polygon points="1167,1103 1173,1106 1172,1107.5 1166,1104.5" fill="#c9d6e0" stroke="#c9d6e0" stroke-width="0.5" stroke-linejoin="round"/>
<polygon points="1185,1121 1187,1121 1187,1124 1185,1124" fill="#c9d6e0" stroke="#c9d6e0" stroke-width="0.5" stroke-linejoin="round"/>
<polygon points="1228,1137 1232,1136 1232,1139 1228,1139.5" fill="#c9d6e0" stroke="#c9d6e0" stroke-width="0.5" stroke-linejoin="round"/>
<polygon points="1188.5,1152 1190,1151.5 1197.5,1158 1196,1159" fill="#7a4a5a" stroke="#7a4a5a" stroke-width="0.5" stroke-linejoin="round"/>
<polygon points="1035.7,1159.6 1058.5,1149.5 1075.9,1128.5 1079.6,1131.2 1086.9,1122.1 1104.3,1122.1 1105.2,1134.9 1117.1,1143.1 1119.8,1138.5 1122.6,1117.5 1131.7,1133 1133.5,1144.9 1146.3,1156.8 1154.6,1171.5 1155.5,1189.8 1146.3,1217.2 1135.4,1223.6 1117.1,1219 1102.4,1208 1091.5,1195.2 1073.2,1197.1 1065.9,1202.6 1047.6,1207.1 1041.2,1203.5 1043,1198.9" fill="#d3302a" stroke="#d3302a" stroke-width="0.5" stroke-linejoin="round"/>
<polygon points="1130.8,1233.7 1140.9,1233.7 1136.3,1243.7" fill="#d3302a" stroke="#d3302a" stroke-width="0.5" stroke-linejoin="round"/>
<polygon points="1219.5,1220.9 1231.4,1220.9 1225,1233.7 1219.5,1231.8 1222.2,1226.3" fill="#d3302a" stroke="#d3302a" stroke-width="0.5" stroke-linejoin="round"/>
<polygon points="1213.1,1233.7 1217.7,1234.6 1203,1255.6 1196.6,1252.9 1204.9,1246.5" fill="#d3302a" stroke="#d3302a" stroke-width="0.5" stroke-linejoin="round"/>
<polygon points="733,866 737,864 737,882 733,882" fill="#d3302a" stroke="#d3302a" stroke-width="0.5" stroke-linejoin="round"/>
<polygon points="710,895 716,894 716,899 710,899" fill="#d3302a" stroke="#d3302a" stroke-width="0.5" stroke-linejoin="round"/>
<g clip-path="url(#land2)">
<polygon points="473.2,1035.6 485.4,1033.2 507.3,1038 509.8,1047.8 504.9,1057.6 497.6,1057.6 495.1,1072.2 490.2,1071 482.9,1064.9 475.6,1052.7 472,1042.9" fill="#d3302a" stroke="#f7c863" stroke-width="1.2" stroke-linejoin="round"/>
<polygon points="483.2,1115.6 493.3,1113.8 509.8,1126.6 517.1,1137.6 516.2,1148.5 504.3,1150.4 502.4,1158.6 489.6,1158.6 483.2,1152.2 483.2,1126.6" fill="#d3302a" stroke="#f7c863" stroke-width="1.2" stroke-linejoin="round"/>
<polygon points="479.6,1144.9 483.2,1152.2 489.6,1158.6 502.4,1158.6 516.2,1170.5 514.3,1179.6 528,1176 518.9,1188.8 518,1191.5 528,1199.8 530.8,1201.6 528,1208 519.8,1208.9 519.8,1224.5 505.2,1225.4 504.3,1232.7 498.8,1240 489.6,1252.8 492.4,1261 487.8,1266.5 484.1,1274.8 485.1,1285.7 495.1,1292.1 494.2,1296.7 484.1,1296.7 464,1281.2 463.1,1265.6 469.5,1229 476.8,1185.1" fill="#d3302a" stroke="#f7c863" stroke-width="1.2" stroke-linejoin="round"/>
<polygon points="413,1019.5 419.8,1011.9 426.8,1009.1 428.2,1017.5 438.7,1018.9 440,1033 437,1039.5 432,1041 426.8,1035.6 414.6,1025.9" fill="#e08a2d" stroke="#f7c863" stroke-width="1.2" stroke-linejoin="round"/>
<polygon points="468.3,1005.1 474,1004.5 474,1009.8 468.3,1010" fill="#f6c453" stroke="#f7c863" stroke-width="1.2" stroke-linejoin="round"/>
<polygon points="506,1046 512,1049 519,1056 520,1066 513,1067 508,1058" fill="#e08a2d" stroke="#f7c863" stroke-width="1.2" stroke-linejoin="round"/>
<polygon points="737.6,863.7 747.8,860.7 761,859.3 765.4,863.7 763.9,872.4 765.4,881.2 758,884.1 747.8,882.7 736.1,881.2 734.6,872.4" fill="#d3302a" stroke="#f7c863" stroke-width="1.2" stroke-linejoin="round"/>
<polygon points="762.4,838.8 775.6,838.8 777.1,846.1 775.6,853.4 765.4,856.3 759.5,854.9 756.6,847.6 761,843.2" fill="#d3302a" stroke="#f7c863" stroke-width="1.2" stroke-linejoin="round"/>
<polygon points="735,882 752,882 765.4,881.2 766,889 760,893 745,897 741,892.5 729,888" fill="#d3302a" stroke="#f7c863" stroke-width="1.2" stroke-linejoin="round"/>
<polygon points="755.1,916.3 762.4,914.9 766.8,922.2 762.4,928 761,935.4 756.6,931" fill="#d3302a" stroke="#f7c863" stroke-width="1.2" stroke-linejoin="round"/>
<polygon points="765.4,872.4 785.9,871 800.5,873.9 812.2,882.7 806.3,891.5 799,894.4 788.8,894.4 777.1,891.5 763.9,890 761,884.1" fill="#d3302a" stroke="#f7c863" stroke-width="1.2" stroke-linejoin="round"/>
<polygon points="774.1,923.7 776.6,921 784.4,917.8 791.7,916.3 806.3,917.8 819.5,917.8 823.9,920.7 825.4,932.4 815.1,933.9 800.5,935.4 785.9,933.9 775.6,931" fill="#d3302a" stroke="#f7c863" stroke-width="1.2" stroke-linejoin="round"/>
<polygon points="665.9,916.3 671.7,916.3 671,935.4 665.9,933.9" fill="#d3302a" stroke="#f7c863" stroke-width="1.2" stroke-linejoin="round"/>
<polygon points="800.7,938.4 812,937.3 825,932.5 832.4,932 837.3,964.8 834.8,964.8 829.3,961.5 801.8,961.5 797.4,959.3 799.6,952.7" fill="#e08a2d" stroke="#f7c863" stroke-width="1.2" stroke-linejoin="round"/>
<polygon points="825.4,932.4 837,930 850,934 862,936 876.3,940.4 881.2,977 879.8,982.3 866.6,981.2 863.3,976.8 853.4,976.8 846.8,971.3 840.2,965.9 834.8,964.8 832.4,932" fill="#e08a2d" stroke="#f7c863" stroke-width="1.2" stroke-linejoin="round"/>
<polygon points="870,938 880,921 900,922 920.2,923.9 919,934.9 926.3,943.4 919,946 912,956 905,966 898,975 894,984.5 879.8,982.3 881.2,977 876.3,960" fill="#f6c453" stroke="#f7c863" stroke-width="1.2" stroke-linejoin="round"/>
<polygon points="894,984.5 898,975 905,966 912,956 919,946 926.3,943.4 931.2,953.2 934.9,964.1 953.2,972.7 965.4,970.2 981.2,967.8 986.1,972.7 984,980 978,983 973,990 971.5,993 969.5,993.4 962.2,993.4 954.9,998.9 943.9,1011.7 936.6,1026.3 927.4,1046.5 919.3,1026.2 912.7,1009.8 910.5,998.8 902.8,996.6" fill="#e08a2d" stroke="#f7c863" stroke-width="1.2" stroke-linejoin="round"/>
<polygon points="934.9,964.1 953.2,972.7 960,974 959,977.5 946,976 936,969" fill="#f6c453" stroke="#f7c863" stroke-width="1.2" stroke-linejoin="round"/>
<polygon points="862,904.6 876.6,902.8 894.9,915.6 905.9,913.8 929.6,912.9 924.1,921.1 916.8,922.9 913.2,933.9 904,941.2 894.9,937.6 883.9,932.1 876.6,934 865.6,919.3" fill="#d3302a" stroke="#f7c863" stroke-width="1.2" stroke-linejoin="round"/>
<polygon points="958.9,884.5 968,880.9 989.1,880.9 990.9,876.3 1001,876.3 1001.9,880.9 1015.6,882.7 1043,883.6 1041.2,890 1053.1,894.6 1044.8,899.1 1030.2,902.8 1024.8,912 1010.1,916.5 986.3,912.9 979,904.6 966.2,897.3" fill="#d3302a" stroke="#f7c863" stroke-width="1.2" stroke-linejoin="round"/>
<polygon points="969.5,993.4 971.5,979.4 980,977 986.1,974.5 988.5,985 985,995 988,1012 990,1030 986,1024.5 980.5,1013.5 976.8,1006.2 973.2,997.1" fill="#e08a2d" stroke="#f7c863" stroke-width="1.2" stroke-linejoin="round"/>
<polygon points="995.9,996.5 1010.5,1003.8 1013,1015 1012,1028 1004.3,1033.7 1000.7,1025.8 1005,1012 998,1002" fill="#e08a2d" stroke="#f7c863" stroke-width="1.2" stroke-linejoin="round"/>
<polygon points="986,1000.7 998.8,997.1 1009.8,1008 1009.8,1022.7 1002.4,1026.3 995.1,1024.5 991.5,1035.5 989.6,1026.3 987.8,1011.7" fill="#d3302a" stroke="#f7c863" stroke-width="1.2" stroke-linejoin="round"/>
<polygon points="816.1,1010.9 840.2,1010.9 853.4,1014.1 838,1022.9 823.8,1029.5" fill="#f6c453" stroke="#f7c863" stroke-width="1.2" stroke-linejoin="round"/>
<polygon points="861.1,976.8 866.6,987.8 873.2,994.4 864.4,1009.8 853.4,1014.1 855.6,1005.4 861.1,995.5" fill="#d3302a" stroke="#f7c863" stroke-width="1.2" stroke-linejoin="round"/>
<polygon points="1075.4,932.7 1082.9,931.2 1081.1,944 1075.6,944.9 1074.7,933" fill="#d3302a" stroke="#f7c863" stroke-width="1.2" stroke-linejoin="round"/>
<polygon points="1070.1,929.4 1072,924 1081.5,919.3 1082.9,918.4 1082.9,931.2 1075.4,932.7 1074.7,933" fill="#d3302a" stroke="#f7c863" stroke-width="1.2" stroke-linejoin="round"/>
<polygon points="1118.6,1089.8 1125,1092.2 1137.8,1099.5 1138.7,1105 1147,1114.1 1139.6,1114.1 1128.7,1106.8 1119.5,1109.6 1118.6,1109.6" fill="#f6c453" stroke="#f7c863" stroke-width="1.2" stroke-linejoin="round"/>
<polygon points="721.5,954.8 745.2,963 750.7,962.1 753.5,953.8 768.1,956.6 768.1,1003.2 739.8,993.2 725.1,989.5" fill="#d3302a" stroke="#f7c863" stroke-width="1.2" stroke-linejoin="round"/>
<polygon points="743.4,1159.9 766.6,1167.2 781.2,1159.9 791,1162.3 789.1,1183.4 783.7,1192.6 770.9,1201.7 754.4,1207.2 748.9,1202.6 741.6,1185.2" fill="#d3302a" stroke="#f7c863" stroke-width="1.2" stroke-linejoin="round"/>
<polygon points="641,998.7 646.5,989.5 652,974.9 666.6,974 665.7,978.5 653.8,979.5 653.8,993.2 648.3,995 643.7,998.7" fill="#d9d9d9" stroke="#f7c863" stroke-width="1.2" stroke-linejoin="round"/>
<polygon points="644.6,998.9 656.8,989.2 673.9,984.3 676.3,1018.4 647.1,1023.3 641,1018.8 641,998.7" fill="#f6c453" stroke="#f7c863" stroke-width="1.2" stroke-linejoin="round"/>
<polygon points="673.9,984.3 705.6,1003.8 703.2,1020.9 678.8,1030.6 676.3,1018.4" fill="#fff2da" stroke="#f7c863" stroke-width="1.2" stroke-linejoin="round"/>
<polygon points="705.6,998.9 737.3,991.6 739.8,1020.9 722.7,1025.8 703.2,1020.9" fill="#fff2da" stroke="#f7c863" stroke-width="1.2" stroke-linejoin="round"/>
<polygon points="737.3,991.6 764.1,996.5 762.9,1030.6 752,1047.7 737.3,1042.8 739.8,1020.9" fill="#fff2da" stroke="#f7c863" stroke-width="1.2" stroke-linejoin="round"/>
<polygon points="647.1,1023.3 678.8,1030.6 703.2,1020.9 722.7,1025.8 722.7,1059.9 708.7,1060.9 703.2,1055.4 690.4,1058.1 664.8,1057.2 652,1048 642.8,1037.1 641,1018.8" fill="#f6c453" stroke="#f7c863" stroke-width="1.2" stroke-linejoin="round"/>
<polygon points="652,1031 672,1032 678,1045 665,1050 652,1046" fill="#fff2da" stroke="#f7c863" stroke-width="1.2" stroke-linejoin="round"/>
<polygon points="737.3,1042.8 752,1047.7 762.9,1040.4 771.5,1059.9 747.1,1062.3 737.3,1062.3" fill="#fff2da" stroke="#f7c863" stroke-width="1.2" stroke-linejoin="round"/>
<polygon points="765.4,1040 788.5,1038 795.9,1045.3 791,1062.3 771.5,1059.9" fill="#d9d9d9" stroke="#f7c863" stroke-width="1.2" stroke-linejoin="round"/>
<polygon points="795.9,1023.3 815.4,1023.3 834.9,1047.7 820.2,1057.5 800.7,1059.9 791,1062.3 795.9,1045.3" fill="#f6c453" stroke="#f7c863" stroke-width="1.2" stroke-linejoin="round"/>
<polygon points="815.4,1033.1 823.9,1029.8 847.7,1033.4 842.2,1048 833,1066.3 820.2,1081.9 815.4,1067.2 834.9,1047.7" fill="#d9d9d9" stroke="#f7c863" stroke-width="1.2" stroke-linejoin="round"/>
<polygon points="759.3,1118.4 781.2,1106.2 798.3,1116 815.4,1116 815.4,1133.1 807.4,1139.5 801,1145 800.1,1159 795.9,1159.9 788.5,1162.3 791,1147.7 771.5,1140.4 759.3,1138" fill="#f6c453" stroke="#f7c863" stroke-width="1.2" stroke-linejoin="round"/>
<polygon points="870,938 880,921 900,922 920.2,923.9 919,934.9 926.3,943.4 919,946 912,956 905,966 898,975 894,984.5 879.8,982.3 881.2,977 876.3,960" fill="none" stroke="#f7c863" stroke-width="1.2" stroke-linejoin="round"/>
<polygon points="479.6,1144.9 483.2,1152.2 489.6,1158.6 502.4,1158.6 516.2,1170.5 514.3,1179.6 528,1176 518.9,1188.8 518,1191.5 528,1199.8 530.8,1201.6 528,1208 519.8,1208.9 519.8,1224.5 505.2,1225.4 504.3,1232.7 498.8,1240 489.6,1252.8 492.4,1261 487.8,1266.5 484.1,1274.8 485.1,1285.7 495.1,1292.1 494.2,1296.7 484.1,1296.7 464,1281.2 463.1,1265.6 469.5,1229 476.8,1185.1" fill="none" stroke="#f7c863" stroke-width="1.2" stroke-linejoin="round"/>
<polygon points="762.4,838.8 775.6,838.8 777.1,846.1 775.6,853.4 765.4,856.3 759.5,854.9 756.6,847.6 761,843.2" fill="none" stroke="#f7c863" stroke-width="1.2" stroke-linejoin="round"/>
<polygon points="483.2,1115.6 493.3,1113.8 509.8,1126.6 517.1,1137.6 516.2,1148.5 504.3,1150.4 502.4,1158.6 489.6,1158.6 483.2,1152.2 483.2,1126.6" fill="none" stroke="#f7c863" stroke-width="1.2" stroke-linejoin="round"/>
<polygon points="436.6,1038 446.3,1047.8 451.2,1044.1 452,1047 447.6,1050.2 436.6,1042.9" fill="none" stroke="#f7c863" stroke-width="1.2" stroke-linejoin="round"/>
<polygon points="420,1019.2 438.7,1018.9 440,1033 437,1039.5 432,1041 426.8,1035.6 420,1030" fill="none" stroke="#f7c863" stroke-width="1.2" stroke-linejoin="round"/>
<polygon points="737.3,1042.8 752,1047.7 762.9,1040.4 771.5,1059.9 747.1,1062.3 737.3,1062.3" fill="none" stroke="#f7c863" stroke-width="1.2" stroke-linejoin="round"/>
<polygon points="862,904.6 876.6,902.8 894.9,915.6 905.9,913.8 929.6,912.9 924.1,921.1 916.8,922.9 913.2,933.9 904,941.2 894.9,937.6 883.9,932.1 876.6,934 865.6,919.3" fill="none" stroke="#f7c863" stroke-width="1.2" stroke-linejoin="round"/>
<polygon points="737.3,991.6 764.1,996.5 762.9,1030.6 752,1047.7 737.3,1042.8 739.8,1020.9" fill="none" stroke="#f7c863" stroke-width="1.2" stroke-linejoin="round"/>
<polygon points="735,882 752,882 765.4,881.2 766,889 760,893 745,897 741,892.5 729,888" fill="none" stroke="#f7c863" stroke-width="1.2" stroke-linejoin="round"/>
<polygon points="795.9,1023.3 815.4,1023.3 834.9,1047.7 820.2,1057.5 800.7,1059.9 791,1062.3 795.9,1045.3" fill="none" stroke="#f7c863" stroke-width="1.2" stroke-linejoin="round"/>
<polygon points="529.3,1057.6 534.1,1058.8 535.4,1064.9 530.5,1066.1" fill="none" stroke="#f7c863" stroke-width="1.2" stroke-linejoin="round"/>
<polygon points="721.5,1068.2 736.1,1070 736.1,1086.5 723.3,1084.6" fill="none" stroke="#f7c863" stroke-width="1.2" stroke-linejoin="round"/>
<polygon points="755.1,916.3 762.4,914.9 766.8,922.2 762.4,928 761,935.4 756.6,931" fill="none" stroke="#f7c863" stroke-width="1.2" stroke-linejoin="round"/>
<polygon points="413,1019.5 419.8,1011.9 426.8,1009.1 428.2,1017.5 438.7,1018.9 440,1033 437,1039.5 432,1041 426.8,1035.6 414.6,1025.9" fill="none" stroke="#f7c863" stroke-width="1.2" stroke-linejoin="round"/>
<polygon points="652,1031 672,1032 678,1045 665,1050 652,1046" fill="none" stroke="#f7c863" stroke-width="1.2" stroke-linejoin="round"/>
<polygon points="506,1046 512,1049 519,1056 520,1066 513,1067 508,1058" fill="none" stroke="#f7c863" stroke-width="1.2" stroke-linejoin="round"/>
<polygon points="468.3,1005.1 474,1004.5 474,1009.8 468.3,1010" fill="none" stroke="#f7c863" stroke-width="1.2" stroke-linejoin="round"/>
<polygon points="894,984.5 898,975 905,966 912,956 919,946 926.3,943.4 931.2,953.2 934.9,964.1 953.2,972.7 965.4,970.2 981.2,967.8 986.1,972.7 984,980 978,983 973,990 971.5,993 969.5,993.4 962.2,993.4 954.9,998.9 943.9,1011.7 936.6,1026.3 927.4,1046.5 919.3,1026.2 912.7,1009.8 910.5,998.8 902.8,996.6" fill="none" stroke="#f7c863" stroke-width="1.2" stroke-linejoin="round"/>
<polygon points="988.5,985 1000,982 1013.4,993.4 1009.8,997.1 1017.1,1006.2 1017.1,1017.2 1022.6,1031.8 1011.6,1044.6 1004.3,1033.7 1002,1026 1009.8,1022.7 1009.8,1008 998.8,997.1 988,999" fill="none" stroke="#f7c863" stroke-width="1.2" stroke-linejoin="round"/>
<polygon points="825.4,932.4 837,930 850,934 862,936 876.3,940.4 881.2,977 879.8,982.3 866.6,981.2 863.3,976.8 853.4,976.8 846.8,971.3 840.2,965.9 834.8,964.8 832.4,932" fill="none" stroke="#f7c863" stroke-width="1.2" stroke-linejoin="round"/>
<polygon points="800.7,938.4 812,937.3 825,932.5 832.4,932 837.3,964.8 834.8,964.8 829.3,961.5 801.8,961.5 797.4,959.3 799.6,952.7" fill="none" stroke="#f7c863" stroke-width="1.2" stroke-linejoin="round"/>
<polygon points="797.5,952 800,952 799.5,960 797.4,959.3" fill="none" stroke="#f7c863" stroke-width="1.2" stroke-linejoin="round"/>
<polygon points="835,964.5 838.5,965 838,968 835.5,967.5" fill="none" stroke="#f7c863" stroke-width="1.2" stroke-linejoin="round"/>
<polygon points="995.9,996.5 1010.5,1003.8 1013,1015 1012,1028 1004.3,1033.7 1000.7,1025.8 1005,1012 998,1002" fill="none" stroke="#f7c863" stroke-width="1.2" stroke-linejoin="round"/>
<polygon points="721.5,954.8 745.2,963 750.7,962.1 753.5,953.8 768.1,956.6 768.1,1003.2 739.8,993.2 725.1,989.5" fill="none" stroke="#f7c863" stroke-width="1.2" stroke-linejoin="round"/>
<polygon points="1024.4,1072.1 1039,1059.3 1046.3,1052 1051.8,1055.6 1046.3,1064.8 1039,1070.3 1026.2,1073.9" fill="none" stroke="#f7c863" stroke-width="1.2" stroke-linejoin="round"/>
<polygon points="993.3,1044.6 998.8,1055.6 1006.1,1072.1 1002.4,1071.2 995.1,1059.3 991,1046" fill="none" stroke="#f7c863" stroke-width="1.2" stroke-linejoin="round"/>
<polygon points="673.9,984.3 705.6,1003.8 703.2,1020.9 678.8,1030.6 676.3,1018.4" fill="none" stroke="#f7c863" stroke-width="1.2" stroke-linejoin="round"/>
<polygon points="644.6,998.9 656.8,989.2 673.9,984.3 676.3,1018.4 647.1,1023.3 641,1018.8 641,998.7" fill="none" stroke="#f7c863" stroke-width="1.2" stroke-linejoin="round"/>
<polygon points="958.9,884.5 968,880.9 989.1,880.9 990.9,876.3 1001,876.3 1001.9,880.9 1015.6,882.7 1043,883.6 1041.2,890 1053.1,894.6 1044.8,899.1 1030.2,902.8 1024.8,912 1010.1,916.5 986.3,912.9 979,904.6 966.2,897.3" fill="none" stroke="#f7c863" stroke-width="1.2" stroke-linejoin="round"/>
<polygon points="969.5,993.4 971.5,979.4 980,977 986.1,974.5 988.5,985 985,995 988,1012 990,1030 986,1024.5 980.5,1013.5 976.8,1006.2 973.2,997.1" fill="none" stroke="#f7c863" stroke-width="1.2" stroke-linejoin="round"/>
<polygon points="934.9,964.1 953.2,972.7 960,974 959,977.5 946,976 936,969" fill="none" stroke="#f7c863" stroke-width="1.2" stroke-linejoin="round"/>
<polygon points="705.6,998.9 737.3,991.6 739.8,1020.9 722.7,1025.8 703.2,1020.9" fill="none" stroke="#f7c863" stroke-width="1.2" stroke-linejoin="round"/>
<polygon points="1070.1,929.4 1072,924 1081.5,919.3 1082.9,918.4 1082.9,931.2 1075.4,932.7 1074.7,933" fill="none" stroke="#f7c863" stroke-width="1.2" stroke-linejoin="round"/>
<polygon points="861.1,976.8 866.6,987.8 873.2,994.4 864.4,1009.8 853.4,1014.1 855.6,1005.4 861.1,995.5" fill="none" stroke="#f7c863" stroke-width="1.2" stroke-linejoin="round"/>
<polygon points="1118.6,1089.8 1125,1092.2 1137.8,1099.5 1138.7,1105 1147,1114.1 1139.6,1114.1 1128.7,1106.8 1119.5,1109.6 1118.6,1109.6" fill="none" stroke="#f7c863" stroke-width="1.2" stroke-linejoin="round"/>
<polygon points="737.6,863.7 747.8,860.7 761,859.3 765.4,863.7 763.9,872.4 765.4,881.2 758,884.1 747.8,882.7 736.1,881.2 734.6,872.4" fill="none" stroke="#f7c863" stroke-width="1.2" stroke-linejoin="round"/>
<polygon points="665.9,916.3 671.7,916.3 671,935.4 665.9,933.9" fill="none" stroke="#f7c863" stroke-width="1.2" stroke-linejoin="round"/>
<polygon points="845.5,977 847.5,977 847,982 845.5,981" fill="none" stroke="#f7c863" stroke-width="1.2" stroke-linejoin="round"/>
<polygon points="743.4,1159.9 766.6,1167.2 781.2,1159.9 791,1162.3 789.1,1183.4 783.7,1192.6 770.9,1201.7 754.4,1207.2 748.9,1202.6 741.6,1185.2" fill="none" stroke="#f7c863" stroke-width="1.2" stroke-linejoin="round"/>
<polygon points="801.8,961.5 829.3,961.5 838,968 846.8,982.3 850.1,988.9 857.8,987.8 861.1,995.5 855.6,1005.4 840.2,1010.9 827.1,1013 816.1,1010.9 802.9,987.8 797.4,970.2" fill="none" stroke="#f7c863" stroke-width="1.2" stroke-linejoin="round"/>
<polygon points="1075.4,932.7 1082.9,931.2 1081.1,944 1075.6,944.9 1074.7,933" fill="none" stroke="#f7c863" stroke-width="1.2" stroke-linejoin="round"/>
<polygon points="815.4,1033.1 823.9,1029.8 847.7,1033.4 842.2,1048 833,1066.3 820.2,1081.9 815.4,1067.2 834.9,1047.7" fill="none" stroke="#f7c863" stroke-width="1.2" stroke-linejoin="round"/>
<polygon points="728.8,1139.5 769,1141.3 791,1157.8 789.1,1183.4 783.7,1192.6 770.9,1201.7 754.4,1207.2 748.9,1202.6 741.6,1185.2 736.1,1165.1" fill="none" stroke="#f7c863" stroke-width="1.2" stroke-linejoin="round"/>
<polygon points="765.4,1040 788.5,1038 795.9,1045.3 791,1062.3 771.5,1059.9" fill="none" stroke="#f7c863" stroke-width="1.2" stroke-linejoin="round"/>
<polygon points="802.9,937.3 818.3,936.2 813.9,950.5 802.9,954.9" fill="none" stroke="#f7c863" stroke-width="1.2" stroke-linejoin="round"/>
<polygon points="986,1000.7 998.8,997.1 1009.8,1008 1009.8,1022.7 1002.4,1026.3 995.1,1024.5 991.5,1035.5 989.6,1026.3 987.8,1011.7" fill="none" stroke="#f7c863" stroke-width="1.2" stroke-linejoin="round"/>
<polygon points="774.1,923.7 776.6,921 784.4,917.8 791.7,916.3 806.3,917.8 819.5,917.8 823.9,920.7 825.4,932.4 815.1,933.9 800.5,935.4 785.9,933.9 775.6,931" fill="none" stroke="#f7c863" stroke-width="1.2" stroke-linejoin="round"/>
<polygon points="850.1,988.9 857.8,987.8 861.1,979 862.2,983.4 861.1,992.2 851.2,991.6" fill="none" stroke="#f7c863" stroke-width="1.2" stroke-linejoin="round"/>
<polygon points="765.4,872.4 785.9,871 800.5,873.9 812.2,882.7 806.3,891.5 799,894.4 788.8,894.4 777.1,891.5 763.9,890 761,884.1" fill="none" stroke="#f7c863" stroke-width="1.2" stroke-linejoin="round"/>
<polygon points="473.2,1035.6 485.4,1033.2 507.3,1038 509.8,1047.8 504.9,1057.6 497.6,1057.6 495.1,1072.2 490.2,1071 482.9,1064.9 475.6,1052.7 472,1042.9" fill="none" stroke="#f7c863" stroke-width="1.2" stroke-linejoin="round"/>
<polygon points="647.1,1023.3 678.8,1030.6 703.2,1020.9 722.7,1025.8 722.7,1059.9 708.7,1060.9 703.2,1055.4 690.4,1058.1 664.8,1057.2 652,1048 642.8,1037.1 641,1018.8" fill="none" stroke="#f7c863" stroke-width="1.2" stroke-linejoin="round"/>
<polygon points="641,998.7 646.5,989.5 652,974.9 666.6,974 665.7,978.5 653.8,979.5 653.8,993.2 648.3,995 643.7,998.7" fill="none" stroke="#f7c863" stroke-width="1.2" stroke-linejoin="round"/>
<polygon points="816.1,1010.9 840.2,1010.9 853.4,1014.1 838,1022.9 823.8,1029.5" fill="none" stroke="#f7c863" stroke-width="1.2" stroke-linejoin="round"/>
<polygon points="759.3,1118.4 781.2,1106.2 798.3,1116 815.4,1116 815.4,1133.1 807.4,1139.5 801,1145 800.1,1159 795.9,1159.9 788.5,1162.3 791,1147.7 771.5,1140.4 759.3,1138" fill="none" stroke="#f7c863" stroke-width="1.2" stroke-linejoin="round"/>
<polyline points="788.8,783.9 780,784.6 772.7,783.9 771.2,789 763.2,794.1 762.4,803.7" fill="none" stroke="#f7c863" stroke-width="1.2" stroke-linejoin="round"/>
<polyline points="780,783.9 780,787.6 781.5,799.3 784.4,808 785.9,818.3 781.5,828.5" fill="none" stroke="#f7c863" stroke-width="1.2" stroke-linejoin="round"/>
<polyline points="689.3,911.2 699.5,914.9" fill="none" stroke="#f7c863" stroke-width="1.2" stroke-linejoin="round"/>
<polyline points="701,878.3 706.8,881.2 715.6,887.1 716.3,891.5 711.2,897.3 715.6,904.6" fill="none" stroke="#f7c863" stroke-width="1.2" stroke-linejoin="round"/>
<polyline points="736.1,863.7 734.6,872.4 736.1,882.7 728.8,887.1 733.2,891.5" fill="none" stroke="#f7c863" stroke-width="1.2" stroke-linejoin="round"/>
<polyline points="718.5,859.3 724.4,857.8" fill="none" stroke="#f7c863" stroke-width="1.2" stroke-linejoin="round"/>
<polyline points="715.6,891.5 722.9,892.9 733.2,891.5" fill="none" stroke="#f7c863" stroke-width="1.2" stroke-linejoin="round"/>
<polyline points="712.7,866.6 712,872.4 710.5,881.2 714.1,887.1" fill="none" stroke="#f7c863" stroke-width="1.2" stroke-linejoin="round"/>
<polyline points="711.2,897.3 720,895.9 730.2,895.9 735,897" fill="none" stroke="#f7c863" stroke-width="1.2" stroke-linejoin="round"/>
<polyline points="775.6,853.4 785,858 790,866 786,871" fill="none" stroke="#f7c863" stroke-width="1.2" stroke-linejoin="round"/>
<polyline points="745,897 752,898 760,893 766,889" fill="none" stroke="#f7c863" stroke-width="1.2" stroke-linejoin="round"/>
<polyline points="752,898 755,905 760,905" fill="none" stroke="#f7c863" stroke-width="1.2" stroke-linejoin="round"/>
<polyline points="763.9,890 770,896 777,899" fill="none" stroke="#f7c863" stroke-width="1.2" stroke-linejoin="round"/>
<polyline points="516.2,1148.5 521,1158 518,1170 514.3,1179.6" fill="none" stroke="#f7c863" stroke-width="1.2" stroke-linejoin="round"/>
<polyline points="488,1159.5 484,1180 479.4,1203.6 476.9,1240.6 470.7,1271.5 472,1286.3 484.3,1287.5" fill="none" stroke="#f7c863" stroke-width="1.2" stroke-linejoin="round"/>
<polyline points="509.8,1047.8 515,1058 520,1056 524,1062" fill="none" stroke="#f7c863" stroke-width="1.2" stroke-linejoin="round"/>
<polyline points="447,1075 455,1072 462,1062" fill="none" stroke="#f7c863" stroke-width="1.2" stroke-linejoin="round"/>
<polyline points="842.4,876.2 852,880 862,888 866,900" fill="none" stroke="#f7c863" stroke-width="1.2" stroke-linejoin="round"/>
<polyline points="954.4,886.6 945,895 942,905 930,912" fill="none" stroke="#f7c863" stroke-width="1.2" stroke-linejoin="round"/>
<polyline points="312.7,886.3 405.4,886.3 426.1,888.8 442,902.2 443.2,915.6 452.9,910.7 470,904.6 485.9,894.9" fill="none" stroke="#f7c863" stroke-width="1.2" stroke-linejoin="round"/>
<polyline points="265.1,787.6 265.6,833.9 282.2,837.6 299.3,858.3" fill="none" stroke="#f7c863" stroke-width="1.2" stroke-linejoin="round"/>
<polyline points="340.7,953.4 360.2,953.4 373.2,960 384.1,964.9 393.9,978.3" fill="none" stroke="#f7c863" stroke-width="1.2" stroke-linejoin="round"/>
<polyline points="753.7,790.5 742.7,794.9 728.8,813.9 730.2,834.4 726.6,840.2" fill="none" stroke="#f7c863" stroke-width="1.2" stroke-linejoin="round"/>
<polyline points="840,876.3 874.8,875.4 878.4,864.4 905.9,858 907.7,862.6 924.1,861.6 933.3,875.4 955.2,886.3 958.9,884.5" fill="none" stroke="#f7c863" stroke-width="1.2" stroke-linejoin="round"/>
<polyline points="1043,883.6 1055.9,868 1070.5,866.2 1077.8,879 1088.8,891.8 1099.8,890 1096.1,899.1 1088.8,904.6 1082,918" fill="none" stroke="#f7c863" stroke-width="1.2" stroke-linejoin="round"/>
<polyline points="495.1,1072.2 482,1076 482.9,1086.8 470.7,1106.3 483.2,1115.6" fill="none" stroke="#f7c863" stroke-width="1.2" stroke-linejoin="round"/>
<polyline points="447,1082 455,1086 462,1079 472,1062 482.9,1064.9" fill="none" stroke="#f7c863" stroke-width="1.2" stroke-linejoin="round"/>
<polyline points="747.1,1062.3 745,1075 738,1085 736,1100 745,1105 755,1110 759.3,1118.4 770,1115 781.2,1106.2 782,1090 787,1075 791,1062.3" fill="none" stroke="#f7c863" stroke-width="1.2" stroke-linejoin="round"/>
<polyline points="728.8,1121 745,1122 759.3,1118.4" fill="none" stroke="#f7c863" stroke-width="1.2" stroke-linejoin="round"/>
<polyline points="798.3,1083 815,1086" fill="none" stroke="#f7c863" stroke-width="1.2" stroke-linejoin="round"/>
<polyline points="782,1090 798,1092 811,1094" fill="none" stroke="#f7c863" stroke-width="1.2" stroke-linejoin="round"/>
<polyline points="728.8,1139.5 769,1141.3" fill="none" stroke="#f7c863" stroke-width="1.2" stroke-linejoin="round"/>
<polyline points="766.6,996.5 800.7,996.5" fill="none" stroke="#f7c863" stroke-width="1.2" stroke-linejoin="round"/>
<polyline points="841,999 858,990" fill="none" stroke="#f7c863" stroke-width="1.2" stroke-linejoin="round"/>
<polyline points="955.6,884.9 943.4,893.4 936.1,904.4 932.4,914.1 920.2,923.9 919,934.9 926.3,943.4 931.2,953.2 934.9,964.1 953.2,972.7 965.4,970.2 981.2,967.8 986.1,972.7 989.8,987.3 995.9,994.6 1006.8,994.6 1016.6,997.1 1025.1,999.5" fill="none" stroke="#f7c863" stroke-width="1.2" stroke-linejoin="round"/>
<polyline points="875,940 900,930 925,923" fill="none" stroke="#f7c863" stroke-width="1.2" stroke-linejoin="round"/>
<polyline points="800,874 820,880 835,890 840,900" fill="none" stroke="#f7c863" stroke-width="1.2" stroke-linejoin="round"/>
<polyline points="777,891 785,880 790,872" fill="none" stroke="#f7c863" stroke-width="1.2" stroke-linejoin="round"/>
<polyline points="742,903 752,900 760,905 770,908 776,912" fill="none" stroke="#f7c863" stroke-width="1.2" stroke-linejoin="round"/>
<polyline points="748,910 758,912" fill="none" stroke="#f7c863" stroke-width="1.2" stroke-linejoin="round"/>
</g>
<polygon points="777.1,898.8 788.8,895.9 797.6,901.7 806.3,898.8 815.1,907.6 818,914.9 806.3,917.8 791.7,916.3 780,912 775.6,906.1" fill="#e2effb" stroke="#a3c6de" stroke-width="1.0" stroke-linejoin="round"/>
<polygon points="836,909 840,899 849,896 854,905 855.5,923 853,938 846,936 840,922" fill="#e2effb" stroke="#a3c6de" stroke-width="1.0" stroke-linejoin="round"/>
<polygon points="797,895 803,893 804,897 799,898" fill="#e2effb" stroke="#a3c6de" stroke-width="1.0" stroke-linejoin="round"/>
<path d="M699.5,914.9 L703.9,913.4 L712.7,909.0 L715.6,904.6 L719.5,908.5 L719.5,910.0 L721.0,910.0 L736.1,925.1 L739.0,929.5 L742.0,925.1 L743.4,928.0 L746.3,923.7 L742.0,920.7 L733.2,910.5 L728.8,901.7 L730.3,895.5 L735.0,897.0 L742.0,903.0 L748.0,910.0 L755.1,916.3 L756.6,931.0 L761.0,935.4 L762.4,928.0 L766.8,922.2 L770.0,924.0 L776.6,921.0 L776.6,921.0 L774.1,923.7 L772.2,930.7 L781.0,937.3 L799.6,938.4 L800.7,941.7 L799.6,952.7 L797.4,959.3 L797.5,966.5 L802.9,976.8 L810.6,993.3 L817.2,1009.8 L823.8,1029.5 L838.0,1022.9 L853.4,1016.3 L864.4,1009.8 L873.2,994.4 L866.6,987.8 L862.2,980.1 L861.1,979.0 L857.8,987.8 L850.1,988.9 L846.8,982.3 L845.7,976.8 L838.0,968.0 L834.8,964.8 L840.2,965.9 L846.8,971.3 L853.4,976.8 L863.3,976.8 L866.6,981.2 L879.8,982.3 L894.0,984.5 L902.8,996.6 L910.5,998.8 L912.7,1009.8 L919.3,1026.2 L927.4,1046.5 L936.6,1026.3 L943.9,1011.7 L954.9,998.9 L962.2,993.4 L969.5,993.4 L973.2,997.1 L976.8,1006.2 L980.5,1013.5 L986.0,1024.5 L987.8,1035.5 L989.6,1044.6 L995.1,1059.3 L1002.4,1071.2 L1006.1,1072.1 L998.8,1055.6 L993.3,1044.6 L991.5,1035.5 L995.1,1024.5 L998.8,1026.3 L1004.3,1033.7 L1007.9,1039.1 L1011.6,1044.6 L1022.6,1031.8 L1017.1,1017.2 L1017.1,1006.2 L1009.8,997.1 L1013.4,993.4 L1018.9,997.1 L1028.0,998.9 L1039.0,993.4 L1046.3,989.8 L1055.5,982.4 L1061.0,967.8 L1059.1,953.2 L1055.5,942.2 L1061.0,934.9 L1057.3,931.2 L1050.0,929.4 L1055.5,923.0 L1061.0,923.9 L1070.1,929.4 L1074.7,933.0 L1075.6,944.9 L1081.1,944.0 L1082.9,931.2 L1082.9,918.4 L1078.7,919.0 L1078.6,918.6 L1091.2,914.4 L1108.3,904.6 L1118.0,885.1 L1115.6,865.6 L1103.4,858.3 L1120.1,841.0 L1156.7,840.2 L1159.8,835.6 L1172.0,830.3 L1175.0,832.6 L1187.1,824.8 L1187.3,825.0 L1162.8,851.6 L1165.9,876.0 L1185.7,850.1 L1182.6,843.3 L1193.3,836.4 L1232.9,823.0 L1229.9,814.9 L1242.4,809.5 L1258.3,814.4 L1264.4,804.6 L1249.8,799.8 L1232.7,783.9 L1205.9,785.1 L1181.5,787.6 L1149.8,774.1 L1101.6,771.1 L1085.1,774.8 L1076.0,762.9 L1024.8,762.9 L1024.8,758.3 L1035.7,753.7 L1032.1,749.1 L1006.5,740.9 L955.2,756.5 L953.4,762.0 L935.1,763.8 L935.1,771.1 L918.7,772.9 L918.7,796.7 L913.2,803.1 L909.5,804.0 L911.3,793.0 L910.4,769.3 L904.0,767.4 L894.9,778.4 L900.4,793.0 L894.9,794.0 L874.8,785.7 L856.5,792.1 L840.0,795.0 L829.8,802.2 L832.0,792.7 L825.4,793.4 L821.0,803.7 L812.2,813.2 L804.5,812.7 L804.5,812.7 L799.0,812.4 L793.9,802.2 L800.5,806.6 L804.9,812.4 L812.2,811.0 L812.9,800.7 L810.7,793.4 L800.5,787.6 L788.8,783.9 L780.0,779.5 L771.2,780.2 L753.7,786.1 L742.0,793.4 L728.8,809.5 L721.5,818.3 L708.3,827.1 L709.0,837.3 L715.6,843.2 L721.5,838.8 L726.6,840.2 L728.8,852.0 L733.2,856.3 L739.8,852.0 L742.0,840.2 L747.8,834.4 L744.9,827.1 L756.6,812.4 L762.4,803.7 L763.1,795.4 L763.4,795.4 L764.6,803.7 L762.4,812.4 L758.0,819.8 L758.0,830.0 L762.4,834.4 L772.7,832.9 L781.5,828.5 L785.8,818.5 L785.9,818.5 L785.0,838.0 L775.6,838.8 L762.4,838.8 L761.0,843.2 L756.6,847.6 L759.5,854.9 L761.0,859.3 L747.8,860.7 L736.4,863.9 L726.2,858.7 L726.3,858.5 L729.0,859.0 L730.0,856.5 L726.5,856.0 L726.0,858.6 L724.4,857.8 L722.9,847.6 L717.8,849.0 L718.5,859.3 L712.7,866.6 L712.6,867.7 L705.4,871.0 L706.7,875.5 L701.0,878.3 L687.8,883.4 L689.3,887.1 L679.0,889.3 L684.9,892.9 L691.5,901.7 L689.3,911.2 L665.9,910.5 L665.9,916.3 L664.4,928.0 L668.8,935.4 L676.1,936.8 L686.3,933.9 L689.3,928.0 L695.1,916.3 Z M823.9,1029.8 L821.6,1029.5 L814.8,1015.1 L805.6,998.7 L800.1,984.0 L790.1,965.7 L790.3,958.5 L781.8,959.3 L753.5,953.8 L750.7,962.1 L745.2,963.0 L723.3,952.9 L725.1,938.3 L719.6,936.5 L706.8,937.4 L675.7,940.1 L662.0,956.6 L652.0,974.9 L646.5,989.5 L641.0,998.7 L641.0,1018.8 L642.8,1037.1 L652.0,1048.0 L664.8,1057.2 L690.4,1058.1 L703.2,1055.4 L708.7,1060.9 L719.6,1066.3 L719.6,1081.0 L728.8,1095.6 L730.6,1108.4 L728.8,1121.2 L728.8,1139.5 L736.1,1165.1 L741.6,1185.2 L748.9,1202.6 L754.4,1207.2 L770.9,1201.7 L783.7,1192.6 L789.1,1183.4 L791.0,1172.4 L800.1,1165.1 L801.0,1145.0 L807.4,1139.5 L816.6,1130.4 L814.8,1117.6 L810.2,1101.1 L811.1,1093.8 L820.2,1081.0 L833.0,1066.3 L842.2,1048.0 L847.7,1033.4 Z M1243.7,777.8 L1232.7,777.8 L1237.6,780.2 Z M1232.0,1136.0 L1228.0,1137.0 L1228.0,1139.5 L1232.0,1139.0 Z M1222.2,1226.3 L1219.5,1231.8 L1225.0,1233.7 L1231.4,1220.9 L1219.5,1220.9 Z M1196.6,1252.9 L1203.0,1255.6 L1217.7,1234.6 L1213.1,1233.7 L1204.9,1246.5 Z M1187.0,1124.0 L1187.0,1121.0 L1185.0,1121.0 L1185.0,1124.0 Z M1173.0,1106.0 L1167.0,1103.0 L1166.0,1104.5 L1172.0,1107.5 Z M1162.0,1100.5 L1163.0,1099.0 L1159.0,1096.0 L1158.0,1097.5 Z M1102.4,1208.0 L1117.1,1219.0 L1135.4,1223.6 L1146.3,1217.2 L1155.5,1189.8 L1154.6,1171.5 L1146.3,1156.8 L1133.5,1144.9 L1131.7,1133.0 L1122.6,1117.5 L1119.8,1138.5 L1117.1,1143.1 L1105.2,1134.9 L1104.3,1122.1 L1086.9,1122.1 L1079.6,1131.2 L1075.9,1128.5 L1058.5,1149.5 L1035.7,1159.6 L1043.0,1198.9 L1041.2,1203.5 L1047.6,1207.1 L1065.9,1202.6 L1073.2,1197.1 L1091.5,1195.2 Z M1140.5,1098.6 L1148.8,1097.7 L1155.2,1092.2 L1147.9,1086.7 L1147.0,1092.2 Z M1135.1,753.9 L1144.9,758.3 L1148.5,755.9 Z M1139.6,1114.1 L1147.0,1114.1 L1138.7,1105.0 L1137.8,1099.5 L1125.0,1092.2 L1117.7,1088.5 L1106.7,1082.1 L1101.2,1084.9 L1095.7,1078.5 L1088.4,1079.4 L1090.2,1084.9 L1099.4,1090.4 L1108.5,1099.5 L1110.4,1108.7 L1119.5,1109.6 L1128.7,1106.8 Z M1136.3,1243.7 L1140.9,1233.7 L1130.8,1233.7 Z M1125.5,906.5 L1120.9,902.7 L1119.4,908.0 L1117.1,912.6 L1121.6,914.9 L1126.2,914.1 L1130.8,911.1 L1132.3,907.3 Z M1127.8,757.1 L1130.2,751.0 L1107.1,749.8 L1110.7,757.1 Z M1120.5,880.2 L1121.7,898.5 L1125.4,899.8 L1129.0,885.1 L1125.4,865.6 L1121.7,864.4 Z M1121.0,766.0 L1125.4,763.5 L1115.6,762.5 Z M1088.5,947.0 L1087.2,953.3 L1084.0,951.5 L1083.5,958.0 L1088.0,961.0 L1089.5,954.5 L1088.6,954.0 L1093.0,952.5 L1112.0,946.5 L1119.5,941.5 L1122.5,931.0 L1122.5,920.0 L1116.0,915.5 L1114.5,921.5 L1114.5,930.0 L1110.0,935.5 L1103.0,940.0 L1095.0,942.5 Z M1086.6,1089.5 L1086.6,1087.0 L1073.8,1088.0 L1073.8,1090.0 Z M1081.1,1070.3 L1078.4,1070.3 L1078.4,1079.4 L1081.1,1079.4 Z M1076.5,1106.7 L1065.5,1110.5 L1066.0,1112.0 L1077.0,1108.7 Z M1061.9,1050.1 L1068.3,1055.6 L1074.7,1053.8 L1073.8,1041.9 L1061.0,1042.8 Z M1072.0,1031.8 L1061.0,1033.7 L1062.8,1040.1 L1072.9,1041.0 Z M1059.1,1077.6 L1064.6,1076.6 L1070.1,1071.2 L1053.7,1073.9 L1054.6,1081.2 L1051.8,1088.5 L1053.7,1096.8 L1057.3,1089.5 L1061.0,1097.7 L1064.6,1090.4 Z M1055.5,1009.9 L1056.4,1022.7 L1059.1,1028.2 L1065.5,1030.0 L1066.5,1026.3 L1061.9,1022.7 L1061.9,1009.9 Z M1062.8,1109.6 L1062.8,1106.8 L1055.5,1106.8 L1055.5,1109.6 Z M1057.3,995.2 L1060.1,985.2 L1057.3,984.3 L1055.5,993.4 Z M1046.3,1041.0 L1048.2,1045.5 L1053.7,1036.4 Z M1051.8,1107.2 L1046.3,1107.7 L1046.3,1110.0 L1051.8,1109.6 Z M1039.0,1059.3 L1022.6,1072.1 L1023.5,1079.4 L1026.2,1089.5 L1044.5,1088.5 L1046.3,1064.8 L1051.8,1055.6 L1046.3,1052.0 Z M1009.9,1098.1 L1011.4,1097.8 L1011.6,1097.7 L1011.6,1088.5 L1002.4,1075.7 L986.0,1057.4 L980.5,1057.4 L986.0,1068.4 L995.1,1083.0 L1007.9,1098.6 Z M1011.6,1098.6 L1012.5,1102.3 L1026.2,1106.8 L1039.0,1109.6 L1040.9,1106.8 L1028.0,1103.2 Z M1026.2,1000.7 L1020.7,1002.6 L1021.6,1009.0 L1027.1,1008.0 Z M1005.9,737.6 L1009.5,733.9 L994.9,732.7 L996.1,736.3 Z M988.8,731.5 L993.7,727.8 L986.3,721.7 L969.3,719.3 L976.6,726.6 Z M938.4,1044.6 L933.8,1042.8 L934.8,1054.7 L939.3,1053.8 Z M862.0,755.5 L848.2,773.8 L851.0,779.3 L860.1,776.6 L863.8,760.1 L901.3,747.3 L900.4,744.6 Z M846.0,725.5 L846.6,721.5 L829.5,722.0 L830.0,725.5 Z M842.2,1121.2 L836.7,1134.0 L827.6,1137.7 L823.9,1157.8 L825.7,1169.7 L836.7,1168.8 L845.0,1130.4 Z M792.0,942.5 L793.0,939.5 L787.0,941.0 Z M767.3,721.7 L747.8,724.0 L762.4,729.0 L774.6,725.4 Z M772.0,936.5 L764.0,937.0 L764.0,939.0 L771.0,938.5 Z M761.0,740.5 L764.0,738.0 L755.0,737.0 Z M741.7,746.0 L752.7,735.0 L747.8,726.6 L724.6,729.0 L725.9,731.5 Z M736.1,936.8 L740.5,932.4 L730.2,933.9 Z M718.3,928.0 L720.7,928.0 L721.0,920.0 L721.0,912.7 L718.5,912.7 Z M693.7,875.4 L695.1,871.0 L689.3,863.7 L682.0,854.9 L684.1,847.6 L680.5,847.6 L681.2,842.4 L676.1,843.2 L674.6,852.0 L676.1,860.7 L677.6,869.5 L682.0,872.4 L674.6,879.8 L683.4,878.3 Z M667.3,871.0 L671.7,866.6 L670.2,859.3 L662.9,863.7 L661.5,871.7 Z M560.0,834.0 L625.0,783.0 L634.0,744.0 L633.0,736.0 L654.0,716.0 L611.0,704.0 L582.0,705.0 L530.0,706.0 L507.0,714.0 L472.0,739.0 L487.0,748.0 L509.0,751.0 L526.0,771.0 L528.0,788.0 L538.0,827.0 Z M622.2,810.7 L624.6,816.8 L635.6,816.8 L650.2,809.5 L645.4,804.1 L621.0,804.6 Z M195.6,862.0 L248.0,833.9 L266.0,836.0 L280.0,842.0 L296.0,859.0 L300.1,859.8 L305.4,870.5 L306.6,882.7 L312.7,886.3 L316.3,887.6 L316.3,919.3 L328.5,946.1 L340.7,953.4 L360.2,953.4 L373.2,960.0 L357.3,960.0 L358.5,967.3 L370.7,989.3 L375.6,1003.9 L390.2,1012.4 L402.4,1018.5 L414.6,1025.9 L426.8,1035.6 L436.6,1042.9 L447.6,1050.2 L457.3,1045.4 L451.2,1044.1 L446.3,1047.8 L436.6,1038.0 L440.2,1033.2 L439.0,1019.8 L424.4,1018.5 L426.8,1008.8 L429.3,999.0 L420.7,997.8 L419.5,1006.3 L404.9,1007.6 L397.6,996.6 L397.6,984.4 L393.9,978.3 L388.6,971.0 L388.8,970.9 L394.4,975.4 L399.3,970.5 L426.1,960.7 L440.7,964.4 L445.6,982.7 L449.3,980.2 L445.6,958.3 L462.7,943.7 L462.7,933.9 L479.8,914.4 L486.0,904.0 L494.4,908.3 L509.0,899.8 L496.8,897.3 L496.8,887.6 L493.0,886.5 L496.8,882.7 L516.3,877.8 L523.7,870.5 L521.2,865.6 L494.4,836.3 L482.2,841.2 L482.2,833.9 L470.0,824.1 L457.8,826.6 L459.0,851.0 L452.9,860.7 L454.1,876.6 L448.0,875.4 L443.2,860.7 L428.5,858.3 L412.7,846.1 L406.6,836.3 L413.9,826.6 L428.5,812.0 L437.1,804.6 L428.5,799.8 L413.9,777.8 L403.7,777.8 L404.1,795.4 L372.4,792.4 L340.7,791.2 L326.1,785.1 L296.8,783.9 L284.6,786.3 L265.1,787.6 L220.0,777.8 L190.7,791.2 L204.1,803.4 L185.9,804.6 L187.1,810.7 L206.6,816.8 L192.0,830.2 L217.6,843.7 Z M457.3,1045.4 L453.7,1062.4 L446.3,1082.0 L446.6,1097.3 L460.4,1125.7 L476.8,1141.2 L479.6,1144.9 L476.8,1185.1 L469.5,1229.0 L463.1,1265.6 L464.0,1281.2 L484.1,1296.7 L494.2,1296.7 L495.1,1292.1 L485.1,1285.7 L484.1,1274.8 L487.8,1266.5 L492.4,1261.0 L489.6,1252.8 L498.8,1240.0 L504.3,1232.7 L505.2,1225.4 L519.8,1224.5 L519.8,1208.9 L528.0,1208.0 L530.8,1201.6 L539.0,1194.3 L545.4,1183.3 L546.3,1172.3 L557.3,1162.3 L566.5,1160.4 L571.0,1150.4 L575.6,1137.6 L575.6,1126.6 L586.6,1106.3 L585.4,1096.6 L558.5,1084.4 L543.9,1074.6 L534.1,1057.6 L526.8,1056.3 L509.8,1047.8 L507.3,1038.0 L480.5,1032.0 L470.7,1033.2 Z M531.0,897.3 L533.4,890.0 L523.7,877.8 L516.3,885.1 L518.8,894.9 Z M517.0,1276.5 L507.0,1278.0 L508.0,1281.0 L518.0,1279.5 Z M505.1,705.2 L418.0,705.2 L418.0,709.6 L421.7,712.6 L443.7,719.1 L429.0,734.5 L423.2,742.6 L451.0,743.3 Z M464.0,794.0 L460.0,795.0 L463.0,798.0 Z M464.8,793.8 L470.0,797.3 L457.8,809.5 L477.3,816.8 L494.4,822.9 L504.1,803.4 L472.4,772.9 L452.9,762.0 L421.2,763.2 L421.2,775.4 L438.3,786.3 L462.7,792.4 L464.2,793.4 Z M485.4,1008.8 L480.5,1003.9 L468.3,1005.1 L468.3,1010.0 Z M437.8,996.6 L446.3,996.6 L463.4,1002.7 L465.9,1000.2 L446.3,991.7 L436.6,994.1 Z M421.7,749.9 L414.4,743.3 L402.7,741.8 L402.7,746.2 L411.5,750.6 L415.9,754.3 L451.0,754.3 L451.0,749.9 Z M448.0,816.8 L435.9,810.7 L431.0,818.0 Z M446.6,789.4 L433.4,785.7 L434.9,795.9 L443.7,797.4 Z M411.5,715.5 L401.2,715.5 L401.2,724.3 L407.1,725.7 L410.0,731.6 L421.7,731.6 L427.6,725.7 Z M408.5,768.2 L417.3,761.6 L404.2,761.6 L404.9,766.7 Z M402.0,737.4 L401.5,734.5 L395.4,733.8 L396.5,737.0 Z M391.0,772.6 L395.4,771.1 L395.4,763.0 L385.9,762.3 L382.2,766.7 Z M382.2,748.1 L386.6,748.5 L387.3,752.8 L392.4,752.1 L392.4,744.6 L382.2,743.8 Z M383.7,734.5 L388.1,735.2 L383.7,731.6 L372.0,729.4 L372.7,730.9 Z M372.0,763.8 L360.2,766.7 L342.7,766.7 L332.4,772.6 L338.3,782.8 L351.5,788.7 L379.3,787.2 L382.2,782.8 L374.9,777.0 Z M358.8,744.8 L351.5,747.7 L341.2,745.5 L335.4,750.6 L336.8,751.3 L348.5,755.7 L352.9,754.3 L367.6,753.5 L369.0,749.9 L363.2,749.1 Z M343.9,967.3 L358.5,990.5 L363.0,989.0 L346.0,956.0 L341.5,956.0 Z M355.9,736.5 L348.5,736.2 L349.0,738.6 L355.5,738.9 Z M336.1,741.8 L336.8,738.2 L329.5,738.9 L320.0,746.2 L322.2,747.0 Z M310.5,769.6 L316.3,774.8 L329.5,768.2 L336.8,760.9 L323.7,758.7 L312.7,759.4 Z M293.0,863.0 L289.5,864.0 L294.0,872.0 L297.0,871.0 Z" fill="none" stroke="#a3c6de" stroke-width="1.3" stroke-linejoin="round"/>
</g></g>
<circle cx="1103" cy="1903.6" r="36.2" fill="#fff" stroke="#8a2c6e" stroke-width="1.7"/>
<g transform="translate(1066.8,1867.4)" fill="none" stroke="#6e1f52" stroke-width="1.8" stroke-linecap="round" stroke-linejoin="round">
<line x1="30.2" y1="10" x2="30.2" y2="17.4"/>
<line x1="19.3" y1="14.8" x2="24.2" y2="19.5"/>
<line x1="41.2" y1="14.8" x2="36.5" y2="19.8"/>
<line x1="14.3" y1="25.8" x2="22.2" y2="25.8"/>
<line x1="39" y1="25.8" x2="46.1" y2="25.8"/>
<line x1="19.2" y1="37.3" x2="24.4" y2="32.1"/>
<path d="M34.6,47 L31,41 L28.4,27.6 C27.9,24.3 32.8,23 33.7,26.4 L35.6,35.5 M34.4,31.5 C34.2,28.6 38.8,28.3 39.3,31.2 L40.2,38.5 M39.3,31.2 C39.2,28.3 44.2,28.1 44.7,31 L45.6,38.8 M44.7,31 C44.8,28.6 49.6,28.4 50.6,31.2 L53.8,38.5 C55.8,43.5 56.9,49 57.2,54 C57.3,56.3 56.4,57.5 54.5,58.2 L43.7,61.9 C41.9,62.5 40.6,62.1 39.4,61.1 L24.5,48.9 C22.2,46.9 24.1,42.7 27.3,44.2 L34.6,47"/>
</g>
<text x="563" y="2200.8" font-family="'Liberation Sans', Arial, sans-serif" font-size="20" fill="#46a2cf" font-style="italic" text-anchor="middle" textLength="63.4" lengthAdjust="spacingAndGlyphs">OCÉAN</text>
<text x="563" y="2229.5" font-family="'Liberation Sans', Arial, sans-serif" font-size="20" fill="#46a2cf" font-style="italic" text-anchor="middle" textLength="117.1" lengthAdjust="spacingAndGlyphs">ATLANTIQUE</text>
<text x="304.6" y="2300.6" font-family="'Liberation Sans', Arial, sans-serif" font-size="20" fill="#46a2cf" font-style="italic" text-anchor="middle" textLength="63.4" lengthAdjust="spacingAndGlyphs">OCÉAN</text>
<text x="304.6" y="2329.3" font-family="'Liberation Sans', Arial, sans-serif" font-size="20" fill="#46a2cf" font-style="italic" text-anchor="middle" textLength="97.5" lengthAdjust="spacingAndGlyphs">PACIFIQUE</text>
<text x="1199.5" y="2203.7" font-family="'Liberation Sans', Arial, sans-serif" font-size="20" fill="#46a2cf" font-style="italic" text-anchor="middle" textLength="63.4" lengthAdjust="spacingAndGlyphs">OCÉAN</text>
<text x="1199.5" y="2232.4" font-family="'Liberation Sans', Arial, sans-serif" font-size="20" fill="#46a2cf" font-style="italic" text-anchor="middle" textLength="97.5" lengthAdjust="spacingAndGlyphs">PACIFIQUE</text>
<text x="915.3" y="2295.6" font-family="'Liberation Sans', Arial, sans-serif" font-size="20" fill="#46a2cf" font-style="italic" text-anchor="middle" textLength="63.4" lengthAdjust="spacingAndGlyphs">OCÉAN</text>
<text x="915.3" y="2324.3" font-family="'Liberation Sans', Arial, sans-serif" font-size="20" fill="#46a2cf" font-style="italic" text-anchor="middle" textLength="66" lengthAdjust="spacingAndGlyphs">INDIEN</text>
<text x="0" y="0" font-family="'Liberation Sans', Arial, sans-serif" font-size="22" fill="#3d3d3d" textLength="242.3" lengthAdjust="spacingAndGlyphs" transform="translate(152.4,2503.1) rotate(-90)">Sources : Index Mundi, 2015,</text>
<text x="0" y="0" font-family="'Liberation Sans', Arial, sans-serif" font-size="22" fill="#3d3d3d" textLength="206" lengthAdjust="spacingAndGlyphs" transform="translate(177.4,2503.1) rotate(-90)">Shanghai Ranking, 2017.</text>
<line x1="626.8" y1="2054.8" x2="677.6" y2="2054.8" stroke="#1a1a1a" stroke-width="1.8"/>
<line x1="679.2" y1="2009.8" x2="722" y2="2076.3" stroke="#1a1a1a" stroke-width="1.8"/>
<polygon points="274.9,2151.8 282,2152.7 286.7,2158 292.8,2143.1 300.6,2158 304.3,2152.7 311.4,2151.8 304.3,2131 281.4,2131" fill="#fff" filter="url(#shd)"/>
<circle cx="293.3" cy="2119" r="15.5" fill="#0e6b40" filter="url(#shd2)"/>
<text x="293.3" y="2127" font-family="'Liberation Sans', Arial, sans-serif" font-size="23" fill="#fff" font-weight="bold" text-anchor="middle">1</text>
<polygon points="935.7,2161.8 942.8,2162.7 947.5,2168 953.6,2153.1 961.4,2168 965.1,2162.7 972.2,2161.8 965.1,2141 942.2,2141" fill="#fff" filter="url(#shd)"/>
<circle cx="954.1" cy="2129" r="15.5" fill="#0e6b40" filter="url(#shd2)"/>
<text x="954.1" y="2137" font-family="'Liberation Sans', Arial, sans-serif" font-size="23" fill="#fff" font-weight="bold" text-anchor="middle">2</text>
<polygon points="585.6,2087.6 592.7,2088.5 597.4,2093.8 603.5,2078.9 611.3,2093.8 615,2088.5 622.1,2087.6 615,2066.8 592.1,2066.8" fill="#fff" filter="url(#shd)"/>
<circle cx="604" cy="2054.8" r="15.5" fill="#27875a" filter="url(#shd2)"/>
<text x="604" y="2062.8" font-family="'Liberation Sans', Arial, sans-serif" font-size="23" fill="#fff" font-weight="bold" text-anchor="middle">3</text>
<polygon points="641.7,2002 648.8,2002.9 653.5,2008.2 659.6,1993.3 667.4,2008.2 671.1,2002.9 678.2,2002 671.1,1981.2 648.2,1981.2" fill="#fff" filter="url(#shd)"/>
<circle cx="660.1" cy="1969.2" r="15.5" fill="#2c9463" filter="url(#shd2)"/>
<text x="660.1" y="1977.2" font-family="'Liberation Sans', Arial, sans-serif" font-size="23" fill="#fff" font-weight="bold" text-anchor="middle">4</text>
<polygon points="987,2403.3 994.1,2404.2 998.8,2409.5 1004.9,2394.6 1012.7,2409.5 1016.4,2404.2 1023.5,2403.3 1016.4,2382.5 993.5,2382.5" fill="#fff" filter="url(#shd)"/>
<circle cx="1005.4" cy="2370.5" r="15.5" fill="#35986a" filter="url(#shd2)"/>
<text x="1005.4" y="2378.5" font-family="'Liberation Sans', Arial, sans-serif" font-size="23" fill="#fff" font-weight="bold" text-anchor="middle">5</text>
<text x="323.1" y="2125.5" font-family="'Liberation Sans', Arial, sans-serif" font-size="24.5" fill="#fff" font-weight="bold" textLength="132.5" lengthAdjust="spacingAndGlyphs">ÉTATS-UNIS</text>
<text x="389.5" y="2150.9" font-family="'Liberation Sans', Arial, sans-serif" font-size="24.5" fill="#fff" font-weight="bold" text-anchor="middle" textLength="35.8" lengthAdjust="spacingAndGlyphs">139</text>
<text x="543.8" y="2118.2" font-family="'Liberation Sans', Arial, sans-serif" font-size="24.5" fill="#1e1e1e" font-weight="bold" textLength="119.5" lengthAdjust="spacingAndGlyphs">ROYAUME-</text>
<text x="603" y="2142.9" font-family="'Liberation Sans', Arial, sans-serif" font-size="24.5" fill="#1e1e1e" font-weight="bold" text-anchor="middle" textLength="38.1" lengthAdjust="spacingAndGlyphs">UNI</text>
<text x="603.8" y="2166.7" font-family="'Liberation Sans', Arial, sans-serif" font-size="24.5" fill="#1e1e1e" font-weight="bold" text-anchor="middle" textLength="26.9" lengthAdjust="spacingAndGlyphs">39</text>
<text x="683.5" y="1972.4" font-family="'Liberation Sans', Arial, sans-serif" font-size="24.5" fill="#1e1e1e" font-weight="bold" textLength="134.2" lengthAdjust="spacingAndGlyphs">ALLEMAGNE</text>
<text x="725" y="1997.5" font-family="'Liberation Sans', Arial, sans-serif" font-size="24.5" fill="#1e1e1e" font-weight="bold" text-anchor="middle" textLength="27.6" lengthAdjust="spacingAndGlyphs">36</text>
<text x="977.6" y="2144.1" font-family="'Liberation Sans', Arial, sans-serif" font-size="24.5" fill="#fff" font-weight="bold" textLength="66.3" lengthAdjust="spacingAndGlyphs">CHINE</text>
<text x="1014" y="2169.3" font-family="'Liberation Sans', Arial, sans-serif" font-size="24.5" fill="#fff" font-weight="bold" text-anchor="middle" textLength="25.6" lengthAdjust="spacingAndGlyphs">62</text>
<text x="1032.9" y="2377.8" font-family="'Liberation Sans', Arial, sans-serif" font-size="24.5" fill="#fff" font-weight="bold" textLength="123.2" lengthAdjust="spacingAndGlyphs" stroke="#d3302a" stroke-width="3" paint-order="stroke">AUSTRALIE</text>
<text x="1093.9" y="2403.4" font-family="'Liberation Sans', Arial, sans-serif" font-size="24.5" fill="#fff" font-weight="bold" text-anchor="middle" textLength="24.4" lengthAdjust="spacingAndGlyphs">23</text>
<text x="1304.4" y="1983.7" font-family="'Liberation Sans', Arial, sans-serif" font-size="29" fill="#4b5054" font-weight="bold" textLength="404.3" lengthAdjust="spacingAndGlyphs">Taux d’alphabétisation en 2015</text>
<rect x="1303.8" y="2003" width="61.5" height="35.5" fill="#d3302a"/>
<text x="1386.2" y="2029" font-family="'Liberation Sans', Arial, sans-serif" font-size="26.5" fill="#4b5054" textLength="160.8" lengthAdjust="spacingAndGlyphs">de 90 à 100 %</text>
<rect x="1303.8" y="2056" width="61.5" height="35.5" fill="#e08a2d"/>
<text x="1386.2" y="2082" font-family="'Liberation Sans', Arial, sans-serif" font-size="26.5" fill="#4b5054" textLength="145.8" lengthAdjust="spacingAndGlyphs">de 70 à 90 %</text>
<rect x="1303.8" y="2107.7" width="61.5" height="35.5" fill="#f6c453"/>
<text x="1386.2" y="2134.3" font-family="'Liberation Sans', Arial, sans-serif" font-size="26.5" fill="#4b5054" textLength="143.3" lengthAdjust="spacingAndGlyphs">de 35 à 70 %</text>
<rect x="1303.8" y="2160.6" width="61.5" height="35.5" fill="#fff2da"/>
<text x="1386.2" y="2187" font-family="'Liberation Sans', Arial, sans-serif" font-size="26.5" fill="#4b5054" textLength="142.7" lengthAdjust="spacingAndGlyphs">de 18 à 35 %</text>
<rect x="1303.8" y="2213.6" width="61.5" height="35.5" fill="#d9d9d9"/>
<text x="1386.2" y="2240" font-family="'Liberation Sans', Arial, sans-serif" font-size="26.5" fill="#4b5054" textLength="262.2" lengthAdjust="spacingAndGlyphs">Absence de données</text>
<text x="1304.4" y="2295.4" font-family="'Liberation Sans', Arial, sans-serif" font-size="29" fill="#4b5054" font-weight="bold" textLength="434.4" lengthAdjust="spacingAndGlyphs">Top 5 du classement de Shanghai</text>
<text x="1304.4" y="2324" font-family="'Liberation Sans', Arial, sans-serif" font-size="29" fill="#4b5054" font-weight="bold" textLength="98.9" lengthAdjust="spacingAndGlyphs">en 2018</text>
<polygon points="1304.1,2393.2 1311.2,2394.1 1315.9,2399.4 1322,2384.5 1329.8,2399.4 1333.5,2394.1 1340.6,2393.2 1333.5,2372.4 1310.6,2372.4" fill="#fff" filter="url(#shd)"/>
<circle cx="1322.5" cy="2360.4" r="15.5" fill="#0e6b40" filter="url(#shd2)"/>
<text x="1322.5" y="2368.4" font-family="'Liberation Sans', Arial, sans-serif" font-size="23" fill="#fff" font-weight="bold" text-anchor="middle">1</text>
<text x="1364" y="2377.8" font-family="'Liberation Sans', Arial, sans-serif" font-size="26.5" fill="#4b5054" textLength="326.3" lengthAdjust="spacingAndGlyphs">Position dans le classement</text>
<text x="1309" y="2436.5" font-family="'Liberation Sans', Arial, sans-serif" font-size="24" fill="#111" font-weight="bold" textLength="25.5" lengthAdjust="spacingAndGlyphs">57</text>
<text x="1364" y="2438.7" font-family="'Liberation Sans', Arial, sans-serif" font-size="26.5" fill="#4b5054" textLength="249.5" lengthAdjust="spacingAndGlyphs">Nombre d’universités</text>
<text x="1364" y="2468.2" font-family="'Liberation Sans', Arial, sans-serif" font-size="26.5" fill="#4b5054" textLength="179.2" lengthAdjust="spacingAndGlyphs">dans le top 500</text>
<rect x="0" y="2563.1" width="81.9" height="93" fill="#bfcd3f"/>
<text x="106.6" y="2582.3" font-family="'Liberation Sans', Arial, sans-serif" font-size="28" fill="#444" textLength="43.8" lengthAdjust="spacingAndGlyphs">390</text>
</svg></body></html>
